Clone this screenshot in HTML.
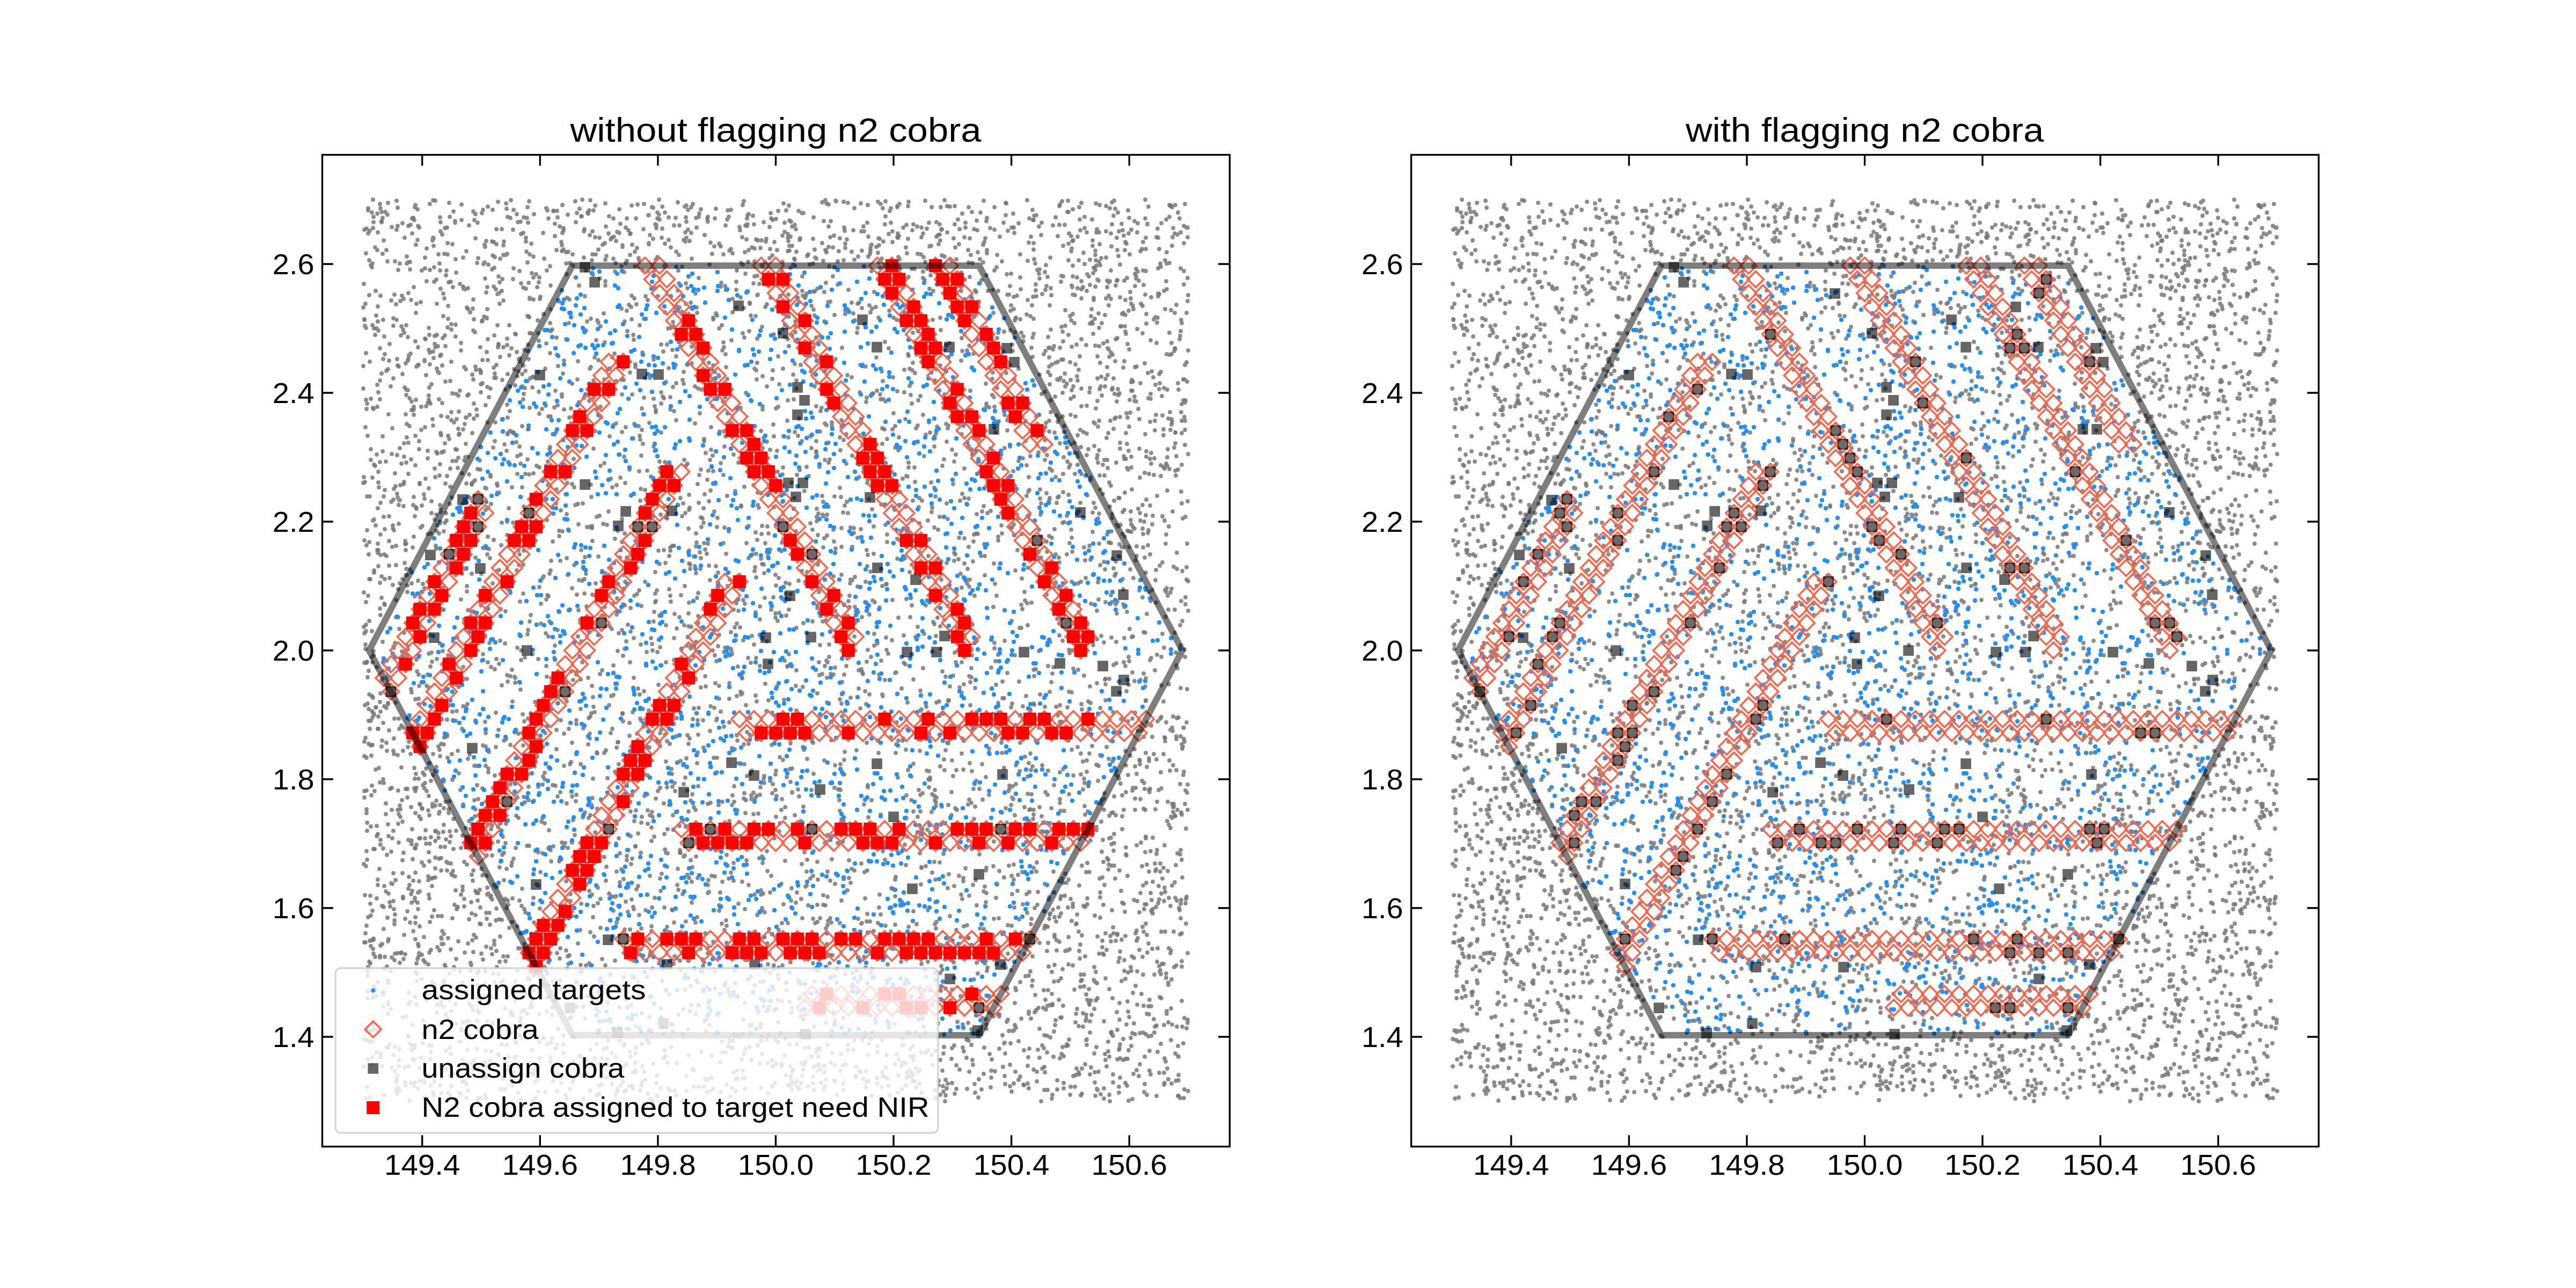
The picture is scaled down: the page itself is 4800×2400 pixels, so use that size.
<!DOCTYPE html><html><head><meta charset="utf-8"><style>html,body{margin:0;padding:0;background:#fff;width:4800px;height:2400px;overflow:hidden}svg{display:block}text{font-family:"Liberation Sans",sans-serif}</style></head><body><svg width="4800" height="2400" viewBox="0 0 4800 2400"><rect width="4800" height="2400" fill="#fff"/><defs><g id="tg" stroke="#777" stroke-opacity="0.85" stroke-width="7.8" stroke-linecap="round" fill="none"><path d="M1317 2035h0M1547 1780h0M1527 1456h0M1451 1803h0M1199 427h0M2015 757h0M1565 815h0M1918 1662h0M963 1063h0M2188 654h0M1175 1969h0M1889 754h0M771 1000h0M987 760h0M2164 1665h0M682 2047h0M824 1203h0M1051 576h0M1722 1181h0M781 1278h0M2051 1497h0M1904 1615h0M1644 1938h0M1731 1377h0M1084 2003h0M2112 2001h0M1214 538h0M1882 1984h0M1329 2029h0M1168 1983h0M1229 409h0M1522 948h0M1494 1064h0M1695 594h0M1400 1975h0M764 1867h0M1152 1688h0M1018 800h0M2200 500h0M922 822h0M1857 1110h0M1023 1430h0M2007 517h0M1243 1381h0M1144 1101h0M1554 983h0M713 473h0M720 1384h0M1897 1630h0M1884 1500h0M1000 1391h0M1923 1093h0M2170 873h0M1803 658h0M819 1397h0M1831 1791h0M1272 1528h0M1600 1283h0M1252 893h0M1371 2033h0M1458 1226h0M827 1740h0M1877 1842h0M1580 956h0M1161 2016h0M830 901h0M1089 619h0M1896 1660h0M1258 1078h0M1433 1876h0M1222 484h0M786 1779h0M715 1806h0M1599 478h0M1293 1712h0M1911 1742h0M2145 844h0M1478 698h0M1913 924h0M1082 1424h0M1620 1294h0M1215 1200h0M1898 687h0M1949 1881h0M1951 1550h0M1654 2010h0M1267 1790h0M1482 619h0M2114 1396h0M1942 1434h0M1296 1509h0M715 1848h0M697 1063h0M1304 1742h0M695 760h0M1473 1322h0M2123 1100h0M1312 1133h0M1429 823h0M1881 1470h0M1741 1483h0M1802 1087h0M1168 677h0M1726 1317h0M897 1069h0M2204 966h0M1927 718h0M1573 1663h0M1765 433h0M1621 1511h0M1182 1322h0M1270 1335h0M848 415h0M1455 1100h0M1923 569h0M1239 861h0M2208 829h0M1473 1107h0M1176 655h0M887 1346h0M2067 1265h0M1228 1674h0M2190 826h0M1313 438h0M1100 2032h0M1999 1690h0M883 1742h0M1891 1910h0M1549 1345h0M2055 1777h0M1990 824h0M1696 647h0M1181 1287h0M1088 480h0M695 1859h0M1111 1880h0M783 1499h0M2005 1722h0M2083 725h0M2015 378h0M2004 1905h0M1270 1209h0M757 1894h0M680 898h0M791 2017h0M1400 674h0M1359 1530h0M1791 508h0M1985 1628h0M1750 728h0M1889 2019h0M1586 1768h0M1059 1070h0M1229 860h0M1422 1783h0M1134 1544h0M2115 1927h0M2012 409h0M1597 1509h0M880 1536h0M1950 919h0M761 883h0M1349 1354h0M1157 1339h0M1615 1138h0M781 424h0M2084 1792h0M2173 1814h0M1780 718h0M1116 1105h0M1463 1120h0M2191 2014h0M1066 1613h0M942 1980h0M1355 924h0M1587 1024h0M1417 1914h0M1688 1612h0M733 593h0M2139 695h0M764 1061h0M1637 489h0M2013 1558h0M2004 679h0M905 1391h0M1209 453h0M927 606h0M1538 1357h0M1995 2025h0M1101 684h0M1611 818h0M2099 454h0M2159 1651h0M1247 1066h0M907 1712h0M2102 1344h0M1941 415h0M1860 1310h0M1168 1603h0M838 1493h0M743 1975h0M831 513h0M1067 474h0M807 1444h0M891 2051h0M1376 1138h0M1243 642h0M1006 1972h0M1129 848h0M1447 1483h0M1732 1122h0M1486 555h0M1538 729h0M1758 1591h0M786 1607h0M2106 769h0M1398 1911h0M1356 1492h0M2000 1246h0M792 1459h0M1808 912h0M1120 1283h0M1472 1987h0M849 1659h0M855 767h0M1928 1337h0M1560 1713h0M797 840h0M744 932h0M733 931h0M1163 1180h0M773 1142h0M711 1074h0M1393 680h0M1880 1921h0M1309 1495h0M1974 1093h0M1206 1667h0M1514 1589h0M1887 1178h0M2133 1039h0M1363 634h0M1729 1567h0M1042 1140h0M747 625h0M1686 1525h0M1289 677h0M1329 595h0M1070 1020h0M867 1575h0M2029 1026h0M1574 942h0M1732 1535h0M1977 1823h0M691 1763h0M1084 831h0M1291 1340h0M1889 424h0M1026 776h0M1975 1496h0M1955 784h0M2184 1524h0M1918 913h0M837 1314h0M1854 766h0M1103 485h0M1294 572h0M1975 961h0M1184 1995h0M704 571h0M1351 740h0M1475 899h0M1799 1080h0M1370 1832h0M1068 495h0M1349 804h0M1955 804h0M1760 478h0M1491 826h0M859 639h0M1722 850h0M813 1022h0M1689 1826h0M859 1580h0M1871 1635h0M1659 1759h0M2075 1739h0M2068 1011h0M1438 1291h0M1779 418h0M1943 836h0M1556 1647h0M1105 1985h0M1267 1262h0M1336 982h0M1004 1849h0M1463 1524h0M1442 623h0M1860 1343h0M704 1013h0M1435 669h0M1359 1543h0M1251 1951h0M750 416h0M980 538h0M1496 1360h0M827 1287h0M2008 1392h0M1617 1965h0M1426 572h0M1787 1002h0M1551 1962h0M1044 1185h0M1610 873h0M933 1148h0M1687 569h0M1285 1298h0M1211 1519h0M1339 1493h0M1650 786h0M2048 839h0M1112 1402h0M684 1533h0M1773 1789h0M1186 567h0M2145 1930h0M1402 596h0M1021 1148h0M685 1847h0M1843 1887h0M1217 1982h0M2046 1455h0M770 764h0M1842 593h0M882 1140h0M1459 1416h0M1693 871h0M1704 637h0M805 1708h0M2096 918h0M1328 960h0M2060 1739h0M1283 985h0M2065 1959h0M1962 1562h0M1710 949h0M2211 675h0M1007 1826h0M2038 555h0M1301 1105h0M954 1317h0M1183 496h0M2101 1632h0M2048 611h0M1762 1398h0M1069 855h0M1956 873h0M2058 1478h0M744 2032h0M1641 687h0M1683 569h0M781 1521h0M1166 1408h0M2053 1491h0M1760 1272h0M1302 937h0M1412 1948h0M759 1470h0M2160 1676h0M2161 1858h0M1030 1829h0M1082 643h0M1865 847h0M1857 1796h0M1670 987h0M678 1610h0M1550 1459h0M2211 1057h0M1738 496h0M2207 707h0M1408 1750h0M886 1705h0M1536 692h0M1446 1436h0M845 1526h0M1418 1458h0M1451 1733h0M2069 784h0M1981 1586h0M1748 1408h0M1536 1417h0M1947 730h0M1471 1812h0M1674 2004h0M805 1651h0M693 1752h0M1400 1489h0M791 1057h0M2085 1956h0M2182 1522h0M1732 1606h0M2107 953h0M1499 1365h0M1588 1019h0M1157 1668h0M1684 1756h0M697 866h0M1532 1630h0M1465 1270h0M1903 1127h0M1485 885h0M1997 1002h0M1988 834h0M1946 1730h0M1725 632h0M2120 1748h0M1452 1928h0M1396 617h0M1753 615h0M1853 797h0M1165 1768h0M1889 977h0M1242 1459h0M2072 1696h0M760 727h0M2132 1694h0M737 906h0M1394 488h0M1505 661h0M1587 1838h0M1643 1036h0M936 1092h0M1007 1678h0M2193 1678h0M1168 1917h0M1979 1475h0M1746 1541h0M1534 935h0M782 900h0M1817 2036h0M1829 2030h0M1611 1625h0M1401 1436h0M756 2023h0M1108 1327h0M2105 474h0M715 1690h0M1885 1581h0M2196 2042h0M2057 1197h0M830 645h0M2093 1020h0M1206 569h0M679 595h0M1572 793h0M1575 1926h0M1476 625h0M843 998h0M1114 1654h0M758 1360h0M2106 544h0M935 542h0M979 1737h0M1914 745h0M1419 1097h0M1553 1074h0M1100 1737h0M1096 1542h0M2096 608h0M1259 828h0M985 1491h0M1237 1497h0M1970 707h0M2053 737h0M2072 418h0M2059 1266h0M1595 2005h0M2101 1267h0M995 1387h0M1178 1891h0M1895 1540h0M910 1439h0M2059 1061h0M1668 834h0M1836 444h0M736 1704h0M1233 1800h0M1516 1124h0M1362 1209h0M1355 1762h0M2087 777h0M1352 1060h0M893 1581h0M777 1251h0M1672 1041h0M1031 393h0M930 1237h0M1502 586h0M927 1527h0M1345 606h0M1100 1519h0M1073 1652h0M1632 1905h0M1931 1882h0M1706 1100h0M1205 1306h0M1686 1040h0M1212 2048h0M917 1538h0M1463 1366h0M836 1508h0M1567 1964h0M1375 1602h0M694 606h0M993 702h0M1162 1821h0M1985 1772h0M709 1292h0M1005 1094h0M1536 1986h0M1017 886h0M741 1407h0M1002 597h0M1661 1326h0M1733 841h0M1332 1810h0M2005 1889h0M2200 1584h0M1143 482h0M1546 856h0M1083 1025h0M1392 1446h0M2174 539h0M1181 920h0M1862 1059h0M1021 883h0M934 1016h0M770 406h0M1225 396h0M956 520h0M1332 1633h0M1663 451h0M1523 592h0M1228 1795h0M862 2015h0M1426 1274h0M1291 1674h0M1981 1874h0M725 1361h0M1262 651h0M1588 849h0M1304 758h0M1364 1394h0M994 1535h0M1237 1654h0M1012 434h0M1713 1028h0M2124 1424h0M1631 1898h0M1311 2025h0M1056 958h0M1557 827h0M2079 1519h0M835 1059h0M1206 1480h0M1733 1453h0M1431 1929h0M1812 1578h0M1248 1493h0M908 1398h0M900 1389h0M2143 1115h0M1187 462h0M1573 1127h0M867 1001h0M1256 1719h0M1239 796h0M1477 672h0M1150 1115h0M1151 2033h0M752 557h0M1728 646h0M1655 1218h0M1061 778h0M2093 583h0M1795 1915h0M1406 515h0M1153 847h0M1584 1087h0M1658 588h0M1723 522h0M2202 1791h0M2036 991h0M899 597h0M1808 1314h0M1870 873h0M1347 1134h0M1341 804h0M1330 1412h0M1164 1209h0M1774 1417h0M1180 1402h0M1006 1751h0M1279 1237h0M1827 396h0M1433 1251h0M1300 658h0M1355 706h0M1616 1832h0M1601 1996h0M1914 1585h0M779 1694h0M1664 1700h0M2026 1164h0M781 1337h0M1492 1530h0M934 1555h0M1720 1245h0M1735 899h0M786 1824h0M1733 1552h0M2175 868h0M1214 2050h0M1580 577h0M1552 741h0M1066 1096h0M1030 1463h0M1396 1738h0M1818 1267h0M1498 1397h0M897 1619h0M1481 678h0M1994 675h0M2074 1930h0M2019 965h0M1062 2029h0M2136 1645h0M1495 542h0M2114 1269h0M1728 501h0M1683 1755h0M780 1763h0M1515 1632h0M1019 969h0M1114 644h0M1710 1998h0M2115 1328h0M1349 1215h0M1397 1951h0M1718 1545h0M1500 555h0M755 2017h0M896 2046h0M1820 958h0M977 652h0M1271 1726h0M827 1387h0M1826 1030h0M1496 607h0M1124 643h0M1427 517h0M1281 1473h0M1287 564h0M1481 419h0M1426 1012h0M813 959h0M2074 1514h0M1604 986h0M1371 1930h0M1489 780h0M1401 1909h0M1005 871h0M1831 1490h0M1514 778h0M962 824h0M1679 1043h0M870 1559h0M1867 1377h0M1415 1409h0M2119 1679h0M1025 1754h0M2121 948h0M1923 1492h0M1361 891h0M741 681h0M1718 933h0M1024 1789h0M1743 1639h0M717 660h0M948 1340h0M1092 1069h0M1827 1901h0M1256 1306h0M765 659h0M1026 576h0M1924 1428h0M1278 586h0M1386 375h0M1079 750h0M1569 1271h0M1513 1690h0M740 2004h0M1286 1060h0M1846 860h0M903 1416h0M1333 901h0M946 697h0M968 1033h0M848 412h0M702 1558h0M816 1707h0M1797 1050h0M1072 941h0M1819 840h0M1761 2052h0M1612 1288h0M875 1929h0M1781 757h0M700 1318h0M1135 1665h0M2054 1765h0M818 1323h0M1834 1218h0M702 1674h0M1253 1696h0M1653 1828h0M1636 520h0M1712 945h0M841 1963h0M1330 1175h0M2131 1373h0M1672 1004h0M1821 1704h0M913 1723h0M1149 1485h0M777 1815h0M773 1947h0M1514 638h0M926 1652h0M738 2016h0M1425 1114h0M1254 1519h0M823 1707h0M915 1767h0M1205 1215h0M966 692h0M1502 780h0M1765 994h0M1618 441h0M1461 1304h0M1469 815h0M1221 537h0M2115 533h0M1891 597h0M1467 784h0M702 847h0M1959 1506h0M1614 1123h0M2048 433h0M1003 1744h0M1014 1333h0M991 509h0M1713 975h0M1828 1036h0M1518 588h0M1609 2010h0M971 1934h0M2010 485h0M911 740h0M1418 1667h0M1149 983h0M1035 728h0M2021 1502h0M1975 1439h0M1340 1356h0M951 1435h0M679 1474h0M1264 1891h0M2121 1211h0M1302 1556h0M723 1310h0M1192 993h0M1557 669h0M1044 705h0M2045 1860h0M1678 1779h0M1350 832h0M1374 1995h0M1532 1891h0M1579 699h0M1282 391h0M1410 1378h0M1350 1626h0M1129 599h0M826 1095h0M1666 899h0M1994 2040h0M1842 1347h0M1628 1704h0M1742 709h0M793 892h0M985 793h0M971 1212h0M1642 1060h0M1232 731h0M2181 384h0M1883 887h0M1973 1863h0M1806 764h0M1926 1236h0M1234 1828h0M1675 440h0M1904 1078h0M755 1014h0M1578 1622h0M1058 1746h0M1029 614h0M1101 903h0M1556 1244h0M1729 1571h0M899 1153h0M1821 429h0M983 1779h0M684 1602h0M1338 1067h0M1076 802h0M801 1572h0M1311 1844h0M1958 746h0M1310 830h0M1088 1430h0M736 1225h0M1019 504h0M1331 953h0M1015 1452h0M1866 979h0M1200 1997h0M763 794h0M987 474h0M1481 1782h0M737 1309h0M1003 2034h0M1115 773h0M1799 1618h0M839 873h0M1628 1592h0M2171 1662h0M840 1769h0M694 1337h0M682 1614h0M1343 534h0M2173 1346h0M1715 738h0M1710 793h0M1539 601h0M1729 1792h0M1730 1571h0M1985 825h0M1082 1509h0M1250 611h0M2206 421h0M1382 1093h0M1457 972h0M1639 1265h0M697 1332h0M2129 1113h0M985 799h0M2192 568h0M1216 1233h0M1474 1238h0M2101 778h0M1082 586h0M1165 1084h0M811 1436h0M754 1989h0M1950 1584h0M1741 780h0M1058 833h0M1542 570h0M1473 1457h0M1518 1458h0M1528 1955h0M967 2016h0M860 1000h0M1628 1253h0M1536 599h0M1517 1913h0M1056 1040h0M785 1971h0M1901 517h0M1189 1283h0M1913 1525h0M1495 1533h0M1011 896h0M1611 1342h0M895 647h0M1066 1566h0M1885 1632h0M1509 493h0M1197 1987h0M1501 1978h0M1766 2019h0M1220 503h0M1117 443h0M1170 1877h0M1571 1897h0M1642 1318h0M2070 557h0M1499 508h0M798 1640h0M1087 1059h0M2067 1969h0M2045 747h0M994 925h0M902 590h0M1950 1009h0M964 1486h0M2037 1071h0M2022 1690h0M2063 684h0M1085 1082h0M1299 1709h0M1015 1802h0M2129 621h0M1523 1802h0M1539 1866h0M2047 1117h0M2041 644h0M1592 484h0M721 1801h0M976 1485h0M1452 1142h0M830 1494h0M1695 687h0M1650 978h0M1385 1118h0M1433 1029h0M775 1442h0M712 1987h0M872 1982h0M987 1810h0M1416 1981h0M1293 2025h0M1421 1608h0M730 1509h0M2085 1412h0M2027 1512h0M1034 1229h0M1908 2022h0M2030 1321h0M946 809h0M1648 800h0M2082 466h0M1456 923h0M714 669h0M1684 1947h0M959 1971h0M1744 1730h0M1326 2008h0M1502 1553h0M1650 526h0M2120 1362h0M1540 1633h0M1340 1278h0M2135 464h0M2003 844h0M797 1257h0M1825 911h0M730 846h0M1689 1511h0M1779 384h0M767 1066h0M1702 1512h0M1560 1806h0M803 1960h0M1982 2018h0M1964 1038h0M1807 444h0M1598 864h0M1108 1972h0M1696 1108h0M1840 1741h0M1729 1696h0M1184 1912h0M788 1944h0M1129 787h0M991 2000h0M982 1576h0M1706 1990h0M716 1316h0M1548 621h0M1776 1446h0M1366 1245h0M1715 1481h0M911 1518h0M1003 1025h0M884 1427h0M2007 957h0M1192 1382h0M1317 1899h0M745 491h0M970 926h0M778 390h0M945 969h0M789 1902h0M1710 823h0M2111 711h0M1352 813h0M2125 714h0M819 1771h0M1300 1350h0M868 827h0M1881 1464h0M1977 1670h0M1374 1380h0M2183 1097h0M721 1231h0M828 1833h0M2104 795h0M1285 946h0M2090 1751h0M2015 524h0M1007 1371h0M1143 1916h0M1462 432h0M1346 1643h0M2072 1928h0M1807 516h0M1111 717h0M685 1262h0M1250 552h0M1515 1287h0M2060 1351h0M2186 1513h0M1915 1058h0M1725 1310h0M771 1273h0M992 835h0M873 926h0M1655 2023h0M2049 382h0M882 1774h0M1303 1019h0M811 1635h0M1756 1251h0M1090 1038h0M1056 2046h0M1937 1917h0M1486 906h0M1313 921h0M1869 668h0M1907 627h0M1850 540h0M971 2050h0M1149 921h0M748 1430h0M2206 530h0M831 1891h0M800 1605h0M983 489h0M1882 680h0M1451 1315h0M995 1492h0M1302 1319h0M1029 1878h0M1617 1179h0M2034 1039h0M761 1871h0M1613 1061h0M693 1224h0M1166 796h0M1403 1024h0M1908 1544h0M2040 1998h0M1731 1005h0M1816 1198h0M1804 763h0M2121 1218h0M2206 1377h0M2071 1573h0M1332 407h0M1886 1486h0M1359 467h0M1441 1113h0M2010 1998h0M1500 1834h0M709 1034h0M1247 1853h0M2169 2021h0M2041 503h0M903 489h0M935 427h0M841 614h0M1649 1602h0M705 1920h0M1650 1782h0M691 837h0M1055 470h0M1099 687h0M714 1854h0M760 628h0M1222 839h0M682 1176h0M1989 1771h0M1691 767h0M900 1219h0M1902 539h0M961 1969h0M877 1545h0M868 1543h0M1392 1789h0M1752 681h0M2056 1030h0M1014 1935h0M1159 1989h0M1475 1778h0M2198 1696h0M2154 1620h0M1289 1562h0M705 1025h0M1726 547h0M1199 772h0M763 1340h0M960 1865h0M876 582h0M758 478h0M1409 1076h0M2048 1777h0M1222 1488h0M1629 1181h0M1668 794h0M1335 1550h0M1778 947h0M2082 630h0M757 726h0M2193 1060h0M1165 838h0M1715 1287h0M2158 500h0M1643 692h0M1773 1476h0M971 436h0M1991 454h0M1035 1953h0M2111 1850h0M829 1367h0M976 944h0M1901 1333h0M1212 1774h0M1694 1893h0M2109 1187h0M863 1502h0M1245 612h0M704 1639h0M1274 447h0M936 782h0M1853 1816h0M1992 1211h0M826 1136h0M772 410h0M2011 1772h0M1802 653h0M1748 1041h0M1150 1139h0M1457 1865h0M1563 757h0M1481 495h0M758 1071h0M921 1830h0M1870 655h0M1975 1314h0M838 939h0M1879 1474h0M740 669h0M1501 842h0M1395 980h0M850 508h0M1860 1315h0M1925 410h0M1015 752h0M876 1367h0M1261 1785h0M913 1040h0M1133 1256h0M1014 1165h0M1929 1466h0M1507 887h0M1141 1358h0M1718 1335h0M1874 1506h0M2057 1047h0M1456 1027h0M2026 1608h0M1990 1948h0M1777 444h0M1692 1598h0M2133 1470h0M1109 879h0M1490 1287h0M1384 1253h0M1173 871h0M1725 1614h0M1189 1553h0M1854 1088h0M1551 799h0M1230 872h0M2060 1975h0M1568 984h0M809 1003h0M1652 1966h0M1634 1168h0M936 1593h0M2211 1671h0M1825 1470h0M2023 1361h0M1937 698h0M1658 1065h0M949 864h0M1124 1341h0M2039 1880h0M1515 1244h0M1707 798h0M932 1194h0M1935 891h0M2209 1683h0M1553 1051h0M801 1106h0M1736 954h0M2195 1949h0M2081 748h0M954 908h0M774 636h0M1246 930h0M1948 1476h0M1148 1283h0M1525 957h0M779 1663h0M1705 695h0M1671 1443h0M2139 1016h0M1736 1966h0M1403 1746h0M2140 1758h0M679 1756h0M1660 1691h0M1200 772h0M1130 1284h0M1822 1097h0M1996 440h0M1420 1051h0M1882 1575h0M987 555h0M1515 1712h0M1386 574h0M1681 1980h0M1752 592h0M1390 1491h0M2098 1579h0M1185 1952h0M1476 422h0M2182 1879h0M1363 1747h0M1771 1523h0M1141 908h0M1716 1565h0M1342 1852h0M1597 620h0M1149 1535h0M937 781h0M1967 676h0M708 1134h0M752 1589h0M945 1451h0M862 1264h0M1448 1744h0M1140 640h0M1712 1899h0M2214 1138h0M1618 1523h0M1628 981h0M894 1150h0M1616 900h0M1466 913h0M1673 1449h0M2049 886h0M2102 392h0M1468 443h0M1004 730h0M1123 1105h0M1925 1526h0M2136 851h0M875 1157h0M1616 1703h0M1470 645h0M1514 1374h0M984 1823h0M1164 994h0M2182 1210h0M1409 1917h0M1538 1777h0M2162 1339h0M1446 1982h0M1572 1530h0M1159 1010h0M1093 1130h0M846 787h0M1964 1663h0M1126 863h0M1368 1465h0M2036 1186h0M792 1562h0M1745 414h0M1915 962h0M771 763h0M891 920h0M1470 1672h0M1104 431h0M716 2040h0M1324 1883h0M1018 388h0M970 413h0M1616 1132h0M908 721h0M1200 380h0M807 655h0M1419 1932h0M855 1995h0M1775 894h0M1045 2008h0M1368 1808h0M1634 1605h0M1296 1266h0M1122 904h0M1025 1432h0M1763 1882h0M1554 439h0M868 1483h0M1018 1241h0M704 1358h0M1782 817h0M1573 424h0M1368 1704h0M1847 1553h0M2095 1050h0M1549 1379h0M2133 677h0M939 450h0M822 1873h0M1573 1443h0M1825 1847h0M1731 1569h0M2090 417h0M1874 1347h0M1018 868h0M1162 1739h0M1758 2034h0M1149 1145h0M1780 1506h0M1830 965h0M807 373h0M1070 908h0M1874 401h0M1225 1215h0M1006 1693h0M2073 1419h0M1953 1074h0M863 938h0M1622 463h0M1241 712h0M2067 1562h0M2201 596h0M1251 1908h0M1906 1685h0M2199 2046h0M2195 396h0M694 1388h0M1669 1403h0M1719 1478h0M1239 582h0M1223 419h0M1494 799h0M2046 795h0M1751 1333h0M779 2029h0M695 1768h0M1973 708h0M850 1548h0M2073 1381h0M1208 1609h0M867 539h0M1795 1434h0M1250 757h0M2117 501h0M1948 654h0M786 1506h0M1641 1450h0M1716 1648h0M1151 1383h0M1108 666h0M1714 1994h0M1215 1513h0M1437 1136h0M1358 1849h0M1302 1873h0M1445 1472h0M1020 1814h0M1033 1226h0M695 1300h0M778 447h0M769 1106h0M1276 1568h0M1824 562h0M1783 1098h0M1772 934h0M909 1489h0M1455 1096h0M818 744h0M882 1552h0M1341 1230h0M951 1461h0M1847 2008h0M1364 1219h0M1631 863h0M1103 984h0M2164 416h0M922 1247h0M1779 1216h0M2099 1909h0M1617 1034h0M2075 1239h0M1027 1943h0M1322 1865h0M1320 1328h0M1739 542h0M959 867h0M1865 1244h0M1622 1065h0M2036 458h0M681 1201h0M1871 1540h0M1819 994h0M1270 1524h0M1364 2027h0M1656 436h0M1723 1845h0M1285 1231h0M1812 1400h0M1108 1571h0M1521 629h0M1856 1318h0M2085 1037h0M1633 609h0M2097 1973h0M1490 876h0M1211 1632h0M1547 1822h0M2073 661h0M715 963h0M1976 1328h0M1287 1208h0M1542 1624h0M835 570h0M1840 1803h0M1184 1963h0M2183 2019h0M1936 773h0M829 974h0M1840 1882h0M1375 969h0M1569 648h0M781 1174h0M715 1731h0M687 1847h0M1439 1055h0M1020 392h0M2060 706h0M1277 1815h0M750 1531h0M749 1214h0M855 2036h0M1111 890h0M2025 808h0M1362 836h0M1445 1151h0M1371 1193h0M2042 379h0M1539 1156h0M2031 484h0M824 751h0M1348 885h0M2024 1625h0M767 1957h0M1454 1230h0M1805 386h0M1017 1808h0M2090 1019h0M1110 474h0M1625 734h0M1766 967h0M1583 1535h0M1954 1676h0M1051 558h0M1400 747h0M1175 435h0M2062 1770h0M2055 1565h0M1759 1928h0M2152 1913h0M1720 773h0M950 866h0M1080 1223h0M805 1830h0M1218 1783h0M1154 1690h0M997 1765h0M1506 474h0M1923 1206h0M1860 1357h0M1728 1546h0M1983 973h0M1972 1828h0M1635 901h0M1726 1820h0M1646 1343h0M891 1858h0M1978 670h0M1058 1580h0M2164 1277h0M2160 697h0M844 1195h0M1214 1542h0M1465 392h0M1250 1121h0M1394 1327h0M1857 498h0M1310 670h0M940 1336h0M1167 1195h0M1521 482h0M1220 1701h0M1185 1998h0M1184 1577h0M2024 1891h0M862 1557h0M1291 1496h0M2084 928h0M1268 1589h0M1982 1590h0M1132 1868h0M921 704h0M1410 1307h0M1579 1801h0M735 549h0M678 1936h0M1720 1124h0M762 1634h0M722 1266h0M1960 1852h0M922 696h0M1725 1879h0M1623 737h0M1737 1626h0M1657 694h0M722 1246h0M2009 1248h0M1363 1213h0M2193 1030h0M799 1218h0M1496 551h0M1298 1329h0M1412 1661h0M2083 396h0M1441 791h0M1381 944h0M2206 453h0M821 1578h0M1408 1296h0M822 1992h0M1537 1571h0M1187 991h0M1716 1049h0M1050 429h0M1665 1702h0M2068 524h0M1377 654h0M770 941h0M2177 1136h0M1340 808h0M1186 715h0M1693 663h0M2116 1044h0M1467 1441h0M1593 597h0M994 1673h0M1997 1290h0M2028 1332h0M795 524h0M1793 920h0M2145 1226h0M1982 1398h0M1082 1811h0M1652 1088h0M690 1669h0M769 1974h0M1930 530h0M1174 694h0M1243 1736h0M2190 1673h0M965 414h0M1174 1234h0M908 1554h0M1766 1129h0M702 1539h0M1589 1361h0M1693 516h0M1177 595h0M1719 1553h0M800 749h0M983 856h0M1001 535h0M804 934h0M778 1682h0M2143 855h0M1285 601h0M2190 650h0M1952 1874h0M2169 542h0M852 947h0M1147 1530h0M1806 1490h0M2007 701h0M1704 1567h0M1150 1274h0M1792 1291h0M964 850h0M2173 1103h0M846 1802h0M1450 1942h0M1788 1281h0M792 480h0M2141 1413h0M2097 559h0M1965 986h0M1599 1784h0M1151 1467h0M1391 1603h0M1057 900h0M1532 453h0M1714 1590h0M1765 384h0M1410 1877h0M1850 694h0M864 538h0M1627 681h0M2162 1624h0M2164 1469h0M1776 1259h0M1868 1301h0M888 947h0M945 1920h0M708 861h0M2097 1824h0M1376 1422h0M1232 1188h0M800 1422h0M1956 1873h0M722 1710h0M1022 1111h0M1200 1288h0M1765 1384h0M1190 794h0M1978 1964h0M1289 482h0M1668 1670h0M1367 847h0M1916 1320h0M1230 1162h0M1092 1799h0M1192 1856h0M2190 1963h0M1216 2052h0M768 435h0M970 1285h0M1575 585h0M2166 774h0M861 1358h0M1155 1644h0M1013 585h0M1014 482h0M915 1243h0M1754 1080h0M1575 462h0M1506 1687h0M1816 1459h0M1276 1092h0M1975 381h0M1911 785h0M1025 602h0M1930 541h0M1893 1461h0M1541 1263h0M1166 2032h0M822 1599h0M906 935h0M1710 1065h0M1293 1752h0M1717 2036h0M2093 685h0M1955 999h0M1478 493h0M1613 546h0M1196 1522h0M1529 667h0M922 1445h0M1646 450h0M1948 1443h0M1527 967h0M862 1905h0M695 1910h0M1716 1859h0M1806 644h0M2147 977h0M1375 1722h0M1488 393h0M1162 1457h0M1607 680h0M2039 1802h0M1246 686h0M709 937h0M1142 639h0M1231 1879h0M1353 540h0M1942 1426h0M824 437h0M1732 459h0M1076 755h0M2010 1127h0M1105 500h0M1234 385h0M1995 1675h0M915 1192h0M1601 564h0M1269 1109h0M1878 1230h0M776 1795h0M2091 1682h0M2053 1288h0M1868 1740h0M2014 1828h0M2092 954h0M1354 1214h0M1437 652h0M2160 1999h0M979 1852h0M1241 1589h0M726 641h0M1645 710h0M1885 1220h0M1088 431h0M1178 1819h0M1620 1145h0M1387 1242h0M1824 2011h0M1142 1125h0M1279 413h0M1458 1116h0M1040 1296h0M822 811h0M2111 982h0M1408 1234h0M2073 1860h0M1154 569h0M742 1098h0M1020 1859h0M1257 2032h0M991 1769h0M896 695h0M1436 1423h0M2179 661h0M1066 1384h0M1418 873h0M1072 375h0M1638 1159h0M1652 1832h0M1399 1235h0M1929 491h0M795 1278h0M1076 1129h0M1512 1623h0M1230 1366h0M926 1494h0M2029 515h0M977 1344h0M689 674h0M1391 1012h0M833 1341h0M813 842h0M2022 1782h0M1758 742h0M1353 1032h0M1590 429h0M1664 703h0M1999 585h0M2192 1799h0M1515 1795h0M864 1338h0M1064 1794h0M903 1833h0M1460 1685h0M869 2020h0M827 1456h0M1207 559h0M1836 1017h0M1978 1282h0M2144 734h0M824 1735h0M1047 468h0M1596 892h0M1264 504h0M1597 929h0M761 1931h0M775 456h0M1806 1093h0M1374 2010h0M745 1794h0M1512 1482h0M952 1925h0M1251 1433h0M849 627h0M977 1406h0M953 1890h0M1927 1002h0M1039 1288h0M812 1548h0M1893 1426h0M1213 1595h0M947 1858h0M1047 735h0M2018 1419h0M910 1397h0M950 1928h0M1649 1490h0M1980 1194h0M789 2013h0M2181 1104h0M1654 1562h0M1544 422h0M1287 1603h0M1635 1220h0M1717 1796h0M1046 1721h0M1774 1844h0M1017 1423h0M856 1259h0M1630 892h0M1824 859h0M1233 1143h0M1049 820h0M1279 443h0M1214 1567h0M939 1380h0M1649 1267h0M1939 1577h0M1500 766h0M1415 1599h0M1613 683h0M1665 770h0M745 932h0M799 1667h0M2009 1087h0M1284 1050h0M2041 467h0M1412 1883h0M1751 1762h0M1178 1600h0M1610 1783h0M1811 1221h0M1394 1188h0M679 1382h0M1869 1446h0M774 867h0M1209 1302h0M919 1814h0M1801 901h0M1401 461h0M994 478h0M1439 577h0M2077 780h0M931 1585h0M1309 966h0M1254 721h0M840 1063h0M840 1964h0M1208 1090h0M1945 660h0M2064 872h0M1706 1740h0M1920 850h0M987 557h0M1529 766h0M1951 1028h0M2141 1472h0M1034 417h0M1516 1586h0M1240 1049h0M1536 1003h0M1727 1436h0M984 1825h0M2047 1997h0M792 500h0M708 649h0M1298 1011h0M1873 1963h0M688 1079h0M1622 1536h0M1038 747h0M772 1431h0M869 1321h0M714 1876h0M1727 426h0M767 1290h0M688 1792h0M1590 584h0M2098 1476h0M886 1343h0M1418 1041h0M1350 1733h0M1948 796h0M871 1956h0M1215 1708h0M839 2006h0M2022 1518h0M1720 1357h0M1684 1235h0M2123 1416h0M2067 1304h0M1160 1330h0M2021 492h0M1061 583h0M1085 1779h0M1102 1799h0M1466 589h0M827 1537h0M1554 2013h0M1426 489h0M1615 2016h0M777 1376h0M2070 1109h0M2052 1185h0M2007 1880h0M687 1033h0M782 1661h0M735 1789h0M1768 1166h0M870 1092h0M1966 1910h0M1355 1673h0M827 1876h0M2163 887h0M1954 648h0M1389 1515h0M1321 676h0M807 2035h0M2191 1216h0M1576 709h0M1156 890h0M1015 1308h0M1147 2039h0M1024 1069h0M734 1405h0M1642 527h0M1590 1848h0M1411 1705h0M1512 570h0M1908 1452h0M849 837h0M2113 1677h0M2075 705h0M1485 1663h0M2079 1046h0M1533 1868h0M1156 1704h0M696 404h0M775 583h0M1617 894h0M1035 649h0M1804 1747h0M1793 398h0M1636 1380h0M2132 1459h0M2190 806h0M1700 1398h0M1947 857h0M1262 1512h0M2212 711h0M1589 1834h0M1797 928h0M726 1946h0M1271 1045h0M1284 1618h0M1954 1569h0M1926 465h0M1164 1128h0M2074 2002h0M1836 1020h0M1011 1331h0M1763 1020h0M1062 1136h0M1993 1769h0M1723 907h0M905 1958h0M2008 851h0M1446 1489h0M1963 1969h0M1946 2031h0M1021 1455h0M835 594h0M2209 963h0M1635 548h0M2011 1650h0M1080 389h0M1583 1919h0M1257 1782h0M1617 1467h0M941 1879h0M1323 977h0M1369 1396h0M1403 651h0M1270 1636h0M843 733h0M920 1006h0M678 1104h0M1380 1289h0M1687 1832h0M1106 709h0M1253 1466h0M1406 794h0M1607 1350h0M2201 916h0M2110 1339h0M857 529h0M879 903h0M1393 418h0M1439 706h0M809 1696h0M1352 1610h0M1605 1721h0M2122 2005h0M1507 1931h0M773 1388h0M695 1940h0M723 1952h0M1952 516h0M1667 554h0M1442 945h0M1672 619h0M1899 1713h0M1926 1248h0M1183 469h0M1673 1389h0M1388 681h0M1380 1558h0M964 701h0M1222 764h0M1207 1535h0M1055 632h0M2200 1282h0M2068 944h0M957 391h0M1437 1632h0M1440 1987h0M1391 1111h0M1157 667h0M1421 757h0M2147 1373h0M1432 1040h0M1452 1650h0M1109 383h0M1446 1091h0M679 1235h0M976 405h0M1992 1289h0M1398 1556h0M1732 1538h0M1277 450h0M875 1406h0M1337 542h0M2177 1905h0M2066 526h0M2016 1322h0M1196 1888h0M1279 2033h0M2136 603h0M735 1722h0M889 1008h0M820 405h0M1847 1192h0M1143 1240h0M1195 1533h0M1100 373h0M1272 1666h0M1512 717h0M2184 458h0M1003 1466h0M1532 377h0M2171 1375h0M1674 839h0M1741 1163h0M1882 1161h0M1611 604h0M1232 752h0M1446 526h0M1193 2032h0M1318 1893h0M1221 1122h0M1994 973h0M1369 1169h0M1462 1231h0M1502 566h0M1091 1020h0M837 1863h0M1229 1147h0M1870 1738h0M2203 1157h0M757 606h0M1869 1988h0M1371 1184h0M696 1749h0M1998 449h0M828 1037h0M1196 761h0M1081 1967h0M2136 841h0M2046 1085h0M807 793h0M1635 1199h0M853 1690h0M1717 1616h0M1503 870h0M1611 1932h0M1812 1925h0M1965 1746h0M1427 450h0M813 989h0M1375 1117h0M2058 1649h0M792 796h0M899 671h0M1158 575h0M2033 1370h0M1539 466h0M945 972h0M2097 1399h0M714 1452h0M1232 1360h0M1679 1339h0M828 556h0M1871 618h0M709 551h0M2135 1067h0M1943 799h0M2196 1337h0M820 663h0M1092 1975h0M1284 1123h0M849 1007h0M916 924h0M2184 786h0M1834 1014h0M845 1582h0M1299 1753h0M1644 1092h0M1843 1474h0M1607 1009h0M1209 455h0M1028 1269h0M2008 441h0M1927 402h0M1554 1009h0M1610 431h0M2157 1767h0M1892 594h0M1886 1666h0M743 941h0M1235 739h0M693 498h0M1174 1400h0M1317 1839h0M1910 1410h0M1806 1669h0M1190 481h0M1826 1730h0M2026 511h0M1550 1332h0M1386 1387h0M982 1486h0M1915 1447h0M1950 1726h0M1751 931h0M1332 693h0M1929 1854h0M1711 746h0M1195 1730h0M1187 1367h0M937 1559h0M1677 917h0M1409 1675h0M2039 499h0M1419 494h0M1140 443h0M1912 1434h0M1274 1461h0M1494 1778h0M2174 660h0M2050 1319h0M1881 1398h0M1704 501h0M1392 421h0M727 1171h0M1343 1598h0M1694 1925h0M1361 2043h0M1215 525h0M1761 1095h0M2174 470h0M2155 442h0M1729 612h0M2128 464h0M1502 1356h0M1528 1711h0M1108 649h0M1025 833h0M1649 941h0M1175 1119h0M931 526h0M1618 2014h0M1353 1372h0M1772 1864h0M1523 1133h0M1751 1607h0M1433 1731h0M733 1548h0M2104 990h0M2057 2028h0M878 1681h0M1043 1786h0M1820 1327h0M2133 1685h0M850 734h0M1191 485h0M1413 1887h0M1372 540h0M1193 727h0M1974 895h0M2095 523h0M2015 883h0M2008 866h0M2065 1620h0M2158 552h0M976 1026h0M684 1548h0M1833 1771h0M897 984h0M1440 690h0M1767 1042h0M1680 1283h0M1176 1873h0M1625 575h0M1756 1807h0M2142 1863h0M960 718h0M1431 1881h0M943 1460h0M831 1240h0M1199 1430h0M1920 589h0M890 1920h0M1623 1224h0M1784 1904h0M1066 902h0M2070 1012h0M1924 391h0M906 449h0M1165 1615h0M932 665h0M1420 866h0M1007 1625h0M1760 1435h0M938 457h0M854 737h0M2181 1776h0M904 2041h0M1704 2015h0M1996 1462h0M1176 572h0M1843 1395h0M2032 1310h0M1852 1294h0M2192 850h0M714 1234h0M1819 1892h0M1442 1799h0M1835 1072h0M1356 1207h0M853 872h0M686 392h0M1005 771h0M1350 1125h0M2206 1356h0M2139 993h0M1852 1712h0M1294 1671h0M1901 595h0M723 688h0M1793 1675h0M1557 1022h0M1870 415h0M1473 1238h0M694 890h0M1788 1993h0M1992 871h0M1353 684h0M1320 1640h0M1686 1524h0M1260 2041h0M1895 959h0M1760 373h0M1680 1587h0M1395 466h0M760 1231h0M1488 1827h0M2070 1754h0M1011 1590h0M1499 694h0M1386 1612h0M1679 1687h0M2055 866h0M888 1664h0M1318 408h0M1469 1303h0M2030 1404h0M814 687h0M1528 1797h0M1256 1230h0M1106 1688h0M1522 1985h0M1914 726h0M954 1645h0M1947 1647h0M2085 1270h0M1117 506h0M1602 1051h0M713 1196h0M1339 1888h0M738 1053h0M983 710h0M1365 1575h0M1014 1735h0M1530 627h0M1566 1424h0M834 453h0M1735 458h0M1026 1063h0M2091 1521h0M2072 958h0M1550 1920h0M1794 1506h0M1239 1583h0M1754 428h0M1156 2023h0M1058 1782h0M1475 1241h0M1868 1270h0M1040 1310h0M2181 1543h0M999 1783h0M2163 1439h0M2070 1561h0M1104 1412h0M1177 1676h0M2205 1944h0M2095 855h0M1129 1902h0M824 1251h0M1011 1337h0M1448 1279h0M1138 1366h0M1871 1944h0M863 480h0M1632 1543h0M1971 674h0M1319 1649h0M1678 1686h0M1169 1088h0M820 1409h0M1620 519h0M1859 787h0M1920 1312h0M1815 1825h0M1137 1524h0M1471 411h0M899 892h0M1560 1356h0M1022 407h0M1380 1423h0M1985 1429h0M2079 532h0M917 1778h0M1035 1077h0M2196 726h0M1644 827h0M1693 705h0M1931 552h0M771 535h0M1528 1202h0M1978 1153h0M1485 1946h0M1989 395h0M803 1770h0M2177 2011h0M1519 480h0M1484 1170h0M1055 1771h0M1446 1309h0M1335 1232h0M1638 1135h0M843 1453h0M1957 1702h0M964 883h0M1194 999h0M937 1230h0M2142 1995h0M869 1059h0M2166 1637h0M1999 495h0M826 1550h0M874 1713h0M1296 1569h0M1404 935h0M1863 898h0M2186 1426h0M1473 499h0M1170 1555h0M2129 1317h0M1858 630h0M1624 618h0M817 1215h0M1940 1583h0M1811 1437h0M2067 665h0M1598 1849h0M734 1966h0M2066 1611h0M1396 819h0M2042 485h0M1086 1444h0M1538 466h0M1184 679h0M1955 933h0M2140 1875h0M1390 732h0M714 1264h0M766 1666h0M1371 2011h0M1595 1139h0M1445 1071h0M2003 2025h0M2156 924h0M1365 1854h0M2159 1472h0M1651 1119h0M960 1829h0M1436 1124h0M1449 879h0M681 1209h0M938 1782h0M1926 1311h0M1177 2023h0M908 535h0M2165 1796h0M1275 1064h0M1172 1706h0M2201 1514h0M1016 1741h0M1820 1794h0M2147 1099h0M1308 646h0M1938 1294h0M1605 1247h0M1142 1745h0M1058 1071h0M1060 602h0M1760 1584h0M1687 781h0M2021 425h0M1003 1588h0M1884 1808h0M1180 1282h0M860 1920h0M1358 1220h0M1435 1813h0M1282 1918h0M1168 486h0M781 822h0M997 1994h0M912 1198h0M1325 838h0M1122 1066h0M1525 1800h0M1002 693h0M1382 1974h0M948 1988h0M1534 732h0M1984 1669h0M1821 632h0M1475 1284h0M778 1106h0M1324 1429h0M1599 1829h0M1273 1881h0M1572 1499h0M1140 1962h0M991 1441h0M2116 1739h0M1951 1930h0M1621 473h0M1813 1984h0M1793 1315h0M1526 1045h0M1603 680h0M896 1722h0M776 1343h0M1821 980h0M1796 1380h0M2011 1153h0M1196 1945h0M1167 1654h0M1359 1302h0M1810 837h0M929 641h0M1376 1783h0M740 2038h0M2050 1672h0M684 2025h0M1585 1645h0M1403 1754h0M2078 389h0M738 1150h0M2125 1489h0M1761 689h0M1387 907h0M1682 1686h0M2044 1273h0M1960 894h0M1314 1260h0M1342 876h0M2172 1978h0M697 1838h0M2146 692h0M1056 1307h0M2168 800h0M1515 445h0M723 378h0M1313 689h0M1201 1811h0M1951 1772h0M1194 1769h0M1459 934h0M1180 1454h0M1949 788h0M945 754h0M1166 424h0M1315 1921h0M1776 703h0M2170 970h0M1998 945h0M947 1686h0M1553 1098h0M2171 485h0M924 539h0M1840 1876h0M1898 2012h0M1089 1352h0M1783 1240h0M2119 433h0M946 1678h0M1830 1348h0M1030 809h0M1340 612h0M1872 1943h0M1519 1320h0M2124 890h0M1348 474h0M1633 1746h0M1525 1483h0M1872 773h0M1264 1743h0M1509 1295h0M1564 1491h0M881 1641h0M932 482h0M934 1604h0M1795 1636h0M1605 1249h0M1083 1684h0M1021 860h0M1520 698h0M1216 1212h0M761 421h0M1307 1960h0M1691 1559h0M905 1359h0M1231 1240h0M2052 702h0M804 1637h0M2076 933h0M1877 1254h0M1931 401h0M1475 1878h0M1329 878h0M1218 832h0M681 1920h0M769 1601h0M970 1185h0M855 810h0M1275 1661h0M1529 1272h0M1688 461h0M2100 2023h0M835 812h0M1394 1226h0M2016 1613h0M1707 2026h0M763 1333h0M1211 438h0M831 1564h0M1674 1537h0M1047 575h0M1809 1826h0M1538 373h0M2187 1736h0M1375 1930h0M1839 1254h0M1243 1615h0M2123 1770h0M1956 569h0M1262 1421h0M832 1606h0M753 851h0M2037 622h0M747 1776h0M1693 633h0M2032 1359h0M1867 1403h0M2154 1690h0M2124 1983h0M920 1469h0M1883 579h0M841 783h0M1374 1857h0M1765 1805h0M1920 1508h0M1659 1473h0M1879 923h0M1221 418h0M925 1772h0M1038 393h0M687 1250h0M1458 439h0M762 662h0M2145 1697h0M2068 1125h0M792 2046h0M2028 1366h0M1680 1986h0M932 1745h0M889 1902h0M1362 1178h0M1441 1843h0M1079 1081h0M1397 566h0M804 1216h0M867 1060h0M1763 1748h0M1555 587h0M1016 1366h0M2120 1152h0M1220 827h0M1594 1542h0M1620 1097h0M1301 1451h0M985 1466h0M2212 1013h0M1903 1413h0M2187 1056h0M904 1810h0M964 1506h0M2100 1140h0M1465 1831h0M916 1162h0M886 444h0M726 1681h0M2037 1013h0M2140 1931h0M1674 500h0M2213 1462h0M2135 960h0M1682 1584h0M813 1923h0M1999 1019h0M2008 1549h0M2062 1104h0M2209 1126h0M1816 895h0M1249 868h0M1607 852h0M1904 1738h0M1712 1011h0M1328 757h0M2144 634h0M804 1948h0M2107 1934h0M1763 1113h0M1453 1534h0M2006 642h0M1633 903h0M2205 1356h0M1046 888h0M1336 1439h0M772 1469h0M2202 753h0M1271 962h0M2201 1120h0M1053 2040h0M1630 961h0M1233 1805h0M2062 1987h0M945 631h0M1411 514h0M751 1671h0M1790 1569h0M1196 586h0M1605 781h0M1471 1397h0M1247 1358h0M1540 379h0M1688 1098h0M1974 1162h0M1368 1328h0M1148 449h0M1297 617h0M774 1581h0M961 623h0M1176 923h0M1606 1150h0M1122 1850h0M1423 847h0M1639 1667h0M1241 1165h0M1926 594h0M1908 1957h0M2099 770h0M1749 799h0M725 672h0M1547 980h0M1888 1489h0M1302 2025h0M979 1536h0M1981 1645h0M1809 552h0M1195 1035h0M1146 1004h0M1219 1140h0M1916 916h0M1318 894h0M1706 1068h0M1378 1257h0M1924 665h0M1812 1843h0M2213 934h0M2179 620h0M1123 456h0M1332 1221h0M2112 576h0M1048 1580h0M1351 592h0M907 1021h0M1920 1810h0M1868 1800h0M1215 730h0M753 620h0M1336 588h0M1228 400h0M1559 2040h0M1503 547h0M864 1987h0M2209 746h0M1791 617h0M1470 1219h0M1683 1376h0M909 671h0M1073 517h0M1476 1432h0M1381 490h0M1860 1007h0M2078 673h0M1604 735h0M1540 764h0M760 1204h0M764 1945h0M1830 1772h0M1981 883h0M857 728h0M1606 467h0M2070 504h0M1066 1707h0M1731 1437h0M835 1608h0M1098 715h0M2081 978h0M2143 1033h0M825 1202h0M1758 760h0M1429 720h0M1941 1549h0M2104 406h0M1189 1018h0M1980 618h0M1705 898h0M2119 1872h0M1106 1869h0M1781 883h0M1253 1017h0M1658 2041h0M856 954h0M1016 687h0M2101 1866h0M1081 774h0M971 1160h0M1282 428h0M1895 1185h0M918 1906h0M1312 1227h0M2026 1674h0M1495 515h0M807 1405h0M915 1669h0M2050 1663h0M1409 1226h0M1305 1768h0M741 927h0M1429 516h0M1208 1363h0M1962 651h0M1561 1740h0M1681 1062h0M1027 1045h0M1222 795h0M2126 1570h0M865 1675h0M1609 960h0M2143 1230h0M1002 2010h0M1226 1474h0M1742 2031h0M687 1321h0M1281 537h0M829 1798h0M1536 944h0M2060 1275h0M2187 1498h0M1277 729h0M1408 1145h0M1408 1141h0M1613 1084h0M730 1468h0M1839 1133h0M1997 1716h0M1165 900h0M1960 1811h0M1900 1437h0M1338 533h0M967 1053h0M1510 1666h0M1612 1490h0M925 1228h0M1745 654h0M2019 805h0M1541 1739h0M1760 1690h0M2134 1588h0M963 656h0M1457 505h0M1182 790h0M1047 739h0M1796 1076h0M2123 1270h0M1924 629h0M1069 1523h0M850 1907h0M780 1224h0M2060 1305h0M1319 1013h0M840 1609h0M1838 1390h0M685 1818h0M1399 1925h0M1323 1188h0M1854 1996h0M800 1157h0M841 1884h0M2035 600h0M2148 1643h0M834 1899h0M1346 1961h0M1817 1356h0M2200 1372h0M1907 636h0M1539 901h0M774 1750h0M752 1356h0M1207 1445h0M1542 1556h0M960 1490h0M845 1232h0M1744 1495h0M1118 1297h0M947 861h0M1064 1420h0M2211 583h0M853 1399h0M2097 1208h0M1995 828h0M1129 1641h0M1926 1518h0M1542 1421h0M1022 1581h0M1753 1209h0M2069 1744h0M1259 680h0M872 2032h0M1297 1018h0M1417 1698h0M880 698h0M1544 460h0M1092 504h0M1890 1792h0M736 487h0M2211 1080h0M753 1179h0M991 1865h0M764 502h0M2031 1924h0M2135 443h0M1681 1948h0M1271 581h0M1430 1758h0M2035 409h0M1132 789h0M1013 720h0M1114 1924h0M1805 929h0M860 410h0M799 1281h0M1244 1590h0M2186 1504h0M1876 1233h0M1571 955h0M1730 1057h0M1027 1161h0M881 934h0M1193 1321h0M1855 1232h0M1392 1364h0M1083 403h0M1388 470h0M1440 891h0M1473 1793h0M1470 383h0M1212 1857h0M1835 1795h0M1331 1319h0M866 1982h0M1287 1206h0M1756 1555h0M2086 733h0M1752 1428h0M2125 1081h0M1424 1068h0M1473 1457h0M1562 1471h0M1073 1659h0M1978 1896h0M2213 442h0M954 805h0M1423 1451h0M1636 1720h0M1651 1576h0M1718 611h0M799 1483h0M678 1987h0M1843 984h0M2018 1471h0M999 511h0M1103 1278h0M1151 770h0M901 492h0M1632 688h0M2193 1060h0M1605 431h0M886 1003h0M1403 878h0M2155 639h0M1020 1353h0M1974 1184h0M1834 1711h0M1148 710h0M711 414h0M1955 1192h0M1583 1131h0M1862 1623h0M1606 1720h0M1294 1805h0M822 1866h0M1800 1083h0M1358 990h0M826 1453h0M1417 616h0M1288 386h0M1539 1906h0M1273 1426h0M1974 1124h0M1271 2052h0M1745 1537h0M2088 1460h0M2161 1054h0M1891 619h0M1740 817h0M1792 809h0M753 898h0M693 1983h0M1420 1596h0M791 1096h0M1788 585h0M689 1941h0M1695 719h0M1164 599h0M740 920h0M1246 447h0M2113 1907h0M995 1719h0M1089 574h0M1817 1282h0M1457 906h0M713 841h0M846 1807h0M2105 745h0M789 1261h0M1458 488h0M1779 1803h0M847 1169h0M2087 1946h0M2096 466h0M917 450h0M1119 1675h0M1345 1439h0M1261 1338h0"/><path d="M1945 1550h0M868 1325h0M2150 1899h0M1782 1733h0M2181 801h0M952 1885h0M1034 1172h0M2019 1688h0M1473 441h0M908 1667h0M1771 1920h0M1242 912h0M1178 1027h0M1751 1117h0M928 1568h0M1439 1741h0M1301 724h0M719 1497h0M1060 1358h0M977 1008h0M1126 1148h0M1333 1441h0M1247 862h0M1367 1608h0M1207 505h0M1603 1736h0M1792 630h0M968 1914h0M852 1188h0M830 1802h0M1114 613h0M1307 1172h0M1878 1777h0M1220 681h0M1158 707h0M2141 1890h0M825 1213h0M926 1064h0M2060 1122h0M1982 2028h0M865 1606h0M1736 938h0M844 2001h0M1730 1344h0M940 828h0M1904 995h0M2058 886h0M1008 1109h0M1537 2024h0M874 1028h0M1726 1377h0M2199 1209h0M2086 1785h0M1086 1523h0M1664 810h0M699 1783h0M1641 1521h0M1210 1393h0M1550 540h0M1838 1664h0M1949 1052h0M748 864h0M775 945h0M1623 457h0M863 1316h0M1710 1211h0M2101 1973h0M2163 693h0M715 448h0M1826 806h0M1203 1696h0M1403 1124h0M2060 1823h0M1070 872h0M832 504h0M1695 1066h0M1367 1849h0M1818 982h0M1697 1114h0M1153 1562h0M1423 1875h0M2213 518h0M1914 1701h0M699 461h0M1970 2030h0M1672 1884h0M1181 1263h0M1308 1810h0M698 1474h0M1612 1924h0M1534 962h0M1263 541h0M1324 1496h0M1772 484h0M1386 1136h0M879 1982h0M719 1517h0M1083 1509h0M1556 1902h0M2161 714h0M834 610h0M1333 899h0M2137 1889h0M1845 425h0M1642 1724h0M985 590h0M2108 566h0M1985 815h0M1394 1824h0M828 1827h0M2176 1494h0M1360 1856h0M2194 1590h0M1852 789h0M2008 709h0M1050 1946h0M1367 1998h0M819 1513h0M1581 1120h0M2040 594h0M930 546h0M2098 855h0M1937 502h0M1510 975h0M1158 1620h0M1753 386h0M1150 510h0M1228 372h0M1715 609h0M764 1719h0M1683 1042h0M1993 845h0M1149 1719h0M687 1343h0M786 1103h0M1253 1320h0M1744 2046h0M1497 1899h0M2051 2039h0M1780 1033h0M1044 1598h0M1835 641h0M854 799h0M1057 968h0M1265 528h0M995 1845h0M1053 604h0M1319 404h0M1102 1595h0M1664 1613h0M1497 1512h0M921 625h0M2110 728h0M1473 2006h0M1143 1729h0M871 1312h0M2100 518h0M1815 1188h0M803 2023h0M1387 629h0M1516 543h0M1633 460h0M743 683h0M1965 1709h0M1703 1892h0M1985 720h0M1820 411h0M1536 544h0M2124 956h0M1785 409h0M1833 1731h0M1509 1759h0M1151 1213h0M2084 736h0M1494 822h0M1578 1308h0M1592 1733h0M868 936h0M1835 764h0M1839 472h0M1439 2024h0M1839 1740h0M2170 1972h0M1464 1106h0M889 987h0M2134 407h0M1216 1805h0M889 1427h0M843 1326h0M1988 961h0M1808 1106h0M1143 1697h0M1367 1136h0M2180 768h0M1033 759h0M1041 561h0M1132 1450h0M1152 1440h0M1091 735h0M1953 628h0M1917 1422h0M1338 1204h0M2007 845h0M2031 723h0M2137 1742h0M961 1580h0M1015 1325h0M1185 407h0M905 1021h0M693 1297h0M1278 868h0M1086 1293h0M2017 1359h0M1358 1637h0M811 1549h0M1079 532h0M1099 438h0M1029 1636h0M2015 539h0M873 989h0M1977 525h0M1515 1384h0M905 755h0M2028 1307h0M861 882h0M773 1673h0M1411 676h0M705 616h0M2210 1544h0M1093 851h0M1046 1840h0M722 1178h0M1771 1749h0M968 1271h0M1098 747h0M973 1498h0M1718 1120h0M1163 507h0M1238 1554h0M1423 816h0M1967 1033h0M1073 414h0M826 1830h0M1353 1766h0M1848 1974h0M1752 1975h0M1815 1526h0M907 656h0M1114 1234h0M1924 709h0M2154 1062h0M2202 1801h0M1542 1947h0M1249 1499h0M1550 1458h0M1774 2018h0M723 1871h0M2043 1547h0M2075 1059h0M1144 1104h0M1485 568h0M882 616h0M1373 1162h0M1144 441h0M799 910h0M776 1229h0M789 1271h0M1218 1158h0M829 625h0M781 1642h0M2088 1082h0M1978 1253h0M2199 1165h0M2156 1220h0M1926 1993h0M1127 1561h0M2152 784h0M1554 846h0M1475 1655h0M1239 454h0M733 1205h0M1239 396h0M908 1903h0M1696 1955h0M1825 1777h0M1392 1628h0M1285 738h0M2099 1288h0M2141 883h0M1451 1273h0M1641 880h0M1533 959h0M1323 1081h0M987 1158h0M1468 1669h0M2011 1477h0M909 879h0M1450 393h0M1543 563h0M2130 1650h0M2038 1070h0M1412 941h0M1750 565h0M2061 556h0M1100 1956h0M781 837h0M1572 1638h0M1733 1294h0M1397 1369h0M1898 1536h0M774 1811h0M1570 1568h0M1833 2001h0M806 1636h0M1236 1793h0M1098 392h0M1733 806h0M1362 464h0M1310 1169h0M1354 1757h0M870 1560h0M1901 2006h0M1808 1271h0M1644 725h0M783 1361h0M1512 1297h0M927 548h0M1154 1262h0M1689 1116h0M1751 1369h0M2118 1018h0M870 1265h0M2043 1951h0M1395 965h0M1487 1471h0M1460 813h0M1592 1939h0M900 1288h0M1044 1625h0M1746 530h0M1789 533h0M743 1339h0M1667 613h0M1592 1823h0M2108 991h0M1292 1120h0M1443 1882h0M969 1902h0M2016 1157h0M773 1129h0M2061 384h0M1087 1047h0M2202 866h0M743 1517h0M1542 1777h0M1876 1533h0M1446 761h0M773 386h0M1878 891h0M1239 1369h0M1365 557h0M1593 1075h0M850 859h0M1918 1954h0M942 1139h0M1217 961h0M800 1329h0M1603 1094h0M1455 1925h0M1504 1602h0M1297 1596h0M1038 1946h0M924 1392h0M1910 1764h0M1424 1746h0M1267 822h0M1995 708h0M1668 1658h0M1911 1694h0M2136 1685h0M2066 651h0M1097 1524h0M1048 990h0M2095 1189h0M714 596h0M1119 1822h0M1483 1215h0M1510 1637h0M975 744h0M1283 515h0M1584 1365h0M1106 741h0M1419 448h0M1784 1073h0M1336 1339h0M1114 1755h0M1973 780h0M1089 427h0M2037 1202h0M973 989h0M1249 1020h0M731 1019h0M1731 1367h0M1449 1157h0M972 889h0M1137 1715h0M953 1613h0M2207 1382h0M1608 1256h0M1774 1953h0M1071 818h0M1090 552h0M2080 1236h0M1672 386h0M683 1235h0M1482 1007h0M1663 800h0M1756 868h0M1804 466h0M1467 1242h0M1975 648h0M1340 454h0M909 1000h0M1103 980h0M1050 1930h0M994 517h0M1344 1587h0M2118 1036h0M2214 846h0M1755 476h0M1195 1129h0M1822 1922h0M800 624h0M682 658h0M1533 1158h0M1322 1796h0M1231 959h0M864 1362h0M1750 1638h0M1166 1680h0M1822 1814h0M2002 825h0M1286 1884h0M1893 592h0M1620 1605h0M1822 470h0M2129 941h0M1130 1319h0M1348 1012h0M911 1401h0M1751 418h0M2038 559h0M1320 1389h0M925 1693h0M1418 919h0M2166 1048h0M1748 1907h0M2012 907h0M1077 939h0M1340 1116h0M2124 1417h0M1931 1536h0M1266 1370h0M1292 1466h0M2085 1451h0M1716 1296h0M2100 872h0M1439 1368h0M1573 1416h0M1071 1440h0M1476 1784h0M964 1726h0M1799 1079h0M1823 566h0M1585 1080h0M2015 1312h0M1029 628h0M2041 534h0M943 1535h0M1991 485h0M978 1225h0M933 846h0M1463 605h0M1489 1861h0M1070 606h0M1022 735h0M1119 1729h0M1543 880h0M1392 1778h0M739 2012h0M1297 1068h0M1720 506h0M969 668h0M1681 1681h0M1668 1983h0M1482 864h0M1755 1762h0M1665 1657h0M1170 1042h0M1687 605h0M1488 532h0M760 1392h0M1159 1174h0M1886 983h0M1207 697h0M1957 1534h0M2013 1760h0M2214 550h0M1284 1773h0M1306 875h0M1140 1751h0M891 481h0M1722 527h0M1526 1983h0M1620 971h0M1746 795h0M828 473h0M1746 1680h0M1335 1607h0M2016 1743h0M786 504h0M1592 1622h0M1669 1634h0M1701 1949h0M1762 995h0M1924 1827h0M1857 1647h0M1069 658h0M1526 1234h0M681 1739h0M1283 1966h0M1920 1445h0M760 489h0M2114 739h0M1500 1953h0M1520 1248h0M2171 1736h0M1875 695h0M1412 858h0M1813 1649h0M1261 1282h0M1628 1735h0M1933 503h0M691 743h0M1383 1643h0M1701 1716h0M1942 1187h0M1971 927h0M1960 877h0M885 619h0M708 1784h0M1730 1957h0M1237 742h0M1395 1040h0M1143 1254h0M2043 976h0M744 1172h0M1328 707h0M841 1006h0M1991 624h0M1465 1115h0M1036 805h0M1163 1097h0M2133 2020h0M685 1810h0M1773 976h0M1167 1208h0M1295 789h0M1822 1210h0M1520 852h0M987 1777h0M743 1987h0M1261 1981h0M1753 1761h0M1525 1796h0M1850 1742h0M1774 590h0M1103 1865h0M1568 1915h0M1199 1354h0M1528 1331h0M1285 1376h0M1446 978h0M1362 1626h0M1890 434h0M724 1867h0M979 883h0M1489 871h0M1958 614h0M1492 680h0M1985 578h0M1113 1507h0M774 1398h0M1911 714h0M2189 1179h0M713 1849h0M1999 1684h0M894 858h0M1151 1712h0M1990 1691h0M800 1519h0M1799 424h0M1782 1103h0M1835 639h0M2134 1179h0M1383 1085h0M1470 1136h0M1476 1476h0M678 1168h0M1755 1503h0M1347 1345h0M1321 1662h0M1564 1080h0M1524 1995h0M1425 1254h0M1193 1319h0M1601 889h0M1389 510h0M1218 1530h0M1749 2014h0M1630 1441h0M685 1921h0M1909 1778h0M1932 2015h0M1752 1167h0M2046 966h0M1592 1710h0M2170 2018h0M1045 951h0M1379 429h0M1056 921h0M759 1338h0M1273 552h0M1196 801h0M1335 1342h0M811 647h0M2028 1465h0M1168 1595h0M2087 1972h0M2014 1084h0M896 716h0M1798 1183h0M1059 987h0M1734 923h0M2092 429h0M1824 1565h0M1162 1071h0M861 1069h0M1232 1147h0M1183 1521h0M1317 1032h0M1125 584h0M904 909h0M1293 539h0M1021 1470h0M735 1339h0M907 593h0M684 752h0M1990 956h0M1249 740h0M2047 1078h0M1100 1639h0M1775 1145h0M709 1762h0M2192 1435h0M1960 1002h0M2086 1014h0M1558 1628h0M1693 1727h0M1555 1819h0M2048 974h0M1139 1694h0M2097 1129h0M2088 608h0M753 1742h0M1624 456h0M1304 770h0M1182 1294h0M1328 1550h0M1063 583h0M981 1735h0M1143 1483h0M1863 1217h0M1056 1541h0M1522 923h0M1898 416h0M1457 1720h0M1490 447h0M1670 1253h0M1635 2019h0M1727 717h0M1048 565h0M1253 1922h0M947 1925h0M2006 1721h0M1055 491h0M1950 533h0M1589 1813h0M1741 814h0M1523 1292h0M1555 1984h0M1418 1035h0M870 1611h0M2075 799h0M1283 1143h0M2130 1924h0M1955 1712h0M2134 1269h0M882 1505h0M1704 1494h0M943 379h0M2096 1699h0M1244 1980h0M1796 1726h0M1918 407h0M1545 1201h0M1134 435h0M1452 1024h0M736 1777h0M1924 1036h0M744 1358h0M1538 837h0M857 1810h0M2198 632h0M1070 1197h0M904 1184h0M1566 1433h0M1691 985h0M1435 512h0M1812 490h0M1626 1119h0M2053 602h0M705 899h0M1538 1362h0M708 709h0M1066 1570h0M817 1552h0M734 988h0M2126 566h0M1480 482h0M2118 1575h0M1523 1718h0M1638 1569h0M1020 847h0M956 428h0M1964 1829h0M2117 748h0M2014 833h0M2182 1189h0M966 1767h0M933 1605h0M700 1434h0M1460 1094h0M1607 1938h0M2086 928h0M830 1119h0M2063 996h0M2085 2036h0M942 1571h0M1917 1818h0M702 1856h0M1558 375h0M1568 1019h0M1211 1449h0M1516 405h0M1217 387h0M890 1678h0M2202 1518h0M1636 1873h0M966 2036h0M1787 1359h0M1310 1800h0M1844 1405h0M849 483h0M950 720h0M1720 1886h0M2079 1443h0M695 970h0M1416 1241h0M1449 1049h0M814 1437h0M1026 1978h0M1829 1722h0M1527 673h0M1454 1339h0M1372 1451h0M2024 1853h0M1075 1876h0M2125 1267h0M1993 1012h0M949 662h0M1872 835h0M801 1183h0M909 1134h0M2011 2002h0M1504 1643h0M740 1149h0M1717 1617h0M1306 1550h0M677 900h0M1312 1452h0M709 1565h0M1145 1671h0M2082 1742h0M1136 1899h0M962 1943h0M1021 904h0M1526 1774h0M950 1433h0M2000 448h0M1851 583h0M868 688h0M1949 1065h0M2180 1436h0M2067 2040h0M1147 1727h0M1991 1380h0M2134 1096h0M997 2016h0M1147 1969h0M1260 1513h0M1463 1504h0M1583 1224h0M1953 693h0M1827 1861h0M1370 1509h0M1037 466h0M688 1157h0M1991 922h0M992 1927h0M1756 1995h0M1831 1788h0M1062 1424h0M1154 1915h0M1000 1164h0M1290 1616h0M1226 552h0M1540 1782h0M1544 381h0M874 1903h0M1594 1112h0M1770 385h0M1702 1968h0M1526 1103h0M1418 1861h0M859 653h0M774 1474h0M739 374h0M1091 648h0M910 1665h0M1930 1247h0M1340 1785h0M1260 664h0M1558 1149h0M707 1619h0M1617 1211h0M2084 1449h0M1561 487h0M1053 1571h0M691 1540h0M2043 969h0M1878 1068h0M693 396h0M1668 1254h0M1171 743h0M1189 1651h0M2150 1405h0M2025 848h0M984 1339h0M1454 552h0M1763 643h0M1936 1254h0M2023 1189h0M774 812h0M1946 1988h0M699 624h0M1627 915h0M2113 1785h0M920 451h0M1292 542h0M1436 901h0M1210 788h0M1564 1746h0M1623 1575h0M884 1491h0M1301 1148h0M2050 494h0M1825 1323h0M2063 535h0M1834 910h0M1126 707h0M1880 1613h0M2044 1832h0M1723 1807h0M1429 1884h0M1149 904h0M914 724h0M985 669h0M2010 1141h0M1471 1866h0M1038 2033h0M869 778h0M1139 1059h0M2097 618h0M2114 747h0M1171 1653h0M1990 1370h0M1947 1317h0M1721 630h0M1587 564h0M1051 1177h0M1936 1041h0M899 1469h0M1242 1635h0M1600 1249h0M1497 1023h0M834 777h0M1692 1683h0M1979 1345h0M1949 882h0M755 1712h0M1037 1360h0M1381 1256h0M1559 1831h0M1723 1689h0M997 1308h0M1074 1708h0M2048 645h0M980 450h0M2035 1549h0M1052 1858h0M1392 983h0M1762 710h0M1647 568h0M1524 1639h0M1129 1398h0M1446 1283h0M1288 1766h0M768 1660h0M2213 561h0M1532 1321h0M798 1352h0M2005 2003h0M1618 1770h0M1903 620h0M1468 1720h0M2082 1121h0M1364 1635h0M1191 1705h0M2137 1611h0M743 1243h0M781 1776h0M1941 734h0M1106 1317h0M1961 1871h0M1110 1087h0M1919 1614h0M1462 415h0M2118 1442h0M767 748h0M1201 1483h0M1922 1625h0M768 1949h0M1191 1722h0M2076 1554h0M2130 1816h0M1592 388h0M1522 963h0M908 787h0M904 1980h0M1812 1164h0M780 1782h0M989 1329h0M679 1180h0M1872 1137h0M2098 807h0M1985 1466h0M1988 1033h0M891 1489h0M686 388h0M872 1137h0M841 674h0M1495 1881h0M1710 1551h0M737 2032h0M1650 863h0M1520 1805h0M844 1314h0M1051 1577h0M1267 1589h0M2068 1425h0M1307 1717h0M766 1284h0M1370 920h0M1249 1026h0M1687 822h0M806 448h0M2103 1276h0M1756 1864h0M1675 1974h0M1439 1478h0M1417 1799h0M1047 457h0M1129 2008h0M1237 1025h0M2194 437h0M1845 589h0M1337 1891h0M1403 402h0M1345 1941h0M1145 659h0M1230 1788h0M995 1922h0M1598 1156h0M1610 881h0M1701 620h0M2048 1013h0M1054 942h0M2044 1138h0M2183 791h0M2107 556h0M840 525h0M1660 869h0M1337 1776h0M1461 813h0M1872 1477h0M1816 1110h0M1010 762h0M1007 990h0M2095 950h0M1710 1207h0M2067 1520h0M2108 1949h0M1187 1107h0M936 865h0M804 956h0M877 1204h0M1389 1955h0M1265 1021h0M1266 1539h0M1059 1796h0M1273 1927h0M1221 1106h0M1828 1775h0M1484 1324h0M1278 1738h0M1545 496h0M1263 578h0M1364 614h0M923 854h0M1823 1930h0M717 1127h0M1802 824h0M1790 1069h0M1543 629h0M1435 1663h0M1015 615h0M1711 1843h0M921 499h0M1193 1597h0M783 1113h0M1985 607h0M2079 1136h0M1736 386h0M802 1974h0M1626 1822h0M1329 901h0M811 889h0M1300 1636h0M810 1834h0M829 1578h0M914 888h0M2164 1336h0M982 406h0M1766 798h0M1133 1430h0M890 415h0M1458 1370h0M2182 1771h0M756 1025h0M1403 1566h0M1548 1245h0M980 1777h0M944 1692h0M1362 391h0M1161 1344h0M1930 1413h0M1100 1021h0M2023 1077h0M1914 1684h0M1137 1816h0M1130 1885h0M1326 1632h0M944 1947h0M1811 1345h0M1579 1659h0M1159 805h0M2173 1822h0M885 895h0M2202 784h0M1186 1791h0M1656 745h0M1229 1051h0M959 1001h0M1203 594h0M1389 420h0M979 1700h0M1454 1180h0M942 1451h0M717 986h0M1115 465h0M1495 1437h0M1124 1831h0M820 504h0M1949 1342h0M1757 1319h0M1471 1058h0M1963 1176h0M948 1970h0M1756 1898h0M1614 1773h0M685 812h0M1036 938h0M1011 1077h0M1978 609h0M904 1345h0M893 1887h0M1423 1178h0M2193 1913h0M1315 1648h0M1619 1128h0M1248 1386h0M739 596h0M950 1916h0M1333 1273h0M1352 1223h0M1413 1516h0M2213 1900h0M1392 407h0M1042 989h0M1605 1001h0M1963 1127h0M1649 2006h0M1700 540h0M1068 1979h0M1301 540h0M895 1167h0M729 935h0M1460 379h0M1236 655h0M1318 1891h0M1195 1923h0M1241 1419h0M1629 1203h0M1642 1231h0M1101 594h0M1051 763h0M874 884h0M1112 2041h0M2107 1802h0M1561 1571h0M1623 1002h0M818 695h0M1055 847h0M2102 1885h0M1066 1484h0M1432 1305h0M1889 1196h0M1951 1961h0M2003 883h0M1435 464h0M2050 1407h0M740 848h0M705 1335h0M1914 373h0M2064 699h0M1920 1404h0M2061 480h0M1229 1382h0M2130 995h0M910 1336h0M983 386h0M1556 1030h0M945 897h0M2057 1082h0M1791 542h0M1446 851h0M1436 397h0M1692 660h0M903 1186h0M1319 1005h0M2087 493h0M807 443h0M1843 1403h0M1085 1809h0M1674 479h0M1290 1480h0M862 1267h0M1697 1968h0M1959 1271h0M1154 390h0M813 1429h0M2189 435h0M889 1813h0M1764 1314h0M2137 1429h0M1284 1636h0M1547 1565h0M942 726h0M2013 801h0M2148 961h0M1380 554h0M963 1412h0M951 1260h0M2039 831h0M1927 1313h0M883 752h0M1450 758h0M709 1970h0M786 1375h0M977 1694h0M1725 1961h0M756 772h0M1175 1558h0M1877 549h0M1737 1657h0M1958 537h0M1351 533h0M2162 491h0M733 705h0M1815 427h0M1314 1739h0M1258 1474h0M1372 525h0M1339 699h0M756 1470h0M889 1567h0M906 1701h0M879 1069h0M855 1280h0M794 1432h0M2087 836h0M751 1399h0M1416 1130h0M969 1767h0M1553 1257h0M1259 1693h0M1839 1809h0M1282 1822h0M704 947h0M889 490h0M2125 970h0M2033 589h0M1081 1968h0M822 1747h0M1612 1122h0M1298 1407h0M1265 637h0M985 527h0M1309 1638h0M1326 869h0M868 1846h0M1542 1671h0M1699 1128h0M696 762h0M1507 1952h0M700 542h0M2078 1118h0M938 647h0M1017 1180h0M1885 1157h0M1173 1771h0M1917 1885h0M1532 629h0M1386 805h0M1823 855h0M1283 1029h0M1219 1870h0M903 456h0M1092 1579h0M1329 1755h0M2063 1599h0M1763 547h0M1659 555h0M1209 1920h0M1321 1054h0M2028 837h0M1514 987h0M1178 1169h0M1522 713h0M1882 1689h0M1253 1910h0M1367 1559h0M1737 1775h0M720 1319h0M1090 1898h0M1499 1588h0M1153 1261h0M1909 1103h0M2208 750h0M1172 673h0M1926 622h0M829 1373h0M1442 1657h0M751 1674h0M1700 429h0M1071 1556h0M1981 1562h0M1970 1609h0M1119 758h0M1987 1645h0M1439 476h0M1805 1748h0M1142 1859h0M1867 487h0M1814 659h0M1285 449h0M1368 1194h0M2013 1839h0M866 790h0M1034 440h0M1485 1460h0M820 865h0M1671 1346h0M2025 433h0M1779 2038h0M1931 776h0M1860 620h0M1035 1464h0M933 1518h0M1742 1813h0M1639 445h0M1179 1327h0M798 1797h0M801 380h0M1429 1029h0M2094 1509h0M736 1951h0M2210 1675h0M1414 655h0M1548 1262h0M990 1740h0M1710 473h0M2178 1767h0M1572 376h0M995 752h0M1303 1631h0M2071 990h0M1397 564h0M1449 1817h0M1278 1717h0M1033 1864h0M2153 1081h0M1794 522h0M975 1738h0M2131 531h0M1412 918h0M1635 1441h0M1587 1619h0M1031 2014h0M821 431h0M974 1331h0M1849 706h0M1089 1106h0M1103 1504h0M758 491h0M1197 657h0M907 1632h0M822 661h0M1465 1341h0M739 428h0M1853 1198h0M1062 490h0M926 921h0M847 1046h0M969 1121h0M880 1854h0M2124 1925h0M1676 785h0M2036 603h0M1898 828h0M1185 1891h0M1565 1511h0M1937 519h0M810 641h0M770 1641h0M1811 556h0M868 778h0M1913 1666h0M1120 1870h0M1051 1296h0M1802 940h0M2098 1426h0M1774 486h0M1091 1591h0M1303 1215h0M1319 1664h0M725 962h0M1601 866h0M973 1656h0M694 491h0M932 1534h0M1510 653h0M1304 1029h0M1901 474h0M1872 2005h0M2038 937h0M1587 995h0M1136 1508h0M1117 961h0M742 1535h0M1371 1044h0M763 742h0M1418 803h0M1019 1261h0M1640 597h0M1964 1922h0M1383 1264h0M847 2048h0M1654 1608h0M1974 1048h0M1000 1648h0M2094 439h0M1719 1152h0M1510 561h0M1286 1052h0M1022 776h0M817 1391h0M1153 1180h0M1045 1289h0M1576 1983h0M1916 1638h0M1893 1845h0M1324 1316h0M1408 589h0M1790 1746h0M1764 1049h0M1689 1301h0M1496 1280h0M766 2018h0M1797 623h0M1128 532h0M1778 860h0M1853 428h0M703 466h0M1089 1301h0M1676 1758h0M1291 380h0M1146 506h0M1051 1427h0M1696 2006h0M1154 1688h0M1742 1110h0M1351 1207h0M1290 575h0M1239 943h0M1022 1835h0M2066 1011h0M1572 820h0M1440 410h0M1119 1828h0M1499 915h0M2031 531h0M810 626h0M791 2046h0M1615 863h0M1155 1590h0M734 1694h0M1151 572h0M1709 422h0M757 736h0M1434 1778h0M1572 1523h0M951 1105h0M1259 406h0M2154 1123h0M1999 549h0M1598 1002h0M1474 967h0M1300 1831h0M2073 723h0M1699 752h0M1671 1965h0M1807 741h0M1070 1692h0M1975 826h0M1616 1622h0M935 1946h0M1642 1255h0M2105 1172h0M2066 569h0M733 1627h0M1742 634h0M771 926h0M1040 663h0M1716 665h0M2127 1361h0M2178 1537h0M1323 1362h0M711 395h0M782 902h0M1522 850h0M683 1473h0M2070 435h0M808 444h0M1298 1827h0M1556 2015h0M1696 1428h0M1952 1534h0M1462 628h0M890 874h0M1787 788h0M1075 397h0M1993 1217h0M2184 1909h0M2124 1095h0M1185 1510h0M788 1440h0M786 1271h0M1733 1381h0M1289 1682h0M1384 382h0M1096 398h0M1161 1624h0M1650 375h0M1016 2035h0M860 381h0M1251 1456h0M1757 2024h0M1451 1825h0M1268 928h0M2166 962h0M2031 1540h0M1905 1708h0M829 826h0M1460 1463h0M823 843h0M2048 488h0M890 1570h0M1522 1955h0M1149 1595h0M1566 760h0M714 1581h0M1674 1380h0M677 573h0M1290 1203h0M1744 1502h0M1527 865h0M1490 597h0M1220 840h0M915 1959h0M1399 1440h0M1625 1923h0M1782 1435h0M1812 847h0M1406 487h0M1826 483h0M1323 2033h0M2020 1451h0M1687 1238h0M1084 403h0M1219 1559h0M767 1573h0M1125 1955h0M1284 1034h0M1215 796h0M2071 1188h0M1231 1660h0M1011 1524h0M1663 1838h0M1680 1026h0M880 1752h0M1795 1642h0M1238 571h0M1742 1472h0M2094 1234h0M1331 459h0M954 1718h0M746 1508h0M1989 1444h0M1368 1494h0M1243 966h0M1643 1486h0M833 1368h0M1059 1531h0M924 1328h0M1099 1670h0M2021 1459h0M1334 1074h0M1637 1403h0M1186 1657h0M823 1340h0M1638 1882h0M1386 1964h0M1275 1822h0M2109 708h0M2131 1736h0M895 1691h0M1358 1676h0M1709 1327h0M719 1661h0M893 1427h0M748 1775h0M1774 838h0M1277 433h0M1309 1788h0M1921 1722h0M869 468h0M1615 1717h0M971 1230h0M2026 1558h0M1810 1262h0M746 904h0M1605 557h0M1860 542h0M1168 1039h0M1937 1504h0M1131 1952h0M900 1788h0M969 1184h0M1050 465h0M1982 710h0M1334 584h0M1421 835h0M1277 956h0M824 681h0M1947 507h0M1283 1512h0M1656 649h0M1532 924h0M1928 1692h0M1354 2021h0M2103 2051h0M2205 746h0M1340 1697h0M1458 935h0M1540 940h0M905 950h0M2071 1923h0M1841 1856h0M2022 1044h0M1755 427h0M703 758h0M696 1221h0M2106 1061h0M1815 996h0M908 1033h0M1672 832h0M1958 1076h0M2071 459h0M1745 688h0M2097 1241h0M1907 2021h0M1737 945h0M678 889h0M1173 875h0M1343 2035h0M1052 967h0M1439 1838h0M811 1598h0M980 443h0M733 1679h0M2051 720h0M1249 1333h0M1851 1350h0M1765 1758h0M2096 1000h0M1518 1829h0M1672 1293h0M831 1958h0M2066 551h0M854 853h0M1131 978h0M2143 942h0M2004 776h0M765 1405h0M1844 1748h0M1999 1799h0M1049 1176h0M769 1910h0M2135 1305h0M1285 821h0M1329 592h0M1296 1890h0M1268 532h0M1367 1618h0M960 1940h0M1467 610h0M1823 1571h0M1609 808h0M987 621h0M1880 549h0M890 1836h0M1486 2025h0M1663 431h0M704 1830h0M2160 1800h0M1975 1972h0M1568 1517h0M1388 1187h0M1215 386h0M1914 1124h0M2144 1664h0M1414 946h0M1769 639h0M1020 1946h0M1699 1219h0M2104 651h0M1350 1554h0M1464 2004h0M2208 784h0M686 435h0M1230 1468h0M1133 1530h0M754 443h0M1430 1623h0M1653 1902h0M1111 1892h0M1865 840h0M2003 550h0M1898 1443h0M1240 964h0M1690 1999h0M2086 1291h0M1702 418h0M2032 892h0M1989 860h0M1406 687h0M1930 1236h0M1241 878h0M741 421h0M906 2047h0M1556 1426h0M1339 1500h0M896 692h0M1885 1746h0M1225 803h0M1203 1306h0M1629 1820h0M1189 1830h0M1094 783h0M2199 1741h0M1366 1939h0M713 813h0M794 757h0M1182 556h0M1737 946h0M996 1348h0M983 979h0M798 1633h0M988 1020h0M1967 1901h0M1160 1329h0M984 800h0M1035 1733h0M2193 1338h0M1787 1697h0M1268 1764h0M1514 927h0M1017 1630h0M683 1508h0M1867 955h0M1016 1664h0M1231 2028h0M1782 483h0M1787 1632h0M1841 542h0M1819 815h0M857 945h0M792 631h0M1159 967h0M1894 911h0M701 1318h0M841 2024h0M1216 1522h0M930 1062h0M1406 1494h0M1257 582h0M1133 1939h0M1468 468h0M1160 460h0M720 1036h0M2054 1753h0M1238 714h0M990 454h0M1766 1655h0M1799 662h0M1691 1923h0M1436 1865h0M1102 926h0M849 1071h0M1429 1586h0M988 1408h0M776 1574h0M1872 1194h0M977 868h0M1236 1972h0M1365 1482h0M2156 1792h0M2170 1654h0M2168 870h0M987 1711h0M1650 1725h0M2125 1664h0M1393 543h0M1819 769h0M1312 822h0M1155 1139h0M1563 468h0M1198 504h0M843 1631h0M2175 1991h0M1172 568h0M827 1506h0M2171 576h0M970 864h0M920 534h0M1162 1948h0M680 607h0M2086 1900h0M1967 889h0M1674 1590h0M1575 1324h0M1044 1724h0M885 1521h0M2108 712h0M1154 1877h0M1628 1075h0M835 1221h0M1499 1394h0M845 1190h0M1891 1869h0M1179 1998h0M1655 974h0M1461 920h0M1418 1940h0M2012 1786h0M970 847h0M788 1463h0M2082 522h0M1549 1931h0M1504 1414h0M1404 1760h0M1001 1109h0M1710 597h0M1888 398h0M2202 1865h0M989 1343h0M1656 1914h0M1351 1146h0M1187 1011h0M913 1209h0M863 534h0M1278 528h0M809 2015h0M746 1522h0M801 503h0M1521 843h0M1239 1613h0M717 1079h0M1182 975h0M820 972h0M746 561h0M1690 852h0M1995 773h0M1134 894h0M1469 549h0M2155 1415h0M1177 1899h0M1227 1276h0M1547 442h0M969 674h0M1949 1295h0M750 697h0M1835 1784h0M1680 1224h0M1616 1889h0M2156 1584h0M1719 1898h0M783 1562h0M1752 2040h0M706 1431h0M1008 1125h0M909 1506h0M2144 1586h0M1471 1173h0M700 979h0M1469 449h0M928 1541h0M1213 1346h0M1925 553h0M1839 406h0M1782 1985h0M930 1967h0M1065 1895h0M1251 1360h0M874 1869h0M1180 817h0M1155 1651h0M1890 707h0M959 1475h0M1308 634h0M1430 531h0M1591 984h0M1820 1687h0M1018 1228h0M1838 1617h0M939 1640h0M1127 1131h0M799 611h0M1973 1220h0M1266 420h0M936 520h0M1789 603h0M1993 1172h0M1136 687h0M2203 1395h0M1249 1737h0M924 1653h0M1384 493h0M2130 1020h0M2097 2018h0M1967 405h0M804 716h0M941 1199h0M2191 886h0M2088 978h0M1064 761h0M1776 902h0M1758 1963h0M1046 2018h0M1838 513h0M2030 1872h0M954 1248h0M1384 1099h0M1699 501h0M1952 1074h0M1905 1135h0M1917 1889h0M1906 1378h0M1540 968h0M898 599h0M1547 562h0M832 1992h0M1805 660h0M1935 1028h0M806 1503h0M1159 735h0M1472 511h0M937 2010h0M998 1811h0M2208 380h0M1940 2052h0M1411 631h0M1516 647h0M2115 510h0M893 1860h0M759 1698h0M2200 617h0M1155 762h0M1781 847h0M1410 1354h0M1470 803h0M1000 868h0M1870 910h0M1115 1037h0M2211 1346h0M1024 1158h0M2130 1282h0M1843 759h0M1598 1093h0M1833 1661h0M2195 714h0M1007 553h0M797 2003h0M851 1694h0M741 387h0M720 1952h0M1644 1998h0M1407 1488h0M689 1753h0M689 2045h0M1890 997h0M1265 475h0M1160 457h0M2007 1221h0M690 1795h0M1919 1321h0M1689 419h0M1900 1491h0M1713 2019h0M848 1256h0M1232 1240h0M1372 1801h0M1070 1053h0M1306 390h0M1915 486h0M1913 586h0M1892 1841h0M2134 1509h0M1812 1975h0M1529 1148h0M1409 690h0M1512 1472h0M975 1052h0M717 1783h0M1143 1295h0M761 1987h0M682 1122h0M2206 2046h0M751 614h0M1023 717h0M1184 1577h0M1473 2022h0M1075 1108h0M1873 907h0M2157 1193h0M681 1375h0M817 1561h0M1858 1648h0M1700 969h0M1128 1106h0M1334 841h0M1178 2025h0M1011 1747h0M2179 404h0M1275 1165h0M1694 1832h0M1917 1261h0M1119 608h0M1077 1758h0M1997 646h0M1500 1881h0M2169 1999h0M1593 1131h0M1696 1445h0M1854 1462h0M1115 2040h0M1645 1789h0M815 1872h0M1896 967h0M2040 1127h0M955 2016h0M1453 1411h0M1362 391h0M2177 1835h0M779 1082h0M1653 1098h0M1660 1374h0M1074 1405h0M1066 715h0M1796 1117h0M1858 1403h0M1534 1686h0M2057 1779h0M1752 448h0M1192 1916h0M1340 1302h0M1786 1759h0M910 946h0M1572 1343h0M1112 1158h0M1849 573h0M2147 1768h0M1850 1509h0M1112 963h0M1787 455h0M1404 1517h0M2098 622h0M1044 1827h0M1921 441h0M1701 2004h0M1419 1188h0M1209 1699h0M1074 1257h0M900 1021h0M1767 1306h0M2103 579h0M1151 1088h0M991 982h0M1056 1272h0M1374 1510h0M1323 857h0M2176 1110h0M1352 1562h0M1336 743h0M1040 682h0M821 414h0M1271 1749h0M1550 809h0M1833 374h0M1097 1338h0M1999 390h0M1223 583h0M1074 1349h0M685 1923h0M1365 472h0M1679 1763h0M2057 1003h0M1661 1655h0M968 1182h0M1753 1536h0M1441 1805h0M831 956h0M912 1701h0M1198 661h0M1320 1877h0M1449 1863h0M2175 914h0M773 1451h0M905 1427h0M1794 1952h0M1614 1996h0M1025 658h0M1259 1671h0M1486 1101h0M682 611h0M2169 1679h0M1049 865h0M1318 1125h0M964 1633h0M1587 469h0M847 1027h0M1198 951h0M744 1955h0M904 460h0M1713 845h0M1903 1412h0M1810 1918h0M1277 1449h0M1732 1676h0M1475 1691h0M1596 1398h0M1979 1367h0M1844 1964h0M1540 826h0M695 372h0M1688 1397h0M1503 890h0M1796 1301h0M1264 1658h0M2115 1428h0M1956 928h0M722 487h0M1535 2030h0M1788 427h0M1023 1547h0M755 1008h0M1620 569h0M1734 548h0M1087 613h0M886 1445h0M1456 1148h0M1523 804h0M1643 2026h0M1792 1404h0M2177 1831h0M1300 902h0M1484 724h0M1412 448h0M1005 1478h0M927 905h0M1520 1009h0M1352 1961h0M927 1371h0M2038 499h0M820 941h0M1317 731h0M1947 820h0M956 974h0M2144 743h0M797 1051h0M1703 826h0M1588 1081h0M1638 1257h0M1549 1820h0M1708 1722h0M2135 1562h0M1011 1462h0M1817 541h0M1998 1028h0M1349 852h0M1862 1894h0M1693 2006h0M1497 711h0M1373 504h0M733 607h0M867 852h0M1099 1643h0M962 1520h0M1707 1635h0M865 1154h0M1047 541h0M1568 783h0M1926 1509h0M1320 1330h0M1004 635h0M784 1526h0M1325 1429h0M683 1586h0M696 414h0M2199 626h0M691 494h0M906 910h0M2190 877h0M1004 526h0M1143 792h0M1037 912h0M2010 689h0M1139 1297h0M1192 606h0M1307 982h0M1065 1568h0M1805 1019h0M1917 1530h0M2155 1911h0M1064 789h0M1601 811h0M2123 1700h0M1503 816h0M1991 1376h0M1182 1110h0M1555 498h0M779 421h0M1503 1650h0M1825 528h0M876 1034h0M1151 823h0M1452 716h0M2205 707h0M1991 975h0M865 965h0M1270 1339h0M811 1567h0M1569 1335h0M1773 1519h0M1699 1856h0M1616 1486h0M1232 1602h0M1111 659h0M1437 625h0M2014 1404h0M1505 1198h0M1477 1693h0M1309 1556h0M955 1674h0M834 1284h0M984 1478h0M693 1176h0M1534 1668h0M1895 551h0M679 428h0M1262 1845h0M1745 1309h0M1202 1752h0M1356 1092h0M1149 1624h0M1767 793h0M1370 915h0M1493 2018h0M2040 2017h0M702 612h0M2068 388h0M800 722h0M890 855h0M1443 1562h0M729 1587h0M1357 1950h0M795 1864h0M882 898h0M1743 1958h0M1005 645h0M1541 1309h0M1814 778h0M1352 1831h0M2212 1284h0M1621 1865h0M1976 1675h0M1195 1343h0M929 643h0M2129 1783h0M2120 506h0M1279 1413h0M925 427h0M1073 1493h0M2000 720h0M909 844h0M1853 504h0M1048 434h0M1913 757h0M1737 1480h0M683 1725h0M918 1087h0M1805 1939h0M2077 1073h0M1255 1546h0M1097 1488h0M1530 1855h0M697 1067h0M1672 442h0M1325 796h0M901 1321h0M1394 736h0M1086 611h0M698 1918h0M799 1588h0M2207 1210h0M1303 398h0M1702 1698h0M942 1502h0M1141 1683h0M2054 1635h0M1578 1861h0M1117 1903h0M2081 443h0M1116 1885h0M1572 1726h0M880 1304h0M862 1974h0M1013 1074h0M921 1753h0M1835 1036h0M1792 1234h0M2052 1531h0M1144 828h0M1752 1813h0M1761 1534h0M2129 985h0M1356 770h0M2182 383h0M1659 1166h0M2074 2017h0M1693 1361h0M2158 1683h0M2020 1020h0M2211 424h0M2152 1609h0M1511 769h0M1778 1045h0M1190 1497h0M865 684h0M1433 919h0M1418 1908h0M1262 978h0M1308 1245h0M1171 429h0M1456 1986h0M1328 1212h0M2170 1575h0M918 476h0M1287 1837h0M978 723h0M1132 1542h0M1800 1523h0M1722 661h0M2080 1196h0M1219 895h0M1103 509h0M2015 724h0M1454 563h0M1359 1273h0M1084 1349h0M682 745h0M2119 1810h0M903 1857h0M1655 914h0M1173 1918h0M1465 1214h0M1518 465h0M1168 407h0M1742 1197h0M1700 2014h0M1224 1100h0M723 1754h0M1474 1678h0M1810 1209h0M1202 1084h0M1187 1310h0M783 1166h0M1426 1807h0M1871 593h0M2213 1776h0M1893 1710h0M711 412h0M1622 1813h0M1797 1825h0M956 1892h0M1595 1156h0M1659 1752h0M930 1713h0M1395 1649h0M1111 1872h0M2133 1969h0M774 382h0M929 515h0M1475 1887h0M886 1660h0M2110 1925h0M1605 1483h0M1543 944h0M1769 1090h0M2095 673h0M1204 1198h0M1407 1736h0M809 525h0M869 2046h0M2102 1812h0M1529 535h0M996 1428h0M1154 434h0M1112 1377h0M1864 1050h0M1295 1037h0M1277 1495h0M766 1504h0M1548 1980h0M913 1582h0M1296 1060h0M1905 753h0M1298 573h0M2008 811h0M1676 483h0M1957 1196h0M1028 1321h0M854 1849h0M881 1995h0M2079 1753h0M1478 1993h0M2047 1427h0M849 1871h0M1339 932h0M2094 1306h0M1721 720h0M2022 1031h0M1777 1129h0M994 2002h0M1083 1195h0M1868 1584h0M2046 862h0M1807 1080h0M1104 1487h0M1019 1885h0M1745 1698h0M1003 1462h0M1735 694h0M1937 1757h0M1354 1725h0M872 851h0M2213 424h0M943 1377h0M1169 617h0M1969 774h0M775 1178h0M1884 1318h0M1806 1997h0M1417 462h0M2187 1503h0M1748 438h0M1049 696h0M1363 1953h0M773 1678h0M1634 1194h0M2041 475h0M1883 615h0M1104 643h0M1430 1025h0M1388 1694h0M1582 1603h0M799 652h0M772 2024h0M2033 1864h0M870 573h0M1683 1037h0M1645 552h0M1244 1545h0M1382 1597h0M857 1033h0M2174 1889h0M1175 1133h0M2102 875h0M1557 374h0M1580 1947h0M767 1087h0M1783 1509h0M1996 597h0M897 1777h0M1938 929h0M1116 1920h0M1862 1232h0M2075 1365h0M1408 1148h0M1833 943h0M1911 822h0M2173 524h0M1462 1024h0M844 959h0M1650 403h0M1151 989h0M1332 1842h0M1976 704h0M2006 1991h0M1517 2031h0M882 394h0M925 680h0M1804 1566h0M1630 1122h0M1039 1484h0M862 1659h0M1996 987h0M1197 1047h0M1481 805h0M1604 1998h0M2064 649h0M1372 1124h0M1866 1384h0M1621 1717h0M988 1778h0M786 942h0M1245 1431h0M1670 1387h0M1661 657h0M1113 1404h0M1424 1459h0M1122 1249h0M871 989h0M1026 1970h0M1882 832h0M915 939h0M1494 1610h0M1002 1727h0M1002 845h0M2128 1455h0M1431 1037h0M1226 667h0M834 1412h0M1812 1100h0M2076 1484h0M823 1749h0M1032 393h0M761 1656h0M922 1117h0M1981 917h0M1137 621h0M2007 1043h0M821 1986h0M1632 572h0M1917 2028h0M1388 2029h0M1128 379h0M1321 1890h0M1918 1509h0M2000 1445h0M1884 510h0M1485 2015h0M863 1499h0M1810 1496h0M1615 1384h0M1548 1027h0M1886 1311h0M1603 1764h0M1965 1742h0M1384 1927h0M2016 2038h0M2176 837h0M1115 1848h0M1424 822h0M1148 1670h0M2152 802h0M1878 430h0M1860 1891h0M2181 1688h0M1801 1659h0M1202 913h0M1634 2009h0M997 1415h0M858 952h0M849 1343h0M2098 1592h0M872 537h0M1861 1249h0M1635 1949h0M945 997h0M1909 1504h0M696 1582h0M1136 1674h0M803 1560h0M1140 1172h0M1754 1800h0M1044 1045h0M738 567h0M883 1411h0M1323 1187h0M1312 1793h0M2069 1320h0M719 860h0M2036 955h0M802 1838h0M2008 537h0M1467 1269h0M1877 783h0M1304 1581h0M702 1961h0M1716 474h0M1297 994h0M1119 868h0M1107 1745h0M1741 909h0M709 388h0M714 1347h0M2169 723h0M681 1756h0M1568 1311h0M870 936h0M2002 602h0M1425 488h0M1307 726h0M1695 1995h0M1318 744h0M773 1111h0M843 455h0M1127 638h0M1521 757h0M679 1007h0M1633 1338h0M1657 579h0M1471 1117h0M779 1759h0M776 1872h0M1247 1036h0M1468 746h0M1074 1342h0M1415 529h0M2115 1509h0M1804 1149h0M1388 1125h0M971 722h0M1731 1075h0M1653 1010h0M1903 1898h0M993 1684h0M1646 1749h0M757 1013h0M994 1818h0M1004 1481h0M818 1516h0M1237 1927h0M2134 372h0M1224 1380h0M1664 1835h0M800 1137h0M1773 587h0M2174 1884h0M1213 1189h0M2185 953h0M1970 1153h0M1824 818h0M1875 379h0M1273 1307h0M850 1252h0M1027 1683h0M1993 1307h0M909 1234h0M1403 1849h0M808 2041h0M879 1630h0M1340 701h0M1406 1667h0M809 1843h0M1940 1000h0M1604 379h0M797 854h0M1078 1137h0M1676 941h0M1696 1761h0M1767 587h0M838 1549h0M709 1574h0M2135 1264h0M1915 1479h0M1732 1764h0M1336 1412h0M898 1498h0M1117 806h0M1055 1642h0M1223 425h0M1892 1997h0M867 1317h0M821 954h0M989 1146h0M1103 1667h0M1826 1576h0M995 1368h0M1009 1531h0M1459 584h0M803 994h0M1505 1156h0M1188 1455h0M1820 775h0M2045 705h0M683 1515h0M1985 1372h0M2134 549h0M692 1921h0M730 1989h0M1953 1564h0M1461 1311h0M1005 1378h0M1476 1477h0M1848 627h0M2148 1561h0M2110 1253h0M995 399h0M820 2022h0M975 434h0M784 563h0M1289 1643h0M774 1720h0M817 1114h0M821 949h0M1069 1932h0M1096 1856h0M1032 1494h0M792 1793h0M1169 626h0M1552 515h0M961 1943h0M1800 1577h0M1012 1934h0M972 1846h0M1290 1992h0M1641 744h0M2182 578h0M2175 726h0M768 407h0M1043 1602h0M1038 1776h0M1482 599h0M1232 642h0M754 1217h0M973 697h0M866 1775h0M1040 2002h0M1975 1489h0M929 1815h0M1763 790h0M992 722h0M955 1307h0M693 1325h0M1403 942h0M886 1508h0M1686 1574h0M1729 1958h0M1574 618h0M1736 622h0M1998 1193h0M829 425h0M1026 617h0M1056 1633h0M1867 994h0M1445 1143h0M881 1594h0M1677 1677h0M1278 405h0M1995 743h0M1684 985h0M2136 931h0M921 1649h0M1953 1757h0M1459 871h0M743 1570h0M1491 1833h0M1694 992h0M1529 1096h0M704 1649h0M797 751h0M2140 742h0M1384 1765h0M1706 1537h0M1200 1348h0M2200 1711h0M1215 1173h0M1780 537h0M1026 1584h0M973 794h0M2015 556h0M1044 1259h0M1262 1649h0M1283 1167h0M1234 1159h0M1654 1675h0M985 1703h0M1483 1278h0M1111 1650h0M1793 654h0M2026 1685h0M2183 1825h0M1214 1857h0M1012 1836h0M1853 386h0M2140 385h0M688 550h0M1120 1164h0M2192 1377h0M1104 474h0M2027 1086h0M1753 1862h0M709 1326h0M1334 1055h0M1861 1328h0M1547 1711h0M1428 1937h0M1717 442h0M1994 866h0M1911 1819h0M734 1207h0M1217 445h0M1195 945h0M1105 512h0M2015 632h0M1704 1893h0M1208 1619h0M1582 581h0M1051 1367h0M1112 1945h0M1115 671h0M1806 1260h0M1832 489h0M2210 1721h0M1501 552h0M1616 1055h0M773 1857h0M1714 1552h0M1867 1514h0M819 491h0M2189 1519h0M1791 1667h0M832 970h0M1712 1503h0M1057 633h0M1299 1422h0M1983 1511h0M1410 707h0M1118 519h0M1801 939h0M1768 1629h0M1457 1011h0M1982 852h0M1247 1441h0M1254 600h0M722 400h0M1878 1724h0M1585 983h0M916 1858h0M1846 2026h0M1046 1687h0M1135 1314h0M1238 496h0M970 2005h0M1565 1459h0M889 774h0M1040 559h0M2041 946h0M914 1672h0M2189 1136h0M1177 383h0M1707 1561h0M1762 1842h0M1893 913h0M1057 1805h0M683 1412h0M1944 1878h0M2135 1099h0M1893 1915h0M683 1016h0M1782 2029h0M1988 715h0M1716 1961h0M1030 1187h0M1698 1491h0M1488 794h0M2042 1811h0M1952 1481h0M1747 1151h0M1915 1165h0M686 1974h0M818 994h0M843 859h0M1322 1844h0M1764 595h0M780 680h0M1313 1903h0M822 1622h0M882 1622h0M1730 662h0M1732 1691h0M1463 976h0M1082 1321h0M1610 1499h0M933 1135h0M1223 2018h0M1834 451h0M2067 899h0M1343 863h0M1882 1509h0M687 1386h0M1464 1086h0M2154 773h0M1912 1297h0M1573 676h0M2172 1013h0M1637 444h0M1541 1835h0M816 693h0M1653 818h0M1444 998h0M1614 1312h0M1804 1499h0M1207 1510h0M1385 1093h0M975 1106h0M1519 1720h0M1938 1311h0M1844 1785h0M761 668h0M1150 432h0M1094 599h0M907 592h0M1285 1538h0M878 1875h0M1778 1948h0M1783 1715h0M1135 712h0M1956 1289h0M1136 813h0M1289 646h0M1837 1681h0M1205 1938h0M879 1702h0M1155 1039h0M708 1308h0M1767 1305h0M1390 1314h0M1668 1723h0M1794 1909h0M1618 478h0M1952 1202h0M1742 816h0M1962 1695h0M1805 831h0M730 423h0M1502 1268h0M2115 684h0M2186 425h0M1380 760h0M1293 1205h0M984 654h0M1376 1082h0M1177 1645h0M873 735h0M1536 1998h0M1946 1929h0M1197 1182h0M1757 1633h0M1349 647h0M1027 1410h0M1293 1037h0M1324 1582h0M1974 1642h0M1661 1593h0M846 1247h0M2049 1637h0M1762 2012h0M1196 2017h0M738 1118h0M1350 983h0M1699 1052h0M1501 1652h0M1853 783h0M1702 1423h0M1171 1584h0M712 1688h0M1486 1102h0M1321 1480h0M1898 859h0M931 1616h0M2160 548h0M1887 1647h0M1306 1573h0M838 1952h0M1203 1479h0M2144 2002h0M811 374h0M1789 933h0M1395 1677h0M1708 661h0M2111 570h0M1871 931h0M932 1519h0M1855 1370h0M1448 466h0M2025 1417h0M1974 384h0M1539 1336h0M1797 873h0M1232 806h0M1992 1104h0M1120 778h0M1232 1896h0M950 803h0M1220 1673h0M964 1207h0M1241 1069h0M1228 1192h0M1125 730h0M1707 913h0M946 807h0M1665 592h0M2170 1374h0M1361 788h0M977 1365h0M1061 558h0M708 1086h0M1328 1787h0M1343 1675h0M1191 1100h0M1724 374h0M2200 433h0M2035 1390h0M821 538h0M901 1095h0M705 1055h0M1637 843h0M1174 436h0M957 807h0M799 1948h0M697 968h0M688 485h0M2093 1975h0M1641 1518h0M1480 928h0M899 1631h0M936 1346h0M1715 1882h0M1416 1183h0M1075 556h0M686 1709h0M1807 1422h0M909 1537h0M808 458h0M1536 1133h0M942 1373h0M1786 790h0M1926 1617h0M1838 752h0M1472 717h0M1094 1686h0M1817 1190h0M2202 1602h0M2078 1637h0M1048 1727h0M1096 1372h0M1851 1894h0M1296 1240h0M1260 469h0M1378 1581h0M1745 877h0M1838 412h0"/><path d="M1243 1727h0M1541 1759h0M2181 1360h0M1202 2012h0M682 472h0M1314 564h0M1767 666h0M1910 1119h0M741 1776h0M1506 1788h0M2206 505h0M1847 1244h0M1324 452h0M800 1775h0M1503 1179h0M1611 711h0M2145 1352h0M1284 1753h0M1740 1506h0M987 1825h0M1743 925h0M1471 1088h0M731 798h0M1810 1245h0M1716 1001h0M1287 1747h0M793 1547h0M1934 1662h0M1893 1479h0M994 1095h0M818 1166h0M1872 1797h0M1314 2011h0M1688 2023h0M870 1102h0M945 473h0M767 1682h0M1048 382h0M2108 977h0M976 734h0M1039 405h0M1541 959h0M2081 523h0M848 1633h0M2168 1405h0M1471 842h0M987 1001h0M1062 1897h0M1543 726h0M1148 1572h0M1671 829h0M1503 946h0M1326 870h0M1311 1393h0M1030 1009h0M1720 518h0M737 1640h0M888 763h0M1901 1830h0M2178 1673h0M2031 1515h0M1731 784h0M679 1486h0M2175 1530h0M1663 1656h0M894 1721h0M2117 519h0M891 1992h0M1711 1184h0M711 696h0M978 1495h0M1534 1830h0M1728 1119h0M1472 1433h0M1661 1767h0M1902 1359h0M1074 1830h0M1333 1584h0M1892 1063h0M2058 857h0M1406 1064h0M795 463h0M880 974h0M2076 1613h0M1612 1674h0M1359 1934h0M1690 988h0M1730 1452h0M2152 1249h0M988 1877h0M1046 1601h0M966 1367h0M1276 1594h0M2071 1436h0M1685 689h0M931 1792h0M1310 650h0M799 737h0M1090 1514h0M1739 1159h0M1383 442h0M1049 1459h0M715 1459h0M1701 933h0M717 913h0M1165 1479h0M680 1668h0M1839 466h0M1471 458h0M865 858h0M1681 1466h0M1663 1118h0M1200 741h0M1085 1234h0M1689 2008h0M1590 761h0M1722 553h0M1587 703h0M986 884h0M2129 1727h0M2138 417h0M2100 827h0M1337 507h0M692 1482h0M844 1623h0M691 857h0M2024 1898h0M2029 1868h0M1534 486h0M1458 884h0M1682 1380h0M1715 1930h0M1253 652h0M1786 784h0M822 1386h0M1566 1472h0M1479 2019h0M1518 720h0M1916 1970h0M1804 1906h0M1734 1391h0M1976 1576h0M806 781h0M1846 952h0M1391 1611h0M2089 1340h0M1910 1625h0M816 645h0M887 689h0M811 1618h0M1120 1490h0M1837 1448h0M1358 986h0M1713 588h0M1968 816h0M2177 780h0M1923 1837h0M1204 576h0M1756 1555h0M1406 1836h0M1300 1402h0M689 1358h0M743 976h0M1463 1604h0M1649 940h0M1886 1212h0M773 962h0M1082 1699h0M760 672h0M1524 1809h0M1525 1969h0M1099 1376h0M2147 1701h0M1954 1801h0M975 536h0M696 1777h0M1729 1372h0M1946 1698h0M1892 1351h0M2073 1103h0M1160 674h0M1773 1973h0M1818 1882h0M1015 1440h0M1435 1455h0M1234 1914h0M2146 1677h0M1889 1140h0M1664 1361h0M880 807h0M1268 645h0M973 908h0M1317 1130h0M2157 1344h0M1020 1109h0M2182 1938h0M972 1688h0M2072 377h0M2074 1728h0M2137 1346h0M939 1579h0M984 1174h0M1544 825h0M1162 1406h0M1908 1752h0M891 2046h0M1282 1187h0M1569 1293h0M1445 1937h0M990 1872h0M2025 1438h0M1424 1446h0M1112 762h0M1482 1702h0M1182 1530h0M1418 2027h0M1494 397h0M1863 1059h0M791 929h0M868 1904h0M1773 660h0M1387 1243h0M2007 1704h0M2182 1218h0M2208 801h0M1997 727h0M844 535h0M1161 1126h0M1965 1798h0M777 1828h0M849 1436h0M1164 1986h0M1555 1909h0M2065 1602h0M2011 1563h0M1967 1087h0M1003 1228h0M2157 426h0M2156 601h0M2045 848h0M1522 672h0M1802 1724h0M1343 459h0M1746 1541h0M1372 1516h0M2072 965h0M815 979h0M1974 1708h0M1496 1392h0M833 887h0M1397 1378h0M1177 551h0M908 1987h0M1748 1929h0M794 1572h0M1961 1873h0M1817 896h0M1687 944h0M1878 1580h0M1617 1269h0M1293 1398h0M1736 1513h0M2137 1144h0M1349 1380h0M2112 1077h0M981 1120h0M1120 1869h0M1365 1951h0M1878 1554h0M1981 1087h0M2093 1936h0M1644 1567h0M973 720h0M935 1714h0M1754 1500h0M2108 728h0M1823 1563h0M946 1270h0M2192 1240h0M724 772h0M1452 1549h0M1037 1396h0M1980 732h0M770 1735h0M1652 919h0M1174 1494h0M799 745h0M1874 378h0M1452 1387h0M1457 1983h0M1920 1324h0M1542 1724h0M1220 928h0M1010 1681h0M1554 872h0M1540 1231h0M1721 479h0M934 1548h0M1005 1942h0M1454 1333h0M1404 528h0M1038 800h0M2075 402h0M689 925h0M1580 889h0M690 1079h0M1837 1622h0M1169 1896h0M1126 1630h0M1591 993h0M1889 1611h0M741 2027h0M1457 1489h0M2013 937h0M1301 1161h0M1242 964h0M782 2014h0M1139 1670h0M851 781h0M1818 586h0M1738 1985h0M1098 982h0M1818 1640h0M773 1580h0M2207 1897h0M1727 1572h0M823 1759h0M768 1545h0M1387 2009h0M2018 1888h0M1198 1781h0M1235 677h0M1722 832h0M1579 1311h0M1798 562h0M1141 666h0M1671 596h0M1780 461h0M1673 1363h0M2000 2005h0M992 1219h0M945 1995h0M1110 1588h0M1843 1856h0M1861 1711h0M1502 638h0M1649 418h0M1464 1713h0M1366 932h0M1538 1687h0M1767 1500h0M1787 1579h0M1488 1082h0M691 1343h0M993 1494h0M1964 1463h0M1889 1682h0M2202 938h0M1971 440h0M1625 1535h0M1851 1614h0M926 901h0M1060 1711h0M1452 967h0M2035 1557h0M1319 1776h0M1202 704h0M1630 1083h0M1851 1131h0M1322 493h0M1861 854h0M939 1083h0M1936 987h0M724 1246h0M1548 1256h0M2173 409h0M2153 1623h0M2095 1809h0M2183 639h0M1003 1650h0M1202 1622h0M1759 1951h0M1082 549h0M1266 1738h0M2056 640h0M1119 1532h0M893 1080h0M1778 1651h0M1001 1583h0M2011 386h0M2162 1609h0M1742 713h0M2071 1515h0M1274 1596h0M914 885h0M1926 453h0M1677 501h0M776 566h0M2060 1265h0M2176 1623h0M1860 1220h0M731 1647h0M1922 1123h0M686 1802h0M1357 1781h0M1719 1205h0M835 1050h0M882 707h0M1342 1979h0M1404 1477h0M1746 1933h0M745 1087h0M2082 1974h0M1444 631h0M1677 834h0M1290 510h0M1752 1230h0M1935 1878h0M1285 782h0M2094 1684h0M1225 1380h0M1492 1894h0M1527 870h0M1811 893h0M2164 1860h0M1797 442h0M1333 705h0M862 1831h0M678 529h0M1098 1088h0M2093 1126h0M2002 1253h0M1936 1356h0M1846 1747h0M1649 637h0M1574 1401h0M908 1654h0M1373 1370h0M1501 662h0M2012 878h0M960 1272h0M2161 1810h0M2067 1843h0M1174 1732h0M1815 817h0M1875 1402h0M1934 1956h0M1958 862h0M1365 1398h0M1287 1572h0M1737 1214h0M1421 1696h0M1017 756h0M1100 1335h0M738 1017h0M1415 1700h0M1159 505h0M1651 1989h0M1172 2024h0M1162 708h0M1365 582h0M682 1164h0M1821 883h0M1261 1171h0M1539 1730h0M889 1463h0M2125 468h0M1322 1910h0M1595 1146h0M1951 848h0M1814 1009h0M1556 1139h0M1039 1311h0M1963 1624h0M1957 699h0M1360 1221h0M729 560h0M1267 749h0M2178 981h0M2196 1969h0M1147 490h0M1435 1234h0M1581 540h0M1575 578h0M933 2030h0M1460 584h0M1858 475h0M1955 666h0M791 671h0M1338 1092h0M708 1781h0M1230 1390h0M1634 728h0M1498 1984h0M1516 1442h0M1436 555h0M898 1231h0M1182 652h0M1777 1793h0M1987 1169h0M1106 731h0M1920 1352h0M698 1582h0M1031 1752h0M1515 491h0M1852 740h0M2150 595h0M1660 415h0M949 606h0M1757 1380h0M1578 446h0M2179 1417h0M1577 864h0M1192 812h0M2047 523h0M1099 1367h0M694 1697h0M873 1208h0M1932 1607h0M1692 384h0M1693 862h0M1837 1100h0M1214 929h0M1029 1891h0M1194 1201h0M1109 803h0M2081 1886h0M1192 1779h0M1541 1868h0M2103 1224h0M2143 1470h0M1192 1294h0M1596 1809h0M1204 1237h0M937 1828h0M1531 1777h0M1495 1711h0M1682 1935h0M2151 854h0M741 1509h0M1006 557h0M781 1562h0M1848 1188h0M1619 1604h0M1992 1937h0M1582 1636h0M702 1243h0M1826 812h0M1839 1014h0M1953 1241h0M1912 1569h0M1287 1671h0M1408 992h0M1332 743h0M1983 805h0M1470 590h0M1975 1345h0M1345 1721h0M1499 1852h0M803 1455h0M2002 1088h0M2104 1019h0M766 1174h0M1195 2023h0M1632 1237h0M1864 1549h0M1949 494h0M2052 481h0M1968 1317h0M1256 420h0M1999 515h0M1046 451h0M1882 829h0M1205 1391h0M2010 1912h0M779 680h0M1211 704h0M1658 512h0M1627 733h0M1602 1752h0M1876 1904h0M2095 1789h0M1567 926h0M923 787h0M2172 1149h0M1638 457h0M1659 1824h0M1450 664h0M1672 384h0M1227 1344h0M1671 515h0M1405 661h0M1738 596h0M1676 380h0M2171 1099h0M2039 1963h0M1191 628h0M1428 445h0M1646 1787h0M917 502h0M968 1929h0M1082 1655h0M938 1339h0M1936 1213h0M1980 1806h0M2115 1488h0M2068 2052h0M839 907h0M1531 760h0M1764 938h0M1387 1478h0M1548 1459h0M2123 781h0M1439 1300h0M2211 1916h0M2059 587h0M1605 1609h0M1092 616h0M1739 1102h0M1424 1865h0M1942 1991h0M1412 549h0M1039 755h0M1640 735h0M2008 897h0M2034 1891h0M815 845h0M1732 538h0M925 455h0M851 838h0M1647 1580h0M1222 768h0M1840 1151h0M1692 445h0M2128 1614h0M1153 1424h0M1981 458h0M1855 806h0M2148 1694h0M1850 1330h0M1509 663h0M895 875h0M2199 1461h0M1329 681h0M1493 1675h0M2022 1983h0M2202 602h0M972 1910h0M1941 1521h0M1336 1923h0M1523 1128h0M726 1077h0M722 1277h0M1523 1686h0M1825 1089h0M1650 748h0M1297 1196h0M756 1072h0M1373 1857h0M1296 1719h0M986 375h0M733 1399h0M2148 1702h0M906 1764h0M2135 1721h0M1181 1189h0M1044 1767h0M1320 877h0M2057 1448h0M1474 413h0M1174 475h0M1007 1082h0M1411 1006h0M728 720h0M1239 1734h0M775 1135h0M1798 1171h0M2038 787h0M1475 2030h0M805 1233h0M1272 606h0M1067 1464h0M696 1329h0M969 750h0M1281 864h0M1489 2029h0M1672 729h0M1691 1359h0M1927 483h0M1420 609h0M1954 937h0M1579 1623h0M1466 1409h0M2183 660h0M1862 1890h0M1312 1012h0M1546 650h0M1512 835h0M1573 1257h0M1044 1476h0M995 1620h0M1670 508h0M766 559h0M2149 703h0M1861 939h0M879 1526h0M774 1303h0M1553 987h0M1585 1204h0M758 815h0M1565 1272h0M1115 1183h0M1433 1846h0M1400 1745h0M1939 883h0M1239 1140h0M1624 505h0M723 1889h0M834 474h0M1176 1610h0M1748 896h0M1750 1307h0M869 901h0M1450 1905h0M2029 1843h0M1914 1590h0M1142 795h0M1434 423h0M1344 527h0M1449 1337h0M1590 1956h0M1686 1094h0M1281 1370h0M2144 1120h0M681 796h0M870 1371h0M787 980h0M884 410h0M1952 2031h0M904 1519h0M1217 891h0M1208 401h0M1454 886h0M1617 382h0M1751 963h0M883 595h0M921 1760h0M1156 1025h0M1373 947h0M1509 1362h0M1886 1536h0M946 404h0M1607 828h0M1775 1350h0M1636 376h0M1071 1440h0M2065 991h0M847 1686h0M1399 1669h0M1598 611h0M1343 1014h0M1432 1063h0M1074 830h0M1101 1983h0M1566 1995h0M1997 1397h0M1982 1475h0M1851 915h0M1322 1555h0M1684 1556h0M2168 1796h0M1889 1920h0M1505 1562h0M1891 1519h0M1837 715h0M1843 1481h0M1167 1863h0M1901 1384h0M2044 1191h0M1355 539h0M1984 419h0M716 1033h0M785 801h0M946 1452h0M2118 1734h0M957 806h0M2103 435h0M939 1589h0M1067 2016h0M1515 2019h0M1663 917h0M1472 2050h0M1276 385h0M1224 2004h0M975 681h0M1438 1976h0M806 1498h0M2151 1924h0M683 426h0M1691 1736h0M2089 608h0M684 925h0M1835 1652h0M856 808h0M2079 778h0M1042 1605h0M1250 461h0M2013 429h0M2205 1444h0M1978 514h0M1323 1422h0M1897 873h0M2019 471h0M711 1391h0M1132 689h0M1807 601h0M1289 573h0M1061 1136h0M1960 2047h0M1549 1719h0M1061 1324h0M962 811h0M763 2051h0M1130 477h0M960 622h0M2132 972h0M1658 1692h0M1301 1465h0M2101 641h0M680 1314h0M1727 1404h0M1769 538h0M1720 1765h0M1852 852h0M1993 934h0M819 886h0M1655 1339h0M1685 731h0M1060 989h0M2043 433h0M1585 931h0M2061 431h0M1376 1684h0M1565 528h0M2111 1468h0M827 841h0M837 378h0M1600 1917h0M1889 1639h0M1018 930h0M1405 1201h0M2059 720h0M993 2051h0M1516 1988h0M1473 1385h0M1882 983h0M1624 1491h0M2080 1436h0M841 768h0M2153 591h0M2162 1808h0M983 589h0M718 395h0M2118 683h0M1168 1464h0M691 1706h0M773 2017h0M1456 1509h0M2131 1178h0M1675 815h0M1314 1024h0M1673 443h0M801 1718h0M941 2030h0M1250 637h0M1679 514h0M1633 1853h0M966 1524h0M1420 1964h0M724 1558h0M1385 1900h0M1063 1666h0M1801 1937h0M909 632h0M1624 1806h0M1310 1847h0M2091 585h0M1748 987h0M1783 1170h0M750 1627h0M2204 1391h0M1214 1726h0M2056 1686h0M1597 1434h0M814 624h0M1312 1230h0M701 588h0M1340 1687h0M1521 822h0M1115 1530h0M1991 395h0M1408 861h0M1550 1601h0M1792 1095h0M1073 569h0M1855 666h0M900 957h0M1420 980h0M1619 1945h0M2050 1053h0M1434 481h0M1598 1299h0M1063 1679h0M1181 633h0M928 376h0M1279 2005h0M1525 641h0M837 818h0M1574 569h0M1955 683h0M2118 1753h0M821 807h0M1298 424h0M1732 1642h0M2121 762h0M1771 1261h0M776 683h0M1438 1388h0M1778 1822h0M1913 867h0M1191 878h0M1539 1802h0M1482 607h0M1162 1638h0M1830 953h0M2163 1815h0M830 711h0M2045 664h0M945 1258h0M795 1474h0M1161 1222h0M1763 692h0M1091 1062h0M1847 1995h0M2087 1365h0M1646 1610h0M1260 957h0M723 1827h0M820 1199h0M1915 2019h0M1421 701h0M1565 1186h0M1089 1079h0M1041 783h0M1969 1752h0M2140 988h0M1376 862h0M1185 1063h0M2194 1245h0M1077 673h0M1706 1187h0M1122 1064h0M1227 1458h0M1032 1215h0M1170 1647h0M712 1380h0M1367 806h0M1977 1702h0M1327 473h0M802 1316h0M1568 1071h0M2043 1541h0M1561 503h0M820 1500h0M1311 974h0M1628 1032h0M959 1017h0M1935 843h0M1568 1678h0M762 1850h0M1656 1906h0M1357 1843h0M1741 983h0M1997 463h0M695 425h0M1175 1512h0M1641 1704h0M1921 1898h0M1220 757h0M917 1676h0M761 1565h0M2010 952h0M2032 1043h0M1422 1600h0M928 647h0M1917 889h0M1139 1077h0M1973 1039h0M1684 1184h0M944 389h0M906 545h0M887 1747h0M1077 1186h0M900 1321h0M1042 999h0M1188 1127h0M1445 1443h0M2020 1838h0M915 1545h0M1768 1305h0M939 856h0M1887 1921h0M2025 1937h0M1712 1378h0M1168 579h0M1808 728h0M1803 1852h0M1754 1838h0M1551 1780h0M958 688h0M1873 2020h0M1947 1725h0M1439 1328h0M858 1472h0M790 921h0M974 758h0M1959 1606h0M1274 693h0M1565 1720h0M2087 825h0M1649 1740h0M1275 1635h0M1969 937h0M1124 976h0M2070 657h0M1174 1960h0M1409 446h0M774 1626h0M862 1652h0M2043 1495h0M983 1182h0M857 1941h0M1484 796h0M1886 642h0M851 1325h0M742 1150h0M1702 1975h0M1064 1251h0M684 988h0M1790 1856h0M1047 1570h0M2185 1362h0M679 1409h0M1922 1712h0M1312 818h0M2108 871h0M1785 1914h0M1164 1732h0M2116 1837h0M1930 1380h0M1195 849h0M1948 540h0M765 419h0M1537 1241h0M780 1302h0M2079 632h0M1987 1949h0M677 724h0M754 722h0M1946 1300h0M1493 1448h0M1096 1263h0M1677 573h0M1149 1393h0M1563 1553h0M1283 1386h0M761 825h0M1296 547h0M1883 1944h0M1947 1050h0M1080 1307h0M1724 488h0M1497 1993h0M1195 674h0M1696 1150h0M807 1185h0M1797 558h0M1968 1717h0M2207 777h0M1385 1193h0M1079 1859h0M896 833h0M810 968h0M959 1261h0M2168 1617h0M1085 372h0M1602 1791h0M1651 1349h0M778 1787h0M2119 613h0M1878 1900h0M1949 941h0M1641 1384h0M2138 1775h0M1634 1160h0M1537 857h0M1903 1605h0M981 469h0M2063 523h0M1610 818h0M1184 793h0M1944 1533h0M1411 1537h0M2175 852h0M2020 1259h0M685 1311h0M1757 1829h0M1714 1840h0M1193 819h0M1938 912h0M1558 1375h0M693 1464h0M1328 849h0M1484 469h0M752 943h0M1210 1895h0M745 1501h0M1302 518h0M1822 995h0M1593 1413h0M791 1312h0M1593 879h0M1836 1689h0M779 647h0M1129 919h0M1497 1161h0M1435 838h0M1416 1481h0M1971 1333h0M883 780h0M1513 1227h0M972 1885h0M1209 1159h0M929 1360h0M2153 1508h0M960 1460h0M1411 550h0M1111 634h0M1997 532h0M930 918h0M1887 1563h0M2085 431h0M872 576h0M1906 854h0M1745 1486h0M767 1566h0M1484 709h0M1148 789h0M900 1230h0M782 1990h0M1302 404h0M1278 566h0M1963 1057h0M1577 1148h0M1243 1467h0M1575 735h0M1443 1696h0M1260 1372h0M1056 1497h0M1950 1108h0M1254 1374h0M1853 758h0M1619 776h0M1359 1346h0M1118 1365h0M1656 1759h0M1671 1584h0M1762 1261h0M980 710h0M901 1122h0M1759 1646h0M2048 784h0M2127 1852h0M1117 2038h0M1346 653h0M1643 482h0M924 1715h0M1614 749h0M999 1605h0M2086 1953h0M705 1358h0M2057 1509h0M1491 1858h0M1791 1770h0M1484 1249h0M685 1860h0M2050 676h0M1820 1194h0M754 1049h0M1495 691h0M1927 1260h0M1863 441h0M1696 1764h0M2014 1443h0M1114 1683h0M1319 649h0M1610 496h0M1813 1046h0M1798 521h0M1975 1350h0M1359 1941h0M1759 1879h0M1218 670h0M1050 1962h0M1337 965h0M1646 744h0M1000 1256h0M1684 1685h0M894 1331h0M1493 1981h0M1399 746h0M1915 1986h0M1616 415h0M2160 1160h0M769 1020h0M2063 636h0M1061 1780h0M841 604h0M1838 757h0M1398 1442h0M2024 1938h0M1471 1946h0M1926 410h0M1571 2019h0M1764 823h0M720 691h0M2123 836h0M1833 763h0M1645 2006h0M1991 1639h0M950 746h0M929 1645h0M2025 756h0M1684 1663h0M2150 885h0M732 984h0M1693 907h0M899 2008h0M1227 1026h0M704 433h0M924 1502h0M1717 1322h0M1407 1057h0M938 475h0M1700 690h0M1598 566h0M1917 452h0M1175 1177h0M2014 2041h0M1298 1566h0M1667 884h0M724 1750h0M692 1408h0M705 731h0M1138 446h0M1985 1104h0M1209 1324h0M838 1569h0M1563 1483h0M2137 2040h0M1833 1291h0M734 911h0M2037 509h0M1131 1985h0M1992 1480h0M1257 1276h0M2057 1488h0M1449 973h0M2208 1498h0M788 1088h0M1699 540h0M2032 1566h0M887 1173h0M2077 1431h0M1568 1527h0M1181 1694h0M1679 1609h0M1905 1625h0M1333 714h0M1734 513h0M1292 1222h0M2033 1125h0M1868 1929h0M1287 1568h0M1524 997h0M1273 938h0M1698 713h0M1940 954h0M1108 1172h0M1130 1615h0M926 1802h0M1645 388h0M1253 1277h0M1343 1376h0M1324 914h0M1422 1665h0M1823 2045h0M1691 1309h0M1610 814h0M694 1970h0M2103 840h0M818 1600h0M1481 1519h0M1527 1258h0M1619 961h0M1018 1117h0M2048 957h0M1881 958h0M840 1558h0M1568 795h0M2155 2042h0M1255 1796h0M1274 715h0M782 1498h0M2135 1927h0M897 1251h0M715 1227h0M1651 1188h0M720 466h0M1087 1876h0M2108 851h0M1900 1170h0M896 1128h0M956 1998h0M1540 792h0M936 708h0M1063 1347h0M1523 1606h0M2135 1403h0M1991 1746h0M1268 1328h0M1194 1668h0M2063 857h0M2032 890h0M1820 1228h0M836 526h0M950 766h0M1602 731h0M708 1458h0M1083 798h0M764 488h0M1908 1052h0M1845 1550h0M1230 1637h0M2045 521h0M1001 1410h0M1658 393h0M1695 1241h0M1129 422h0M839 710h0M2040 1217h0M837 1814h0M1691 1697h0M1571 1443h0M1577 809h0M1957 1933h0M1885 1725h0M1778 1022h0M2169 1207h0M1555 1468h0M1400 843h0M1089 1836h0M1613 610h0M1624 2042h0M1693 376h0M1583 990h0M898 397h0M1528 804h0M878 1139h0M1222 1120h0M729 1646h0M2140 988h0M1395 399h0M736 882h0M905 2008h0M1306 1281h0M1623 1605h0M1595 1988h0M1096 1387h0M888 1142h0M1826 1352h0M1173 1347h0M1840 956h0M859 2038h0M1303 885h0M2045 2031h0M1610 816h0M841 1628h0M770 1359h0M2068 1082h0M788 1927h0M837 1419h0M1880 1355h0M1745 802h0M1355 1613h0M959 1364h0M1378 423h0M684 1938h0M860 1917h0M2070 1924h0M2132 2035h0M951 1388h0M1988 1946h0M838 404h0M1979 1221h0M1278 1540h0M1995 1550h0M2080 862h0M2091 1545h0M1960 1375h0M1760 1155h0M1936 422h0M1683 424h0M1732 1188h0M1209 680h0M994 882h0M1940 1039h0M1909 1526h0M1460 1004h0M993 1211h0M1532 1182h0M1290 1352h0M1228 1519h0M1074 1253h0M1530 2017h0M2104 1232h0M703 1025h0M1849 736h0M1210 1750h0M1764 2028h0M1577 1241h0M1005 517h0M2203 1913h0M865 1689h0M1837 849h0M918 391h0M725 1008h0M2165 738h0M1852 1568h0M1277 1844h0M857 1025h0M1225 407h0M2203 1064h0M2028 1463h0M843 1289h0M1297 406h0M945 643h0M896 731h0M800 1674h0M1221 1066h0M1743 913h0M1225 850h0M1928 970h0M1561 530h0M721 1399h0M2031 603h0M1241 1845h0M1527 1142h0M1576 575h0M1163 2034h0M2130 504h0M878 1187h0M2189 583h0M1136 877h0M2085 2025h0M829 1473h0M785 758h0M1214 700h0M1847 1524h0M1075 1402h0M1027 1605h0M833 1372h0M1640 499h0M1964 645h0M708 380h0M1335 1300h0M1704 871h0M1180 624h0M1678 989h0M780 1257h0M1182 1822h0M1888 878h0M1207 2038h0M1544 1311h0M1098 1178h0M2174 491h0M1506 2024h0M1204 1240h0M1742 1722h0M1811 1582h0M1012 1447h0M1068 1267h0M2111 1186h0M1024 837h0M2174 1096h0M918 1191h0M859 1117h0M1428 1325h0M1005 1890h0M1459 687h0M1482 635h0M833 424h0M1015 1534h0M745 835h0M1511 1044h0M825 1993h0M1745 1548h0M1861 614h0M774 1515h0M1711 617h0M1554 1886h0M882 558h0M914 806h0M2141 1624h0M1638 1691h0M1558 1860h0M2169 1910h0M1406 463h0M2049 725h0M2079 1069h0M1565 1749h0M775 745h0M2057 1903h0M1022 1186h0M1360 1080h0M927 1988h0M1426 812h0M1664 725h0M2046 1330h0M1000 937h0M1280 1527h0M1597 525h0M813 521h0M843 1711h0M1860 1253h0M1105 1299h0M1962 420h0M797 995h0M1280 1429h0M2075 1585h0M1847 1366h0M2203 1635h0M1899 1270h0M2104 1895h0M712 1759h0M1024 1579h0M2020 1816h0M1681 2030h0M952 1453h0M759 1103h0M1031 1577h0M1281 679h0M1435 1450h0M1502 1471h0M1751 437h0M1469 997h0M1165 722h0M1782 1098h0M1059 469h0M2075 1414h0M1622 468h0M699 1844h0M2040 1829h0M1065 1475h0M2148 1194h0M1953 1436h0M750 1896h0M1025 844h0M875 773h0M1837 1899h0M1463 656h0M1742 1491h0M1889 553h0M1338 1086h0M953 649h0M1470 979h0M1738 1873h0M1670 1491h0M780 1312h0M1126 1597h0M1547 1069h0M1320 1868h0M946 778h0M2143 786h0M1118 1256h0M1960 679h0M1468 436h0M1606 574h0M1430 1981h0M1224 2042h0M1441 1054h0M1337 1926h0M749 1491h0M1970 2013h0M1504 1066h0M1592 1186h0M971 528h0M961 1413h0M2164 1224h0M1051 672h0M1990 374h0M1311 947h0M801 1258h0M857 1417h0M1066 1929h0M732 1218h0M1837 1790h0M1788 1288h0M969 1272h0M750 1079h0M1816 1461h0M1542 1234h0M1961 1255h0M1831 1564h0M1385 2009h0M1605 857h0M1401 1185h0M1539 527h0M1654 1051h0M2043 495h0M2190 382h0M826 589h0M1617 1463h0M705 879h0M1398 1338h0M1663 1760h0M1378 1775h0M1135 403h0M2087 554h0M1288 1168h0M1668 1687h0M732 979h0M2116 1468h0M1574 430h0M1456 1113h0M1445 1334h0M1924 1782h0M1561 1631h0M1255 678h0M1397 1763h0M1719 1176h0M999 1529h0M820 975h0M960 1263h0M1745 441h0M822 2037h0M2031 2002h0M1031 957h0M1615 1025h0M735 1715h0M2050 1710h0M1495 1751h0M2118 1994h0M1122 1787h0M2033 1368h0M2129 570h0M1377 652h0M1319 413h0M842 1405h0M1990 1582h0M1423 414h0M1520 663h0M1862 1954h0M2194 1509h0M1306 1054h0M1343 1326h0M1793 1376h0M908 576h0M1421 763h0M2026 1863h0M1689 1199h0M2059 1027h0M1416 1250h0M873 1032h0M1306 964h0M1829 522h0M2109 912h0M1435 1024h0M1922 1480h0M1980 776h0M753 826h0M2208 680h0M924 704h0M1289 1627h0M1684 615h0M1945 1953h0M1156 417h0M2072 1122h0M1782 1540h0M1609 422h0M1491 1757h0M1372 573h0M2158 547h0M1372 761h0M1462 1967h0M1600 1235h0M1256 685h0M977 1759h0M1487 1650h0M1513 810h0M1811 395h0M1057 1846h0M1874 1803h0M2010 1736h0M760 1221h0M1078 977h0M1082 1266h0M1206 1820h0M1149 1261h0M2190 806h0M1234 426h0M734 1376h0M1306 1809h0M1969 1771h0M1497 397h0M1871 1301h0M835 2037h0M1399 1820h0M791 1469h0M1344 1689h0M1050 425h0M742 503h0M968 832h0M1656 1354h0M759 1091h0M1204 1790h0M690 1684h0M1098 1660h0M1370 698h0M2108 428h0M755 1778h0M1682 535h0M1252 1695h0M1813 847h0M2049 455h0M2065 1941h0M1683 1487h0M1064 591h0M1639 1132h0M2155 1591h0M988 705h0M704 1554h0M2160 725h0M2092 995h0M2184 1498h0M1890 1691h0M1152 1444h0M2091 1482h0M1443 1385h0M1155 1939h0M2090 1828h0M728 1880h0M1109 442h0M1410 1483h0M1268 1418h0M750 1603h0M1097 1224h0M1731 787h0M2064 1362h0M1819 544h0M1933 1384h0M1819 1455h0M2138 418h0M942 1675h0M1865 1513h0M2173 996h0M1267 1584h0M1246 405h0M967 670h0M771 773h0M986 591h0M1981 670h0M1957 480h0M2199 1592h0M2106 1408h0M2192 1372h0M899 1578h0M2103 1957h0M1702 1266h0M1287 1441h0M697 612h0M1942 810h0M1101 1799h0M855 1441h0M1963 1243h0M1724 1925h0M938 560h0M1334 389h0M1421 1190h0M1966 739h0M1956 716h0M1431 922h0M1657 702h0M2010 1171h0M1647 1474h0M1979 1637h0M1456 1647h0M2070 905h0M1948 836h0M1138 892h0M1126 1017h0M1854 1375h0M1775 1753h0M1256 1017h0M1058 400h0M2044 854h0M1255 608h0M2157 1960h0M1040 1034h0M1523 538h0M1198 827h0M1024 1857h0M862 1467h0M1730 1036h0M1696 1227h0M731 1562h0M1958 768h0M2163 1945h0M1770 1279h0M1194 1589h0M2163 497h0M1603 1320h0M1981 636h0M1662 1193h0M1622 582h0M1069 2010h0M1511 692h0M780 1451h0M1489 1484h0M1633 666h0M1685 1835h0M1887 654h0M1838 1909h0M1248 2032h0M872 1758h0M763 1361h0M1016 1592h0M942 1791h0M1375 1242h0M2202 807h0M1377 1532h0M1483 1682h0M1745 1718h0M1464 1435h0M1106 836h0M1178 456h0M1668 1639h0M1366 1750h0M790 1746h0M1453 620h0M728 1809h0M905 1366h0M1125 1535h0M1491 444h0M1928 1886h0M1249 1110h0M1388 1788h0M826 1759h0M1759 856h0M1569 1227h0M1791 672h0M1571 1291h0M1665 1012h0M1238 1957h0M1271 1248h0M1368 1691h0M1088 741h0M816 1305h0M683 762h0M1352 660h0M1815 690h0M1007 1787h0M1188 381h0M1305 1060h0M2197 1692h0M1603 1818h0M1114 921h0M1629 544h0M760 1210h0M801 679h0M900 391h0M1691 888h0M2082 1740h0M1486 637h0M1483 427h0M1036 947h0M1829 1764h0M1991 1797h0M1387 1424h0M1384 621h0M905 1018h0M1248 1791h0M1019 1386h0M951 406h0M1721 1913h0M2145 1875h0M999 758h0M1391 446h0M928 1965h0M736 1996h0M721 1593h0M856 1347h0M2073 1041h0M2031 1279h0M1418 1213h0M2212 1477h0M1317 1124h0M1346 1494h0M1580 378h0M1887 1575h0M1161 604h0M991 1956h0M1293 1320h0M1996 468h0M1933 919h0M1158 496h0M713 406h0M1885 2034h0M1770 1707h0M1898 1940h0M1831 1897h0M1099 801h0M1156 1844h0M984 642h0M1660 1736h0M1876 511h0M1504 477h0M1047 1845h0M1599 1712h0M1148 1575h0M1884 779h0M1082 1798h0M782 1726h0M1315 844h0M1518 543h0M1725 810h0M1927 1745h0M1468 2022h0M1840 1579h0M1593 1609h0M902 1472h0M1310 1342h0M1454 1741h0M1563 1178h0M1765 1769h0M1180 1690h0M2184 1356h0M1725 1332h0M1547 1641h0M1087 1519h0M1514 1158h0M2110 1473h0M933 1831h0M1598 1693h0M2185 442h0M2160 464h0M1039 1174h0M1972 1516h0M1074 1481h0M971 1896h0M1710 1168h0M918 1111h0M2086 1869h0M1376 1046h0M1070 1546h0M1483 990h0M2084 981h0M1651 1089h0M1122 1147h0M2047 584h0M1856 1673h0M1146 1790h0M859 1667h0M2168 811h0M2002 1844h0M2031 1903h0M812 1017h0M766 856h0M1846 836h0M2153 717h0M1795 793h0M2029 1458h0M2201 1677h0M1425 1700h0M1443 451h0M877 1809h0M1932 1997h0M1164 1946h0M1376 1073h0M1416 753h0M1832 456h0M1540 470h0M716 1125h0M1224 1047h0M1810 1761h0M1741 832h0M1347 748h0M1522 1848h0M838 1932h0M1284 817h0M1034 1203h0M1029 1935h0M1545 1224h0M894 689h0M2202 1739h0M1903 867h0M1169 1584h0M1744 1826h0M1306 1040h0M2136 585h0M2079 1126h0M2184 1650h0M1252 1442h0M1044 1197h0M1555 1442h0M1570 1985h0M696 1213h0M1465 1845h0M1318 1767h0M1921 1435h0M1468 632h0M1980 974h0M1383 825h0M1230 1206h0M2071 1613h0M1802 1035h0M1635 1960h0M2117 515h0M1442 813h0M763 1157h0M1214 1735h0M1358 559h0M1715 1324h0M1321 934h0M2089 1660h0M1288 1873h0M1431 1797h0M1942 1948h0M845 394h0M1810 1947h0M1698 1447h0M886 977h0M791 673h0M1263 941h0M802 1242h0M1637 592h0M708 744h0M1198 1321h0M1813 1359h0M1962 1095h0M2030 1625h0M1438 1129h0M1590 599h0M1790 993h0M2134 809h0M894 1658h0M794 699h0M1118 1604h0M1413 1377h0M1743 1681h0M898 1119h0M814 566h0M849 605h0M2173 864h0M1729 970h0M1368 1928h0M732 1090h0M761 1931h0M1152 537h0M801 657h0M1976 1896h0M872 1414h0M1701 676h0M1434 909h0M1276 618h0M889 1955h0M2034 1542h0M749 551h0M1515 2006h0M1173 1371h0M1660 388h0M1288 533h0M1994 1178h0M886 1039h0M1604 787h0M1731 1467h0M882 1471h0M1375 760h0M1022 1793h0M1072 1842h0M1127 453h0M886 399h0M2045 1745h0M1094 982h0M1673 2036h0M1115 601h0M1136 2006h0M1193 933h0M1884 569h0M961 1360h0M1476 1997h0M1421 496h0M1488 1927h0M1849 647h0M1146 532h0M1793 965h0M2213 1509h0M2206 1438h0M1026 532h0M1295 1055h0M1150 2029h0M1607 682h0M1658 1267h0M875 1218h0M1245 2028h0M2030 1017h0M882 1978h0M811 1140h0M1848 634h0M951 1003h0M1359 717h0M1284 922h0M815 1765h0M964 1808h0M818 1048h0M2151 1816h0M2209 1113h0M1146 616h0M1641 380h0M1521 1027h0M1959 1013h0M787 1507h0M1891 1221h0M1944 799h0M2135 1306h0M2134 1279h0M2043 1425h0M989 1837h0M2018 535h0M1364 1500h0M1645 1586h0M711 1268h0M845 1343h0M791 1444h0M1479 744h0M1008 1162h0M757 862h0M1826 1458h0M1384 1995h0M1787 1353h0M1166 859h0M1634 1786h0M1621 1086h0M2214 2033h0M1551 1558h0M1666 946h0M1509 544h0M1339 1514h0M993 703h0M1147 1274h0M1363 942h0M1417 1829h0M1972 1691h0M1124 1902h0M1209 401h0M1048 1721h0M725 1054h0M1922 648h0M2024 643h0M1095 396h0M876 1177h0M1465 1147h0M1951 1649h0M767 764h0M1994 589h0M1003 621h0M1762 2041h0M1105 1709h0M1915 559h0M2131 1507h0M1907 1574h0M1116 2023h0M1700 2000h0M1937 1971h0M1989 1318h0M1578 935h0M2188 834h0M1599 1141h0M1179 1475h0M1853 1208h0M1956 648h0M1904 982h0M2158 443h0M699 868h0M1038 661h0M1081 1155h0M1760 735h0M1030 930h0M1315 1279h0M1083 727h0M2141 1103h0M2064 1048h0M1128 484h0M1947 1998h0M970 1433h0M1817 1503h0M892 1810h0M1475 2014h0M1966 842h0M2018 1913h0M1961 2040h0M1222 1245h0M1644 798h0M1203 552h0M2094 850h0M1617 1738h0M1984 696h0M2195 2042h0M1233 873h0M716 1651h0M2041 2042h0M1856 1276h0M1415 625h0M1469 534h0M910 493h0M998 1585h0M1776 592h0M1741 1606h0M1903 1170h0M1940 938h0M1446 1880h0M1420 1692h0M975 1389h0M880 1007h0M2053 1587h0M1136 1167h0M1805 489h0M1749 455h0M1853 1756h0M1550 793h0M2023 886h0M1402 1033h0M1504 1436h0M1690 472h0M1061 711h0M957 1600h0M781 1222h0M1436 1865h0M1544 862h0M1618 1315h0M1178 817h0M920 685h0M877 1794h0M1135 1043h0M2142 1958h0M757 1060h0M965 1571h0M752 902h0M706 908h0M1385 1757h0M1718 1854h0M1442 1215h0M1128 1068h0M1487 812h0M809 498h0M1532 1256h0M1918 959h0M1219 1174h0M1973 925h0M1134 953h0M1257 1144h0M1056 511h0M1759 963h0M1734 1845h0M1939 1211h0M1083 1016h0M1279 1644h0M2184 386h0M1417 1467h0M1052 1181h0M1547 1177h0M1357 1067h0M1479 948h0M1486 633h0M1580 1957h0M1710 1522h0M835 1748h0M1326 1182h0M696 1751h0M881 1882h0M1815 590h0M679 596h0M1030 946h0M1340 1183h0M1937 946h0M1213 1373h0M1263 1619h0M2145 554h0M1830 1820h0M1299 1114h0M1293 1504h0M1086 938h0M1180 2029h0M1012 1735h0M822 775h0M839 2041h0M1121 1972h0M1585 1300h0M1565 1303h0M1645 1297h0M937 804h0M1513 1381h0M1673 435h0M1552 461h0M1342 1690h0M1342 1800h0M989 1429h0M2114 412h0M891 1664h0M1976 1511h0M998 1420h0M1187 1768h0M1548 1561h0M1965 1452h0M686 1110h0M1087 2047h0M1805 766h0M1933 1686h0M1399 588h0M914 1976h0M2034 576h0M957 500h0M917 1594h0M1919 1043h0M2110 2048h0M2040 1706h0M948 947h0M817 474h0M1324 1525h0M1098 1036h0M814 1887h0M1838 1917h0M1629 1564h0M1624 1376h0M2198 407h0M1744 808h0M1184 1008h0M1963 1095h0M1566 839h0M710 1963h0M1615 741h0M878 1798h0M2033 1989h0M1546 1795h0M1233 443h0M1247 1098h0M2072 726h0M923 1197h0M1979 375h0M1402 1753h0M1041 1139h0M1881 1293h0M1672 567h0M1087 1057h0M1486 1644h0M1113 597h0M1543 1716h0M2036 448h0M2131 1255h0M1545 1121h0M1840 899h0M1048 1128h0M2012 664h0M813 1492h0M1694 786h0M723 1312h0M1724 815h0M762 1382h0M842 1278h0M2142 1476h0M1479 1173h0M1265 1759h0M727 1470h0M1476 458h0M1249 763h0M2001 739h0M1802 2029h0M709 1146h0M1409 1032h0M984 415h0M1444 2018h0M1644 1294h0M1255 1349h0M861 1276h0M1458 1799h0M2082 1919h0M1872 758h0M1510 813h0M955 2023h0M1076 707h0M1956 1704h0M1955 1672h0M934 2028h0M1163 851h0M1268 1808h0M1238 1691h0M1778 1030h0M1125 1629h0M1604 647h0M2196 2003h0M1682 892h0M2101 989h0M1511 1851h0M1293 1994h0M1959 550h0M949 1729h0M1997 1084h0M1075 1734h0M1220 808h0M952 373h0M994 1629h0M1246 1301h0M1707 924h0M1936 510h0M1419 995h0M1726 2047h0M1495 2004h0M1573 859h0M1614 1794h0M1525 1954h0M1319 1498h0M842 927h0M965 728h0M1731 415h0M2057 2047h0M2025 542h0M1096 1500h0M1468 1241h0M897 1557h0M1823 860h0M1295 720h0M1144 1049h0M1848 1283h0M1572 485h0M1781 1234h0M2191 1612h0M1814 1470h0M1057 555h0M1072 1014h0M798 1510h0M2166 1181h0M2065 807h0M1945 1188h0M1143 1918h0M825 630h0M1128 524h0M1539 2012h0M1379 1169h0M992 1876h0M1287 1492h0M1132 1973h0M1537 1080h0M2179 490h0M2208 1224h0M979 691h0M1712 1472h0M1328 1126h0M688 1294h0M1374 550h0M1254 1334h0M1952 1198h0M954 1607h0M946 1529h0M1739 1759h0M814 1228h0M1503 1624h0M2038 1826h0M2053 1408h0M2133 881h0M2087 2008h0M1621 1336h0M2213 1906h0M1891 629h0M1981 515h0M2114 985h0M854 1754h0M1613 1803h0M2202 1387h0M1569 1439h0M2108 1809h0M1555 925h0M1659 1565h0M1106 392h0M1359 1280h0M715 925h0M2178 1275h0M1045 1342h0M998 2045h0M1521 1961h0M1524 1052h0M901 1100h0M2029 1337h0M1885 424h0M2074 1327h0M704 1030h0M970 1739h0M1091 1619h0M892 1045h0M1152 1383h0M2092 1079h0M2021 404h0M1446 1522h0M881 575h0M1617 640h0M2102 1444h0M793 632h0M1178 1482h0M1575 454h0M1225 479h0M2056 1606h0M1971 786h0M1906 1316h0M1674 1151h0M863 800h0M2141 1418h0M826 547h0M1312 536h0M1200 594h0M736 1198h0M1356 392h0M722 1260h0M2087 1773h0M951 1643h0M1863 1210h0M1572 2031h0M2076 1571h0M1181 1790h0M779 1351h0M1271 497h0M1882 2024h0M704 599h0M2097 451h0M1615 1233h0M1086 1583h0M874 420h0M1665 1768h0M1190 1000h0M1666 1840h0M1575 1815h0M2157 592h0M1964 953h0M1233 1628h0M1871 766h0M1430 981h0M2183 781h0M2044 427h0M1627 1461h0M1354 1783h0M1713 1538h0M1796 1275h0M1622 1936h0M2040 789h0M2190 1521h0M1796 1959h0M1018 640h0M1459 613h0M2164 1736h0M2120 416h0M742 1473h0M1161 1519h0M1391 545h0M1381 1294h0M1605 932h0M936 781h0M1850 779h0M1636 471h0M2095 1131h0M1515 1651h0M1388 1869h0M1207 1424h0M1860 963h0M1191 1634h0M1667 1908h0M1693 998h0M691 1389h0M1170 1699h0M2179 382h0M1778 1357h0M1749 2022h0M727 1689h0M1381 942h0M1828 1749h0M874 1165h0M689 430h0M866 931h0M1825 1592h0M1597 1137h0M875 1176h0M1037 629h0M1348 638h0M1279 383h0M794 1371h0M1546 1120h0M836 1515h0M1565 444h0M1689 1482h0M1287 1706h0M1713 928h0M1604 1823h0M1583 1110h0M1158 1131h0M2093 1098h0M1945 1845h0M922 479h0M1934 849h0M703 717h0M827 990h0M2007 956h0M1104 1008h0M2042 761h0M1283 1790h0M927 918h0M1940 438h0M1381 1393h0M1383 1461h0M1760 652h0M1688 1981h0M1295 639h0M1900 853h0M1751 1712h0M1998 1212h0M1667 950h0M1665 1074h0M2168 1307h0M2201 768h0M2026 1536h0M1281 1630h0M1166 490h0M1537 789h0M935 1520h0M1107 1564h0M2135 505h0M874 1530h0M1266 1150h0M1260 783h0M1674 546h0M1898 1773h0M1652 1211h0M1121 2021h0M1363 805h0M1502 1088h0M1280 1203h0M1860 1000h0M1948 1863h0M1778 571h0M977 1882h0M1980 1951h0M1131 1731h0M832 1286h0M886 683h0M1861 785h0M1160 1102h0M2062 816h0M1849 1080h0M1218 514h0M2195 1968h0M1915 1533h0M1998 535h0M1170 1164h0M1087 1357h0M1081 1733h0M1132 1477h0M1074 1049h0M1889 576h0M805 1359h0M1708 1191h0M1939 959h0M2214 653h0M1875 1391h0M2109 1782h0M1749 1334h0M1981 1433h0M1386 1488h0M2084 1447h0M2014 1816h0M1550 787h0M1261 571h0M1206 877h0M1642 940h0M1013 1521h0M1541 998h0M931 566h0M1717 424h0M1642 1079h0M1767 1385h0M2200 1684h0M952 1443h0M1299 583h0M966 1025h0M2024 921h0M802 752h0M1720 435h0M1974 1755h0M1330 1696h0M910 1432h0M774 1709h0M1057 1678h0M1274 1424h0M1098 1795h0M681 566h0M1105 1451h0M2050 912h0M2171 1381h0M748 608h0M1068 1528h0M2188 1802h0M771 758h0M1535 412h0M1838 1855h0M1725 1128h0M1740 749h0M1753 1846h0M1931 1624h0M2022 1120h0M1803 1060h0M2207 2030h0M1054 921h0M1340 1777h0M1653 720h0M963 399h0M1040 1917h0M1382 1262h0M1213 888h0M1998 1492h0M1697 736h0M1400 1482h0M2097 587h0M1967 1085h0M1983 794h0M2086 1622h0M724 1665h0M1416 1154h0M1914 1629h0M790 1613h0M1083 1306h0M2016 1826h0M810 873h0M1594 2007h0M1720 596h0M911 1023h0M1336 1889h0M1451 1077h0M1288 434h0M1779 1179h0M2189 1644h0M1726 1884h0M1363 1371h0M2042 1864h0M1714 1399h0M1263 377h0M1548 412h0M1092 1315h0M756 677h0M1098 1493h0M1887 1465h0M2081 1143h0M2077 734h0M1046 1493h0M1257 1459h0M1895 1421h0M2044 2029h0M909 385h0M841 1223h0M1534 1020h0M1326 688h0M1020 615h0M844 1342h0M758 790h0M2026 923h0M1896 1025h0M1776 713h0M1440 1461h0M968 505h0M2030 731h0M677 682h0M808 667h0M935 974h0M820 1022h0M1350 1836h0M1733 1449h0M1471 1342h0M1572 1635h0M846 1447h0M919 834h0M1942 548h0M1463 1935h0M1882 533h0M2045 1496h0M1395 1386h0M1448 840h0M1048 1466h0M1050 1269h0M1128 1799h0M1686 583h0M2189 649h0M1786 1042h0M811 1501h0M1682 1884h0M955 825h0M1563 1793h0M1792 1297h0M2025 1947h0M1399 1035h0M1359 1403h0M865 2015h0M1329 1381h0M944 840h0M828 1374h0M1704 824h0M1429 1195h0M884 1976h0M1816 2020h0M774 1148h0M852 1151h0M1241 1234h0M1754 1046h0M1614 2026h0M1429 567h0M1970 846h0M2196 2013h0M2135 1559h0M1405 418h0M839 1305h0M2084 477h0M1915 1757h0M1109 1551h0M1352 420h0M2122 523h0M1209 1943h0M716 627h0M1877 802h0M789 1789h0M684 1233h0M2186 1335h0M724 1832h0M982 1889h0M1393 401h0M1104 1108h0M2214 1083h0M2145 864h0M1965 806h0M2076 374h0M1323 719h0M723 1536h0M748 1352h0M1481 484h0M1565 909h0M1622 1892h0M1154 847h0M1706 1923h0M1472 1758h0M1625 949h0M1843 685h0M730 1784h0M1284 1026h0M1692 1435h0M1679 1792h0M1497 1503h0M1214 1922h0M2059 1964h0M914 1929h0M759 1486h0M1373 1297h0M703 398h0M1953 1845h0M779 1341h0M1193 1339h0M1484 849h0M1272 708h0M1462 834h0M1418 1659h0M1090 1996h0M1522 601h0M1715 1512h0M772 1975h0M1211 1780h0M863 1243h0M1689 1524h0M935 1277h0M1848 1746h0M1146 1438h0M1466 1448h0M1423 1052h0M1689 887h0M2012 1110h0M890 1883h0M1752 1133h0M1607 1253h0M1952 1727h0M1257 835h0M2023 1902h0M1447 1727h0M1871 1431h0M765 1567h0M1240 1968h0M946 1782h0M1301 1369h0M1654 1797h0M1300 1342h0M1140 2020h0M1313 1399h0M1404 904h0M1275 857h0M1194 911h0M2062 1392h0M1730 705h0M1489 563h0M773 1953h0M1256 766h0M1886 908h0M1432 994h0M1038 1417h0M2163 867h0M1488 1348h0M1678 1823h0M1521 841h0M1913 1741h0M2200 1203h0M990 621h0M2107 969h0M1761 1788h0M761 546h0M944 1619h0M2130 451h0M1974 419h0M2209 1473h0M1992 435h0M1367 1641h0M1102 1500h0M1143 407h0M1713 1687h0M904 519h0M2156 1494h0M751 1225h0M2195 875h0M1471 467h0M1799 415h0M1358 404h0M1982 1968h0M1437 407h0M1811 685h0M1138 1904h0M1653 996h0M1759 1415h0M1012 1362h0M1921 1538h0M1558 1868h0M1758 1330h0M1043 422h0M2179 874h0M1918 1347h0M1178 735h0M2097 1744h0M2018 964h0M1102 1329h0M1218 664h0M2020 1180h0M711 1114h0M1051 679h0M950 1101h0M1184 684h0M1280 633h0M1028 783h0M1744 1185h0M688 1010h0M1830 1424h0M784 983h0M2099 1594h0M1319 2011h0M899 714h0M1576 1209h0M1218 743h0M1260 714h0M694 1234h0M1025 496h0M1619 930h0M1260 497h0M1354 1593h0M1771 1524h0M1326 1967h0M942 475h0M2131 1874h0M776 948h0M1907 1061h0M1687 1017h0M833 1622h0M879 901h0M1266 573h0M1431 2037h0M968 1678h0M1247 1500h0M2055 920h0M2066 1414h0M2031 895h0M1809 475h0M752 1787h0M1579 1227h0M1270 1158h0M1469 1000h0M763 1649h0M1843 1774h0M2016 1991h0M1516 577h0M1678 1687h0M1852 1050h0M1834 1952h0M1522 971h0M1801 1971h0M1797 1003h0M850 1787h0M1731 651h0M1033 809h0M1184 1980h0M1798 1119h0M709 996h0M1383 1292h0M1355 409h0M1342 1663h0M907 1594h0M1060 1137h0M1256 1189h0M1353 1715h0M1423 1829h0M986 1576h0M1446 408h0M871 737h0M1078 645h0M1126 1403h0M1858 723h0M1457 727h0M994 558h0M1215 1691h0M1192 974h0M1512 1969h0M1284 950h0M1834 612h0M1447 742h0M1723 1460h0M1565 1471h0M1930 1436h0M1216 987h0M1529 1992h0M776 1468h0M1075 1463h0M1997 1543h0M1571 1651h0"/></g><path id="as" d="M1520 698h0M1627 681h0M1732 1188h0M1063 1347h0M1323 1422h0M1459 934h0M1372 1451h0M814 1437h0M1047 575h0M1838 1390h0M1638 1159h0M1260 957h0M1711 617h0M1613 546h0M975 1738h0M1097 1224h0M1665 1012h0M1623 1605h0M1946 1300h0M1457 972h0M1658 512h0M1923 1093h0M1871 1540h0M2062 1104h0M1799 662h0M1074 1708h0M1991 975h0M1256 1306h0M972 889h0M1529 535h0M1176 655h0M1403 1566h0M1452 1650h0M939 856h0M1799 1080h0M1761 1534h0M1849 573h0M1801 1659h0M1935 1028h0M1364 614h0M1538 837h0M1985 815h0M1222 1245h0M1031 1752h0M1650 1782h0M1686 1094h0M969 750h0M1547 1069h0M1409 1917h0M1573 676h0M1630 1441h0M1245 1431h0M1032 1494h0M1527 967h0M1403 1024h0M1852 789h0M1642 1255h0M1197 1047h0M987 1711h0M1129 599h0M1114 613h0M1405 661h0M1940 1000h0M1048 565h0M1862 1232h0M1707 924h0M1017 1630h0M732 1218h0M866 931h0M1076 1129h0M1231 1240h0M2031 1515h0M847 1169h0M1343 1598h0M1885 1220h0M1342 1690h0M1467 1441h0M1096 1372h0M1602 1051h0M1605 781h0M2043 1495h0M1374 1857h0M1089 1352h0M1742 1110h0M1460 1463h0M1363 942h0M1270 1335h0M1158 1131h0M950 746h0M786 1271h0M1953 1564h0M1312 1452h0M1296 1240h0M1644 725h0M1070 1197h0M1728 1119h0M934 1555h0M1659 1473h0M1280 1429h0M1249 1499h0M1016 1664h0M1790 993h0M1574 569h0M1479 1173h0M856 1347h0M1485 1460h0M794 1371h0M1801 901h0M1129 919h0M759 1338h0M1470 803h0M1028 1321h0M1603 1736h0M1262 1845h0M1598 1849h0M1733 841h0M1194 1668h0M1051 1177h0M1530 1855h0M1936 773h0M890 855h0M1572 1726h0M1029 1636h0M1691 1736h0M781 1174h0M1098 1493h0M1409 1675h0M1889 1682h0M1226 667h0M1754 1500h0M1044 1197h0M1425 1254h0M1634 1786h0M1699 1219h0M1283 1029h0M1710 823h0M1873 907h0M1676 785h0M1126 1630h0M1617 1269h0M1384 1099h0M1952 1198h0M1815 590h0M1130 1885h0M1216 1233h0M1170 1647h0M1527 673h0M1654 1051h0M1500 1881h0M856 1259h0M858 952h0M1597 1509h0M1384 1253h0M1752 1230h0M1914 726h0M1045 1289h0M1990 824h0M1109 879h0M2034 1039h0M1882 1161h0M1166 1408h0M807 1185h0M1133 1430h0M1687 822h0M1716 1565h0M1846 836h0M965 728h0M1247 1441h0M1897 873h0M1132 789h0M1066 1566h0M1658 1267h0M936 1346h0M1946 1698h0M1242 1459h0M1985 825h0M1734 1845h0M1490 1287h0M1578 1308h0M1798 1119h0M1854 766h0M1061 583h0M1515 1244h0M1913 1525h0M1069 1523h0M1613 610h0M1267 1262h0M1087 1519h0M1914 1590h0M1417 1799h0M1091 735h0M1543 944h0M1939 883h0M1275 1661h0M1509 544h0M1763 1020h0M1558 1628h0M1614 1773h0M1953 1074h0M1863 1210h0M1149 1261h0M1887 1178h0M1748 1408h0M1972 1516h0M1656 745h0M1792 1297h0M1918 1347h0M1320 1389h0M1619 1604h0M1082 643h0M1916 1320h0M1122 1066h0M1575 1926h0M1834 910h0M1922 1625h0M1488 1827h0M1464 1435h0M1234 1159h0M1689 1301h0M1796 1117h0M1611 1342h0M1161 1624h0M1805 660h0M1510 561h0M1614 1794h0M1565 1186h0M1460 584h0M1352 1610h0M2101 1267h0M1206 569h0M1486 1101h0M2002 1253h0M1457 727h0M973 989h0M1835 764h0M2038 1070h0M1934 849h0M1310 1169h0M837 1314h0M1028 783h0M2135 1099h0M1628 1253h0M1641 1384h0M1958 862h0M1998 1492h0M1284 1034h0M1569 1293h0M1825 911h0M1126 1017h0M1247 862h0M1911 1694h0M945 969h0M999 1783h0M1683 1487h0M971 1160h0M1446 851h0M1215 730h0M1136 877h0M1493 1448h0M1048 1466h0M1408 1234h0M1225 850h0M1075 1402h0M1330 1696h0M2123 1270h0M1572 793h0M1472 511h0M1532 629h0M1023 717h0M1635 901h0M1208 1619h0M1653 1098h0M1617 1738h0M2030 1321h0M1590 1848h0M1635 1220h0M1117 1903h0M1779 1179h0M1882 1509h0M2011 1153h0M1155 1651h0M1320 1330h0M2057 1448h0M1082 1811h0M1267 749h0M1091 648h0M1080 1223h0M1091 1020h0M915 1192h0M1751 931h0M1354 1214h0M1815 1188h0M1282 1822h0M1539 1336h0M1255 1349h0M1465 1270h0M974 758h0M1347 1345h0M1217 891h0M1597 1434h0M1366 932h0M1893 1479h0M1456 1113h0M1334 841h0M1690 852h0M1826 1458h0M1724 815h0M778 1106h0M1819 1892h0M1435 1450h0M1214 700h0M882 1552h0M781 1337h0M1412 858h0M1954 937h0M1928 970h0M1388 1187h0M1402 1753h0M1853 1816h0M962 811h0M1338 533h0M1413 1377h0M1165 838h0M2029 1337h0M1604 735h0M1151 823h0M959 1364h0M1000 1164h0M1144 1101h0M1487 1650h0M1238 571h0M1825 528h0M1485 568h0M1215 525h0M1416 753h0M1452 967h0M1218 514h0M1523 804h0M950 1101h0M1536 944h0M1195 945h0M905 1018h0M1935 891h0M1340 808h0M1954 1676h0M1763 643h0M1198 1781h0M1060 1711h0M1130 1319h0M1811 893h0M1891 629h0M1002 845h0M1771 1523h0M1886 1212h0M2029 1458h0M943 1460h0M1143 1254h0M1939 1577h0M1471 1342h0M1223 583h0M1451 1315h0M1993 934h0M1978 1282h0M1544 1311h0M1619 961h0M1439 1838h0M1265 637h0M1481 495h0M1541 1868h0M1982 1590h0M1686 583h0M1731 1367h0M1075 556h0M887 1346h0M2047 1078h0M1374 550h0M1301 540h0M1025 844h0M1215 796h0M1079 750h0M1319 1005h0M867 1001h0M1710 949h0M1731 1005h0M1241 1069h0M1136 687h0M1089 1301h0M1845 589h0M1089 619h0M1399 746h0M1170 1555h0M1898 828h0M1375 1602h0M990 1740h0M1202 704h0M1762 995h0M1716 1296h0M1108 649h0M1916 1638h0M1222 839h0M1740 749h0M1038 747h0M1767 666h0M1073 569h0M1691 985h0M1696 1227h0M1388 681h0M1370 920h0M1861 614h0M1917 1530h0M987 1777h0M1666 899h0M1073 517h0M1987 1169h0M797 1051h0M1812 1578h0M1684 1663h0M926 921h0M940 1336h0M909 844h0M1920 1352h0M1923 1492h0M2143 1115h0M1135 1043h0M1796 1380h0M1359 1403h0M1352 1060h0M1782 1098h0M1280 1527h0M1180 1402h0M736 1225h0M1924 709h0M1142 639h0M1706 1100h0M1419 1188h0M1123 1105h0M1756 1898h0M1292 1466h0M1013 1521h0M1714 1840h0M1499 1394h0M1479 948h0M1775 894h0M1693 907h0M1333 705h0M991 1441h0M1097 1488h0M1597 1137h0M1883 887h0M1340 1356h0M1205 1391h0M1038 1417h0M1460 1094h0M1694 1925h0M1664 810h0M779 1351h0M740 1149h0M1162 1406h0M2033 1368h0M1732 1606h0M1315 1648h0M1632 688h0M1024 1789h0M791 1057h0M1284 1618h0M1293 1398h0M1818 1267h0M1942 810h0M1391 545h0M1686 1524h0M1886 908h0M1547 1177h0M1268 532h0M800 1137h0M1802 940h0M1979 1475h0M1701 1716h0M882 1505h0M856 954h0M1119 1828h0M1070 1692h0M1365 1398h0M1592 1733h0M1255 678h0M959 867h0M1745 1537h0M1694 786h0M1320 1868h0M1505 1198h0M1275 1822h0M963 1412h0M1371 1184h0M1376 1783h0M1750 1638h0M1671 1443h0M1509 1295h0M1198 661h0M1222 795h0M1776 703h0M950 720h0M2085 1270h0M1141 1683h0M1881 1398h0M1191 1634h0M1605 1483h0M1600 1235h0M1852 1294h0M1968 816h0M1959 1606h0M1771 1261h0M1993 1307h0M959 1001h0M1730 705h0M2079 1136h0M1262 978h0M984 654h0M1337 1926h0M1046 1493h0M1945 1188h0M1048 1128h0M1742 1197h0M1468 1669h0M1103 1504h0M1605 557h0M1382 1597h0M1525 1483h0M1122 1850h0M1239 1613h0M1020 615h0M1746 1541h0M1548 1459h0M977 1008h0M1664 1700h0M1050 1269h0M1736 938h0M1610 496h0M1713 1687h0M900 1321h0M1520 1009h0M1624 1376h0M1417 1698h0M826 1453h0M1005 1478h0M1875 1402h0M1186 1791h0M1125 730h0M841 1223h0M1318 744h0M1687 569h0M1841 1856h0M1819 840h0M1471 1173h0M1338 1092h0M820 972h0M1643 1486h0M1603 1094h0M1057 633h0M981 1735h0M1209 1302h0M1359 1543h0M1149 921h0M1322 1844h0M1974 895h0M994 1095h0M2008 897h0M1542 1421h0M1395 965h0M1007 1371h0M1042 1140h0M1900 853h0M1046 1721h0M1659 555h0M1213 1595h0M1548 1245h0M1265 1021h0M1944 1533h0M1456 1148h0M1415 625h0M1022 735h0M923 1197h0M829 1367h0M1778 1022h0M1288 533h0M791 1312h0M1071 818h0M1826 1352h0M1504 1643h0M1649 941h0M877 1545h0M1408 1148h0M2023 886h0M1878 1068h0M1442 1215h0M1341 1230h0M1013 720h0M1689 1199h0M1051 679h0M1281 679h0M1399 1669h0M893 1080h0M1746 530h0M994 1535h0M1651 1119h0M1312 1230h0M1248 1791h0M1436 1423h0M1677 1677h0M818 1048h0M1368 1328h0M1767 1042h0M1273 552h0M1786 1759h0M1682 1584h0M1890 1792h0M1840 1151h0M1396 1738h0M1287 1706h0M1054 942h0M1212 1857h0M1860 963h0M997 1415h0M1763 1882h0M1773 976h0M1433 1029h0M1682 1686h0M1002 693h0M1435 512h0M1122 904h0M1018 930h0M1333 1441h0M1760 1584h0M964 1506h0M1454 1180h0M1583 990h0M763 1333h0M1543 726h0M1864 1050h0M1380 1558h0M1860 1315h0M1333 901h0M837 1419h0M1322 1865h0M1602 1791h0M1732 1764h0M1339 1888h0M1605 857h0M1218 1783h0M902 1472h0M1154 569h0M1147 1727h0M1285 738h0M1395 1677h0M1853 797h0M1575 1324h0M1981 1586h0M1307 1717h0M1154 1915h0M1150 510h0M1239 796h0M1020 847h0M817 1114h0M1038 800h0M1597 525h0M1442 1657h0M1309 1638h0M1067 1464h0M1578 1861h0M2037 1071h0M1624 618h0M1000 1648h0M1616 1832h0M968 1271h0M1872 1477h0M1400 843h0M1996 1462h0M984 1478h0M1858 1403h0M1393 680h0M1219 1870h0M1286 1884h0M900 1230h0M1406 794h0M1412 1661h0M1403 942h0M993 1684h0M1952 1202h0M1306 1573h0M1842 593h0M1821 980h0M1178 1027h0M1666 1840h0M1843 984h0M1422 1783h0M1550 1332h0M1271 1726h0M1999 1019h0M1015 615h0M1547 980h0M1630 892h0M1464 1713h0M1342 1800h0M1711 1184h0M1940 954h0M1326 870h0M1000 1256h0M1579 1623h0M1772 934h0M1802 1035h0M942 1502h0M1339 932h0M1668 1687h0M1207 697h0M903 1416h0M1477 672h0M1414 655h0M1436 1124h0M2011 1477h0M1745 1698h0M1292 542h0M2121 1218h0M1495 1437h0M1636 520h0M1651 1349h0M1525 1800h0M1439 1300h0M843 1289h0M1748 896h0M1237 1654h0M1647 1474h0M1779 1803h0M1550 540h0M1749 1334h0M1655 974h0M1254 1374h0M1523 1802h0M1753 1862h0M1035 1733h0M1807 741h0M936 865h0M2007 1221h0M1312 1133h0M869 1321h0M886 1445h0M2071 1436h0M1204 1240h0M1793 965h0M1208 1609h0M2078 1118h0M1118 1297h0M1048 1580h0M1949 1295h0M951 1643h0M1809 552h0M1678 1686h0M2097 1208h0M1658 1065h0M1415 1700h0M1173 871h0M1572 1523h0M1839 1133h0M1111 1650h0M1266 1370h0M1881 1293h0M2075 1414h0M1115 773h0M2064 1362h0M1876 1233h0M849 1436h0M1057 1805h0M1262 1421h0M1579 1311h0M900 1288h0M1861 1328h0M1021 1455h0M1696 1445h0M1587 1024h0M1416 1183h0M1259 1693h0M1447 1727h0M2012 878h0M1951 1550h0M1541 1739h0M1775 1753h0M1075 1463h0M1639 1265h0M1966 842h0M1930 1236h0M845 1343h0M908 1398h0M870 1371h0M1465 1115h0M1865 1513h0M1743 913h0M1718 1545h0M1734 548h0M1532 1321h0M1193 1319h0M1326 869h0M1516 1124h0M995 1620h0M1445 1334h0M2043 969h0M1568 1517h0M1324 1582h0M1907 1574h0M1744 1826h0M846 1447h0M714 1234h0M1461 920h0M1001 1583h0M1684 615h0M775 1135h0M1663 1760h0M1898 1536h0M1672 1293h0M1204 576h0M937 804h0M1312 536h0M1500 766h0M1403 1849h0M1049 865h0M1727 717h0M1277 1495h0M1116 1920h0M1057 968h0M926 1494h0M1505 1156h0M1816 1198h0M789 1271h0M1908 1544h0M1490 597h0M1021 1148h0M1329 1381h0M1782 1540h0M1513 1227h0M1539 601h0M1620 1605h0M1590 599h0M929 1645h0M1096 1856h0M1285 782h0M2007 957h0M1850 779h0M1647 1580h0M1643 1036h0M1550 1458h0M1893 1710h0M1214 538h0M1889 1196h0M857 1417h0M991 1769h0M1408 861h0M942 1373h0M1817 1190h0M1540 1633h0M1192 1779h0M1878 1554h0M1828 1749h0M722 1260h0M1030 946h0M973 1498h0M1144 1049h0M977 868h0M1248 1493h0M1328 1787h0M1670 1491h0M1565 1272h0M863 1502h0M1830 965h0M1020 1814h0M1332 743h0M1511 1851h0M1885 1746h0M977 1406h0M1185 1063h0M1078 645h0M1100 1639h0M1904 1615h0M1336 1923h0M1689 1511h0M1439 1741h0M1456 923h0M743 1243h0M1793 1315h0M1733 1294h0M1260 1513h0M1056 1633h0M1362 836h0M1370 1509h0M862 1467h0M1451 1273h0M880 1536h0M1491 1833h0M1528 1331h0M1064 591h0M1148 1575h0M1679 1339h0M774 1148h0M1712 1503h0M1293 1712h0M1111 659h0M1195 1923h0M1410 1877h0M1151 770h0M1548 621h0M869 1059h0M1137 1715h0M1086 1583h0M882 1140h0M1082 586h0M1878 1230h0M1298 1407h0M1554 872h0M1765 1805h0M1336 743h0M1514 778h0M1152 537h0M1527 865h0M1449 973h0M1847 1366h0M1253 1277h0M1636 1873h0M1696 1108h0M1111 1892h0M1419 1097h0M1725 1310h0M992 835h0M1403 1124h0M1031 957h0M1400 1745h0M1713 1538h0M1149 983h0M1358 1676h0M1086 611h0M1381 1256h0M1182 1322h0M1386 1136h0M1270 1209h0M1172 1706h0M1539 1802h0M1503 1179h0M1220 681h0M1653 1828h0M1216 987h0M1510 1666h0M2012 1110h0M1501 662h0M1674 500h0M1658 1692h0M1426 812h0M1257 835h0M1375 969h0M980 710h0M873 1032h0M1592 1710h0M1691 1697h0M1990 956h0M1723 1460h0M1532 1630h0M1847 1192h0M1833 1291h0M1264 1743h0M1383 825h0M1527 1456h0M1661 1326h0M1630 961h0M1470 1672h0M1418 1213h0M1559 1831h0M1104 1412h0M1463 605h0M1294 1805h0M1007 1678h0M1168 1917h0M1871 766h0M1722 527h0M1827 1901h0M1208 1363h0M1949 941h0M1355 539h0M1293 539h0M1558 1149h0M1822 1097h0M1821 632h0M1672 619h0M1572 1635h0M1825 1089h0M1819 769h0M876 1177h0M1115 1530h0M1778 1822h0M1299 1753h0M1973 1220h0M1431 1881h0M1220 1701h0M1735 694h0M1587 995h0M1093 851h0M1129 787h0M1594 1112h0M2046 1330h0M1258 1078h0M1656 1906h0M1228 1519h0M1151 572h0M1220 808h0M1437 652h0M1502 780h0M1509 1362h0M1080 1307h0M1433 1846h0M1335 1300h0M1600 1917h0M1791 617h0M1263 941h0M1482 1702h0M1051 558h0M932 1534h0M1656 1914h0M1633 903h0M1700 1398h0M877 1204h0M1322 1796h0M994 1629h0M1250 637h0M1940 1583h0M1788 1288h0M1540 968h0M1014 1735h0M998 1585h0M1763 1113h0M1326 1182h0M1502 1471h0M1033 809h0M1836 1020h0M1111 890h0M1284 817h0M1027 1161h0M1855 666h0M1277 729h0M1915 962h0M1032 1215h0M1236 1793h0M1679 1609h0M1848 627h0M1718 1120h0M1837 849h0M1072 1014h0M2064 1048h0M1948 1443h0M1981 1087h0M1499 508h0M1416 1250h0M1337 1776h0M1204 1790h0M970 926h0M1515 1287h0M1005 645h0M995 752h0M1252 893h0M888 1142h0M1232 1602h0M868 936h0M1486 906h0M1933 919h0M1965 1452h0M1367 1618h0M1623 1002h0M2019 965h0M1671 515h0M1271 1045h0M1367 1849h0M1739 1102h0M1617 1179h0M903 1186h0M1712 1899h0M1146 532h0M1453 620h0M993 1211h0M1732 1122h0M829 1473h0M1548 1027h0M1488 532h0M1683 569h0M1865 1244h0M1825 1847h0M1301 1451h0M1260 497h0M1930 1436h0M1563 1553h0M1465 1214h0M1653 720h0M1693 705h0M1115 1848h0M954 1645h0M1979 1367h0M1548 1561h0M2095 1050h0M1727 1404h0M1553 1051h0M1000 937h0M1353 1372h0M1255 1546h0M1795 793h0M1908 1452h0M1008 1109h0M933 846h0M1224 1047h0M1660 1691h0M923 854h0M2011 1563h0M1840 1741h0M1663 1838h0M1929 1466h0M1330 1175h0M995 1387h0M1628 1592h0M1515 1651h0M1722 553h0M873 926h0M985 1703h0M1035 1077h0M1621 1336h0M1363 1371h0M2040 1127h0M1148 1283h0M1834 1218h0M1024 1579h0M1376 1073h0M1083 1016h0M1820 775h0M933 1518h0M1058 833h0M1143 1729h0M1511 769h0M1462 1024h0M1719 1176h0M1418 1458h0M1124 1341h0M1676 941h0M715 1227h0M1514 927h0M1059 987h0M1142 1745h0M970 1739h0M1452 1024h0M1757 1633h0M1706 1537h0M1635 548h0M1654 1675h0M776 1343h0M2134 1096h0M1833 1771h0M1820 1228h0M1733 1381h0M1621 1086h0M1300 658h0M1554 846h0M920 1469h0M1242 1635h0M1672 567h0M1320 1328h0M1247 1358h0M1035 649h0M1919 1614h0M1166 859h0M938 1339h0M1982 1398h0M1073 1652h0M1882 1689h0M1753 1536h0M2032 1359h0M1381 1393h0M801 1106h0M1170 1877h0M1661 657h0M1174 1494h0M1363 805h0M1292 1120h0M1760 652h0M1156 1844h0M1723 1689h0M1291 1496h0M1285 1231h0M1722 832h0M1199 772h0M1624 1806h0M1471 1058h0M1502 1553h0M1002 1727h0M1826 1030h0M1501 842h0M1041 1139h0M1596 892h0M1232 1188h0M1253 1320h0M1335 1550h0M1664 725h0M1503 816h0M1353 540h0M1165 1615h0M1337 1891h0M1729 1372h0M1355 1762h0M2124 1095h0M1391 1111h0M1483 1215h0M1092 1315h0M899 1578h0M982 1486h0M1191 628h0M1359 717h0M1397 1763h0M1665 1074h0M1195 674h0M1652 919h0M1168 1464h0M1144 828h0M2094 1306h0M1355 1613h0M1322 1555h0M1693 633h0M1074 830h0M1136 1674h0M1447 742h0M1523 592h0M894 1150h0M1584 1365h0M1692 1598h0M1154 847h0M1565 1459h0M1151 1712h0M1276 1568h0M1298 1566h0M1778 947h0M886 1003h0M875 1218h0M1278 1738h0M1513 810h0M1696 647h0M2040 1217h0M1017 1423h0M1543 629h0M2125 1081h0M1642 1318h0M1133 1256h0M1177 1899h0M1275 1064h0M1155 762h0M1656 1759h0M1466 913h0M1303 1215h0M1392 983h0M1044 1185h0M1974 1093h0M1638 1135h0M1689 1826h0M1529 667h0M1083 727h0M1950 1584h0M1512 1297h0M2024 921h0M1730 1344h0M1181 920h0M1204 1198h0M1837 1100h0M1839 1254h0M1458 1370h0M1356 770h0M900 957h0M1540 940h0M823 1340h0M1732 1691h0M1731 784h0M1619 776h0M1719 1553h0M2097 1129h0M1620 519h0M1117 806h0M1167 1654h0M1110 1588h0M1402 596h0M1564 1080h0M1823 860h0M1228 1674h0M1246 930h0M1015 752h0M1504 1436h0M789 1261h0M1607 682h0M1604 647h0M1645 552h0M1309 1495h0M1829 1722h0M954 1317h0M1960 894h0M1927 718h0M1466 589h0M1440 891h0M824 1203h0M1936 1254h0M1821 883h0M1573 859h0M1576 575h0M1495 691h0M1349 1380h0M1560 1713h0M1677 834h0M1754 1838h0M2085 1037h0M1822 1210h0M893 1427h0M936 781h0M1912 1434h0M1274 1424h0M1466 1409h0M1636 1380h0M914 806h0M910 1336h0M1215 1173h0M1845 1550h0M1750 728h0M1681 1062h0M1114 1755h0M2012 907h0M1475 1691h0M1634 1605h0M1303 1019h0M1294 572h0M1356 1207h0M1834 1711h0M1627 1461h0M1642 1724h0M1561 1631h0M1831 1791h0M1556 1139h0M1313 1399h0M802 1316h0M1350 1836h0M1114 1234h0M1241 1845h0M1439 577h0M1398 1556h0M897 984h0M1086 1293h0M2022 1120h0M1718 611h0M1684 1685h0M2027 1086h0M2057 1082h0M1698 713h0M2059 1027h0M1757 1829h0M1494 799h0M1527 1142h0M1704 1494h0M1538 1362h0M1963 1057h0M1552 741h0M1151 1088h0M1475 1241h0M862 1267h0M1230 1162h0M1720 596h0M1064 1794h0M1549 1345h0M1848 1283h0M834 1284h0M1140 640h0M1473 1238h0M1052 967h0M1251 1456h0M983 979h0M1751 1712h0M2134 1269h0M1785 1914h0M1646 1610h0M1472 717h0M1759 963h0M1392 1628h0M1620 971h0M1709 1327h0M1061 711h0M971 722h0M2020 1180h0M1528 1797h0M1923 1206h0M1651 1576h0M1908 1052h0M1049 1176h0M1394 1188h0M1278 1540h0M1760 1272h0M1824 1565h0M1290 510h0M1765 994h0M1366 1245h0M1111 717h0M1745 802h0M1650 526h0M1620 1097h0M1403 651h0M1056 921h0M1044 1598h0M1911 785h0M1169 1088h0M2068 1082h0M1169 1584h0M1098 1088h0M2073 1103h0M1812 1100h0M1321 1480h0M1575 735h0M1392 1778h0M1540 764h0M1731 1075h0M1118 1365h0M1182 1822h0M1979 1221h0M909 1134h0M1350 1554h0M1270 1524h0M1522 923h0M1550 1459h0M1014 1165h0M1975 961h0M1208 1090h0M1247 1066h0M1868 1740h0M1018 800h0M1400 747h0M1232 1240h0M1695 594h0M1108 1172h0M1554 983h0M1275 1635h0M2029 1026h0M1209 1159h0M1418 1035h0M1082 1699h0M1200 1348h0M2023 1189h0M1998 945h0M1583 1919h0M911 1518h0M1720 1124h0M1486 633h0M1590 761h0M1351 592h0M1751 1369h0M1010 1681h0M2120 1152h0M1790 1569h0M1795 1915h0M1784 1073h0M1860 1343h0M1642 1079h0M1471 1812h0M1304 1581h0M1455 1096h0M1020 1353h0M1211 1449h0M1469 1303h0M1373 947h0M1096 1500h0M1290 575h0M1903 867h0M1682 1884h0M985 793h0M1812 1400h0M1131 1731h0M1257 582h0M1215 1708h0M898 1498h0M1871 593h0M970 1185h0M1734 923h0M1197 1182h0M1760 1690h0M1936 1041h0M1232 1896h0M1340 1785h0M1522 672h0M1439 1055h0M1800 1523h0M1016 1592h0M1771 1524h0M2069 1320h0M1594 1542h0M1070 606h0M1536 692h0M2157 1193h0M1358 986h0M2129 1317h0M1351 740h0M1366 1750h0M1344 1587h0M1898 1773h0M960 1460h0M1488 794h0M1065 1475h0M1190 1497h0M1703 826h0M1512 717h0M981 1120h0M1189 1018h0M1767 587h0M1463 1120h0M1618 1315h0M961 1360h0M1293 1205h0M1993 845h0M1074 1405h0M1001 1109h0M800 1422h0M927 1371h0M894 1331h0M1250 552h0M1444 631h0M1378 1257h0M1676 1758h0M1812 1925h0M1497 1512h0M1397 1378h0M847 1027h0M1684 1556h0M1857 1647h0M1130 1284h0M1712 1011h0M1593 1609h0M2007 1043h0M2065 991h0M1239 1140h0M1338 1086h0M1219 1174h0M1914 1629h0M849 1071h0M1436 901h0M999 1529h0M1061 1324h0M1220 827h0M1903 1413h0M1664 1613h0M1070 872h0M1810 1761h0M1587 1838h0M1911 714h0M844 959h0M1514 1589h0M2073 1381h0M1773 660h0M1099 1670h0M1034 1172h0M1217 961h0M2022 1031h0M1763 692h0M1513 1690h0M2086 1291h0M2032 892h0M1446 1489h0M1193 727h0M1074 1049h0M1687 605h0M1188 1127h0M1181 1287h0M1089 574h0M751 1225h0M1433 1251h0M1692 1683h0M1018 1228h0M1634 1194h0M1540 826h0M1555 1909h0M1522 850h0M1737 1214h0M1741 780h0M887 1173h0M1595 1146h0M1565 528h0M1572 1499h0M1328 1126h0M1519 1320h0M1861 1249h0M2182 1189h0M1617 640h0M1310 830h0M1894 911h0M1233 1800h0M1751 1762h0M1558 1375h0M1569 1227h0M1163 1180h0M1756 1555h0M1285 1298h0M1518 1458h0M1900 1491h0M1324 1525h0M1822 1922h0M1368 1691h0M1565 1749h0M1259 1671h0M1465 1341h0M1708 1191h0M909 1489h0M1752 1133h0M882 1471h0M1154 1688h0M1537 1080h0M1394 1327h0M1863 1217h0M1597 929h0M1082 549h0M1375 1722h0M1555 498h0M1060 1137h0M781 1222h0M1964 1663h0M1124 1831h0M876 1367h0M1729 1571h0M1423 1178h0M1249 1333h0M1203 1306h0M880 974h0M1486 1644h0M1719 1205h0M1691 767h0M1049 820h0M1394 736h0M1679 1043h0M1290 1352h0M1839 1014h0M1387 1243h0M1985 1372h0M1074 1830h0M1125 1535h0M1667 884h0M1044 705h0M1178 817h0M1952 1534h0M1666 946h0M1294 1671h0M1668 1658h0M1183 1521h0M1347 1134h0M1763 1748h0M820 1022h0M1658 588h0M1615 1138h0M1071 1440h0M1586 1768h0M1787 1697h0M1461 1311h0M1707 913h0M2010 952h0M1117 506h0M1285 821h0M1776 713h0M1994 1178h0M1746 1680h0M1571 1651h0M1939 1211h0M1901 1333h0M1491 826h0M1256 685h0M1454 886h0M1298 1329h0M857 945h0M1917 1261h0M1674 1590h0M1174 1400h0M1974 1642h0M1938 1311h0M1613 1061h0M1337 542h0M1085 1779h0M1774 590h0M1169 626h0M1563 1793h0M1105 500h0M1833 763h0M1484 796h0M1063 583h0M1114 644h0M999 758h0M1196 586h0M1147 1274h0M1300 1350h0M1076 755h0M1417 616h0M1383 1461h0M1710 1211h0M1124 643h0M889 1008h0M1970 846h0M1612 1490h0M1137 621h0M1713 588h0M969 1184h0M845 1190h0M1408 1145h0M2067 1304h0M1398 1911h0M1422 1600h0M1616 1889h0M864 1338h0M2057 1003h0M2160 1160h0M1611 711h0M1500 1834h0M1640 597h0M933 1148h0M1142 1859h0M1432 1063h0M1525 1796h0M1875 1391h0M1512 1623h0M861 1276h0M1573 1127h0M1343 1675h0M1473 1322h0M1098 1178h0M1270 1339h0M1683 1037h0M1787 788h0M1641 687h0M1546 1120h0M1856 1318h0M1192 1916h0M1955 1192h0M1657 694h0M1489 871h0M1926 1236h0M1598 1693h0M1835 641h0M1443 1385h0M1112 1377h0M2088 1082h0M1757 1380h0M2048 974h0M1484 849h0M1136 1899h0M901 1100h0M1218 1530h0M1560 1806h0M1175 1119h0M1306 1054h0M1435 1234h0M1177 1645h0M1011 1747h0M1094 1686h0M1547 1565h0M1802 824h0M1279 1237h0M1151 1467h0M1655 1339h0M1149 1595h0M1180 1282h0M1869 1446h0M879 1526h0M1099 1643h0M1626 1822h0M1572 1343h0M1579 1801h0M1165 1768h0M1380 1423h0M868 1483h0M1084 831h0M1034 1229h0M2199 1209h0M1543 880h0M1592 1823h0M1004 1481h0M1732 1642h0M1424 1746h0M769 1106h0M1310 650h0M1933 1384h0M852 1151h0M1857 1796h0M1687 944h0M955 825h0M2056 1030h0M1246 1301h0M1049 1459h0M1634 1168h0M846 1247h0M1089 1836h0M1091 1062h0M1930 1413h0M1488 1348h0M1546 650h0M1691 1923h0M786 1103h0M1550 809h0M1616 1132h0M2008 1549h0M1843 1474h0M1985 1429h0M1182 1294h0M1375 1117h0M1569 1439h0M1377 652h0M1700 969h0M1204 1237h0M895 1167h0M1454 1230h0M1627 915h0M1203 594h0M916 924h0M1083 798h0M1580 889h0M1797 1825h0M1086 1444h0M1872 758h0M1365 1575h0M1267 822h0M1137 1816h0M1850 1509h0M722 1178h0M800 1157h0M1168 677h0M1314 564h0M839 1305h0M1715 1882h0M1611 604h0M1358 559h0M1781 757h0M2068 1125h0M1713 845h0M1830 1820h0M1865 847h0M1512 1482h0M1471 1397h0M909 879h0M905 1359h0M1816 1459h0M1046 1687h0M1943 836h0M1495 1533h0M1306 1550h0M1436 1865h0M1650 863h0M1849 1080h0M1251 1360h0M1011 896h0M1098 1036h0M849 1007h0M1462 834h0M1797 558h0M1003 1462h0M959 1475h0M1542 570h0M1132 1477h0M1749 799h0M2053 1491h0M1764 595h0M1358 1220h0M727 1171h0M1023 1430h0M965 1571h0M1585 931h0M1697 1114h0M2087 1365h0M1859 787h0M1030 1187h0M801 1258h0M886 1343h0M939 1579h0M724 1246h0M1343 1014h0M1657 702h0M1134 894h0M1357 1067h0M1161 604h0M899 1153h0M1195 1035h0M1555 1819h0M1664 1835h0M952 1453h0M1555 1442h0M1618 1770h0M1614 1123h0M1015 1308h0M896 833h0M1203 1479h0M1324 1883h0M993 1494h0M1641 1521h0M1782 817h0M1003 1025h0M1605 1001h0M1732 1676h0M1582 581h0M1823 1571h0M1903 1605h0M1619 1128h0M1178 1891h0M1350 1626h0M1486 555h0M1684 985h0M1187 991h0M1989 1444h0M1272 1528h0M979 1536h0M2148 1194h0M1854 1462h0M1576 1209h0M1497 711h0M1568 1915h0M1681 1466h0M1176 923h0M1978 1253h0M2182 1218h0M1342 1852h0M1040 1034h0M1910 1625h0M1609 960h0M1887 1647h0M2043 976h0M899 892h0M1391 1611h0M1044 1724h0M1764 1314h0M1621 1511h0M1868 1584h0M1659 1759h0M1087 1057h0M1650 786h0M831 1240h0M1920 1445h0M1075 1734h0M1167 1863h0M1052 1181h0M1769 1090h0M1156 1704h0M1964 1038h0M1759 1928h0M1659 1166h0M1027 1410h0M1169 1896h0M1872 1137h0M1159 505h0M937 1230h0M1287 1441h0M1599 1784h0M1978 1153h0M1146 616h0M2003 844h0M2080 1436h0M1454 552h0M1903 1412h0M1593 1413h0M1323 1187h0M1732 1535h0M1538 1357h0M1796 1301h0M1834 612h0M1661 1593h0M1734 1391h0M945 897h0M1424 822h0M1870 1738h0M1745 877h0M1359 1280h0M1598 1156h0M892 1045h0M1443 1696h0M1156 1025h0M1821 1704h0M1721 720h0M1771 1920h0M1372 761h0M1441 1054h0M2182 1210h0M1157 1668h0M1610 873h0M1486 637h0M2053 1408h0M1607 1009h0M1628 1075h0M913 1209h0M1502 566h0M1283 1790h0M1349 852h0M1983 805h0M1633 609h0M1432 1040h0M1695 1241h0M1372 1516h0M1202 1622h0M1157 667h0M1394 1824h0M1449 1049h0M1890 997h0M1843 1403h0M935 1520h0M1225 803h0M1377 654h0M1052 1858h0M1531 1777h0M1345 1439h0M1964 953h0M1959 1013h0M1361 891h0M1532 1182h0M1235 677h0M1815 690h0M1458 1226h0M1632 1237h0M1446 1309h0M1804 1149h0M1435 669h0M1862 1059h0M1058 1746h0M1895 1185h0M1710 1207h0M1365 1854h0M1750 565h0M1430 1025h0M1818 982h0M1165 722h0M1739 1759h0M1201 1811h0M1860 1253h0M2077 1431h0M1268 1328h0M1262 651h0M1209 1920h0M1605 932h0M1025 1432h0M1471 842h0M1647 568h0M1889 1140h0M1438 1291h0M835 1059h0M1635 1441h0M828 1037h0M1287 1671h0M1232 1147h0M1847 1524h0M906 935h0M1759 1646h0M1323 719h0M1446 1283h0M1607 680h0M1719 1152h0M918 1191h0M1520 1805h0M863 938h0M1813 1359h0M939 1083h0M1710 1551h0M1376 1046h0M1310 1847h0M1406 1494h0M1475 1284h0M1228 1192h0M1304 758h0M1688 1098h0M1499 694h0M881 934h0M1789 533h0M1809 1826h0M1525 641h0M1047 541h0M1680 1026h0M1677 573h0M1907 1061h0M1553 1098h0M1886 1536h0M1522 601h0M1339 1493h0M1780 718h0M1757 1319h0M1104 643h0M1693 1361h0M1728 646h0M1343 1376h0M1386 1612h0M1184 793h0M897 1251h0M1375 760h0M1646 1787h0M1768 1166h0M1564 1746h0M1182 652h0M1566 1433h0M1836 1689h0M1371 1044h0M1142 795h0M1179 1475h0M1522 1848h0M1129 848h0M1021 1470h0M1303 1631h0M1415 1409h0M1102 1799h0M1088 1430h0M1209 1699h0M1970 1609h0M1100 1021h0M1171 743h0M1740 817h0M1673 1389h0M1678 1823h0M1796 1076h0M1399 1035h0M1505 1562h0M1283 515h0M2037 1013h0M1143 1483h0M1337 507h0M2130 1282h0M1667 613h0M1098 715h0M1053 604h0M1671 829h0M1218 664h0M2002 1088h0M1334 1074h0M1251 1908h0M777 1376h0M1324 1429h0M1455 1100h0M934 1548h0M1059 1070h0M1114 921h0M934 1604h0M1239 1734h0M1259 828h0M1070 1546h0M1573 1663h0M1404 935h0M875 1176h0M1502 1088h0M852 947h0M1143 1918h0M809 1003h0M1056 1541h0M1082 1509h0M1628 1704h0M1372 1801h0M931 1585h0M1059 1531h0M1593 879h0M1680 1224h0M1418 1861h0M1120 1490h0M1781 883h0M2085 1412h0M1193 1597h0M1412 1883h0M1509 663h0M1250 757h0M1437 625h0M1446 978h0M1187 1011h0M835 1050h0M844 1314h0M1737 1657h0M1765 1758h0M1942 1187h0M857 1033h0M1700 540h0M1649 1490h0M1913 757h0M1370 698h0M1783 1240h0M1816 895h0M1150 1139h0M1120 1283h0M1557 827h0M1424 1865h0M1963 1176h0M1238 714h0M1191 1722h0M1323 977h0M1019 1386h0M1882 829h0M1664 1361h0M1352 1223h0M771 1273h0M2068 1425h0M1342 876h0M1825 1323h0M921 1649h0M1364 1635h0M1193 1321h0M1836 1017h0M1985 1466h0M1187 1310h0M1503 946h0M1576 709h0M987 1001h0M1616 1486h0M1282 1187h0M1839 1740h0M1570 1568h0M1740 1506h0M1106 1869h0M1069 658h0M1356 1492h0M1012 1362h0M1865 840h0M2075 1365h0M1561 503h0M1103 509h0M1503 890h0M933 1605h0M1030 930h0M1139 1077h0M818 1166h0M1219 895h0M1040 1296h0M1848 1188h0M1720 1357h0M1551 799h0M1574 618h0M1029 628h0M1114 1924h0M1311 1844h0M1329 901h0M1898 1443h0M1609 808h0M1667 554h0M1444 998h0M1529 1272h0M1400 674h0M1279 1644h0M1670 987h0M1036 947h0M1178 1169h0M1393 543h0M1778 1357h0M1783 1715h0M1554 1886h0M1509 1759h0M1469 1000h0M1070 1020h0M1165 1479h0M1556 1030h0M1736 622h0M1861 939h0M1942 1434h0M826 1136h0M1872 1797h0M1328 1550h0M946 1529h0M1630 1083h0M1270 1636h0M1154 1262h0M1044 1625h0M1465 1831h0M1284 1773h0M1914 1684h0M1017 1808h0M1441 1805h0M1632 1905h0M1563 1483h0M1335 1607h0M964 1633h0M1937 946h0M1041 783h0M1800 1577h0M1438 1129h0M1186 715h0M1794 1506h0M1547 1822h0M1696 1428h0M1083 1306h0M1368 1704h0M1654 1608h0M1087 1876h0M1003 1744h0M1308 1810h0M824 1251h0M1007 1082h0M1808 912h0M1598 1299h0M1139 1694h0M1678 1687h0M1502 1356h0M1693 998h0M1690 988h0M1302 1873h0M1461 813h0M1296 1060h0M1726 547h0M1289 1627h0M1357 1781h0M1339 1514h0M1263 578h0M1295 1037h0M1328 960h0M2121 1211h0M1048 1721h0M1463 656h0M1040 663h0M1716 1859h0M1920 1312h0M1087 1047h0M1157 1339h0M1041 561h0M1452 1387h0M868 1325h0M1811 685h0M1808 1106h0M1895 1421h0M880 1304h0M1495 1881h0M1326 688h0M1539 901h0M1227 1458h0M1520 1248h0M1367 1559h0M2053 1288h0M767 1066h0M1723 907h0M1431 922h0M1209 680h0M1949 882h0M1548 1262h0M1084 1349h0M999 1605h0M883 1411h0M1633 1853h0M1642 1060h0M1257 1276h0M1756 1555h0M1115 1183h0M1270 1158h0M949 864h0M1476 1784h0M864 1362h0M1051 576h0M1623 737h0M1167 1208h0M1482 864h0M1707 1635h0M948 1340h0M1634 1160h0M1355 1673h0M1951 1649h0M1502 1268h0M1206 1667h0M1905 1708h0M1641 1450h0M1368 1194h0M817 1215h0" stroke="#1e90ff" stroke-width="8" stroke-linecap="round" fill="none"/><path id="dm" d="M1377.8 1325l15 15l-15 15l-15 -15zM1404.9 1325l15 15l-15 15l-15 -15zM1431.9 1325l15 15l-15 15l-15 -15zM1459 1325l15 15l-15 15l-15 -15zM1486 1325l15 15l-15 15l-15 -15zM1513.1 1325l15 15l-15 15l-15 -15zM1540.2 1325l15 15l-15 15l-15 -15zM1567.2 1325l15 15l-15 15l-15 -15zM1594.3 1325l15 15l-15 15l-15 -15zM1621.3 1325l15 15l-15 15l-15 -15zM1648.4 1325l15 15l-15 15l-15 -15zM1675.4 1325l15 15l-15 15l-15 -15zM1702.5 1325l15 15l-15 15l-15 -15zM1729.6 1325l15 15l-15 15l-15 -15zM1756.6 1325l15 15l-15 15l-15 -15zM1783.7 1325l15 15l-15 15l-15 -15zM1810.7 1325l15 15l-15 15l-15 -15zM1837.8 1325l15 15l-15 15l-15 -15zM1864.8 1325l15 15l-15 15l-15 -15zM1891.9 1325l15 15l-15 15l-15 -15zM1919 1325l15 15l-15 15l-15 -15zM1946 1325l15 15l-15 15l-15 -15zM1973.1 1325l15 15l-15 15l-15 -15zM2000.1 1325l15 15l-15 15l-15 -15zM2027.2 1325l15 15l-15 15l-15 -15zM2054.2 1325l15 15l-15 15l-15 -15zM2081.3 1325l15 15l-15 15l-15 -15zM2108.4 1325l15 15l-15 15l-15 -15zM2135.4 1325l15 15l-15 15l-15 -15zM1391.3 1350.7l15 15l-15 15l-15 -15zM1418.4 1350.7l15 15l-15 15l-15 -15zM1445.5 1350.7l15 15l-15 15l-15 -15zM1472.5 1350.7l15 15l-15 15l-15 -15zM1499.6 1350.7l15 15l-15 15l-15 -15zM1526.6 1350.7l15 15l-15 15l-15 -15zM1553.7 1350.7l15 15l-15 15l-15 -15zM1580.7 1350.7l15 15l-15 15l-15 -15zM1607.8 1350.7l15 15l-15 15l-15 -15zM1634.9 1350.7l15 15l-15 15l-15 -15zM1661.9 1350.7l15 15l-15 15l-15 -15zM1689 1350.7l15 15l-15 15l-15 -15zM1716 1350.7l15 15l-15 15l-15 -15zM1743.1 1350.7l15 15l-15 15l-15 -15zM1770.1 1350.7l15 15l-15 15l-15 -15zM1797.2 1350.7l15 15l-15 15l-15 -15zM1824.3 1350.7l15 15l-15 15l-15 -15zM1851.3 1350.7l15 15l-15 15l-15 -15zM1878.4 1350.7l15 15l-15 15l-15 -15zM1905.4 1350.7l15 15l-15 15l-15 -15zM1932.5 1350.7l15 15l-15 15l-15 -15zM1959.5 1350.7l15 15l-15 15l-15 -15zM1986.6 1350.7l15 15l-15 15l-15 -15zM2013.7 1350.7l15 15l-15 15l-15 -15zM2040.7 1350.7l15 15l-15 15l-15 -15zM2067.8 1350.7l15 15l-15 15l-15 -15zM2094.8 1350.7l15 15l-15 15l-15 -15zM2121.9 1350.7l15 15l-15 15l-15 -15zM1269.6 1529.9l15 15l-15 15l-15 -15zM1296.6 1529.9l15 15l-15 15l-15 -15zM1323.7 1529.9l15 15l-15 15l-15 -15zM1350.7 1529.9l15 15l-15 15l-15 -15zM1377.8 1529.9l15 15l-15 15l-15 -15zM1404.9 1529.9l15 15l-15 15l-15 -15zM1431.9 1529.9l15 15l-15 15l-15 -15zM1459 1529.9l15 15l-15 15l-15 -15zM1486 1529.9l15 15l-15 15l-15 -15zM1513.1 1529.9l15 15l-15 15l-15 -15zM1540.2 1529.9l15 15l-15 15l-15 -15zM1567.2 1529.9l15 15l-15 15l-15 -15zM1594.3 1529.9l15 15l-15 15l-15 -15zM1621.3 1529.9l15 15l-15 15l-15 -15zM1648.4 1529.9l15 15l-15 15l-15 -15zM1675.4 1529.9l15 15l-15 15l-15 -15zM1702.5 1529.9l15 15l-15 15l-15 -15zM1729.6 1529.9l15 15l-15 15l-15 -15zM1756.6 1529.9l15 15l-15 15l-15 -15zM1783.7 1529.9l15 15l-15 15l-15 -15zM1810.7 1529.9l15 15l-15 15l-15 -15zM1837.8 1529.9l15 15l-15 15l-15 -15zM1864.8 1529.9l15 15l-15 15l-15 -15zM1891.9 1529.9l15 15l-15 15l-15 -15zM1919 1529.9l15 15l-15 15l-15 -15zM1946 1529.9l15 15l-15 15l-15 -15zM1973.1 1529.9l15 15l-15 15l-15 -15zM2000.1 1529.9l15 15l-15 15l-15 -15zM2027.2 1529.9l15 15l-15 15l-15 -15zM1283.1 1555.5l15 15l-15 15l-15 -15zM1310.2 1555.5l15 15l-15 15l-15 -15zM1337.2 1555.5l15 15l-15 15l-15 -15zM1364.3 1555.5l15 15l-15 15l-15 -15zM1391.3 1555.5l15 15l-15 15l-15 -15zM1418.4 1555.5l15 15l-15 15l-15 -15zM1445.5 1555.5l15 15l-15 15l-15 -15zM1472.5 1555.5l15 15l-15 15l-15 -15zM1499.6 1555.5l15 15l-15 15l-15 -15zM1526.6 1555.5l15 15l-15 15l-15 -15zM1553.7 1555.5l15 15l-15 15l-15 -15zM1580.7 1555.5l15 15l-15 15l-15 -15zM1607.8 1555.5l15 15l-15 15l-15 -15zM1634.9 1555.5l15 15l-15 15l-15 -15zM1661.9 1555.5l15 15l-15 15l-15 -15zM1689 1555.5l15 15l-15 15l-15 -15zM1716 1555.5l15 15l-15 15l-15 -15zM1743.1 1555.5l15 15l-15 15l-15 -15zM1770.1 1555.5l15 15l-15 15l-15 -15zM1797.2 1555.5l15 15l-15 15l-15 -15zM1824.3 1555.5l15 15l-15 15l-15 -15zM1851.3 1555.5l15 15l-15 15l-15 -15zM1878.4 1555.5l15 15l-15 15l-15 -15zM1905.4 1555.5l15 15l-15 15l-15 -15zM1932.5 1555.5l15 15l-15 15l-15 -15zM1959.5 1555.5l15 15l-15 15l-15 -15zM1986.6 1555.5l15 15l-15 15l-15 -15zM2013.7 1555.5l15 15l-15 15l-15 -15zM1161.3 1734.8l15 15l-15 15l-15 -15zM1188.4 1734.8l15 15l-15 15l-15 -15zM1215.5 1734.8l15 15l-15 15l-15 -15zM1242.5 1734.8l15 15l-15 15l-15 -15zM1269.6 1734.8l15 15l-15 15l-15 -15zM1296.6 1734.8l15 15l-15 15l-15 -15zM1323.7 1734.8l15 15l-15 15l-15 -15zM1350.7 1734.8l15 15l-15 15l-15 -15zM1377.8 1734.8l15 15l-15 15l-15 -15zM1404.9 1734.8l15 15l-15 15l-15 -15zM1431.9 1734.8l15 15l-15 15l-15 -15zM1459 1734.8l15 15l-15 15l-15 -15zM1486 1734.8l15 15l-15 15l-15 -15zM1513.1 1734.8l15 15l-15 15l-15 -15zM1540.2 1734.8l15 15l-15 15l-15 -15zM1567.2 1734.8l15 15l-15 15l-15 -15zM1594.3 1734.8l15 15l-15 15l-15 -15zM1621.3 1734.8l15 15l-15 15l-15 -15zM1648.4 1734.8l15 15l-15 15l-15 -15zM1675.4 1734.8l15 15l-15 15l-15 -15zM1702.5 1734.8l15 15l-15 15l-15 -15zM1729.6 1734.8l15 15l-15 15l-15 -15zM1756.6 1734.8l15 15l-15 15l-15 -15zM1783.7 1734.8l15 15l-15 15l-15 -15zM1810.7 1734.8l15 15l-15 15l-15 -15zM1837.8 1734.8l15 15l-15 15l-15 -15zM1864.8 1734.8l15 15l-15 15l-15 -15zM1891.9 1734.8l15 15l-15 15l-15 -15zM1919 1734.8l15 15l-15 15l-15 -15zM1174.9 1760.4l15 15l-15 15l-15 -15zM1201.9 1760.4l15 15l-15 15l-15 -15zM1229 1760.4l15 15l-15 15l-15 -15zM1256 1760.4l15 15l-15 15l-15 -15zM1283.1 1760.4l15 15l-15 15l-15 -15zM1310.2 1760.4l15 15l-15 15l-15 -15zM1337.2 1760.4l15 15l-15 15l-15 -15zM1364.3 1760.4l15 15l-15 15l-15 -15zM1391.3 1760.4l15 15l-15 15l-15 -15zM1418.4 1760.4l15 15l-15 15l-15 -15zM1445.5 1760.4l15 15l-15 15l-15 -15zM1472.5 1760.4l15 15l-15 15l-15 -15zM1499.6 1760.4l15 15l-15 15l-15 -15zM1526.6 1760.4l15 15l-15 15l-15 -15zM1553.7 1760.4l15 15l-15 15l-15 -15zM1580.7 1760.4l15 15l-15 15l-15 -15zM1607.8 1760.4l15 15l-15 15l-15 -15zM1634.9 1760.4l15 15l-15 15l-15 -15zM1661.9 1760.4l15 15l-15 15l-15 -15zM1689 1760.4l15 15l-15 15l-15 -15zM1716 1760.4l15 15l-15 15l-15 -15zM1743.1 1760.4l15 15l-15 15l-15 -15zM1770.1 1760.4l15 15l-15 15l-15 -15zM1797.2 1760.4l15 15l-15 15l-15 -15zM1824.3 1760.4l15 15l-15 15l-15 -15zM1851.3 1760.4l15 15l-15 15l-15 -15zM1878.4 1760.4l15 15l-15 15l-15 -15zM1905.4 1760.4l15 15l-15 15l-15 -15zM1513.1 1837.2l15 15l-15 15l-15 -15zM1540.2 1837.2l15 15l-15 15l-15 -15zM1567.2 1837.2l15 15l-15 15l-15 -15zM1594.3 1837.2l15 15l-15 15l-15 -15zM1621.3 1837.2l15 15l-15 15l-15 -15zM1648.4 1837.2l15 15l-15 15l-15 -15zM1675.4 1837.2l15 15l-15 15l-15 -15zM1702.5 1837.2l15 15l-15 15l-15 -15zM1729.6 1837.2l15 15l-15 15l-15 -15zM1756.6 1837.2l15 15l-15 15l-15 -15zM1783.7 1837.2l15 15l-15 15l-15 -15zM1810.7 1837.2l15 15l-15 15l-15 -15zM1837.8 1837.2l15 15l-15 15l-15 -15zM1864.8 1837.2l15 15l-15 15l-15 -15zM1499.6 1862.8l15 15l-15 15l-15 -15zM1526.6 1862.8l15 15l-15 15l-15 -15zM1553.7 1862.8l15 15l-15 15l-15 -15zM1580.7 1862.8l15 15l-15 15l-15 -15zM1607.8 1862.8l15 15l-15 15l-15 -15zM1634.9 1862.8l15 15l-15 15l-15 -15zM1661.9 1862.8l15 15l-15 15l-15 -15zM1689 1862.8l15 15l-15 15l-15 -15zM1716 1862.8l15 15l-15 15l-15 -15zM1743.1 1862.8l15 15l-15 15l-15 -15zM1770.1 1862.8l15 15l-15 15l-15 -15zM1797.2 1862.8l15 15l-15 15l-15 -15zM1824.3 1862.8l15 15l-15 15l-15 -15zM1851.3 1862.8l15 15l-15 15l-15 -15zM1580.7 1197l15 15l-15 15l-15 -15zM1567.2 1171.4l15 15l-15 15l-15 -15zM1553.7 1145.8l15 15l-15 15l-15 -15zM1540.2 1120.2l15 15l-15 15l-15 -15zM1526.6 1094.6l15 15l-15 15l-15 -15zM1513.1 1069l15 15l-15 15l-15 -15zM1499.6 1043.3l15 15l-15 15l-15 -15zM1486 1017.7l15 15l-15 15l-15 -15zM1472.5 992.1l15 15l-15 15l-15 -15zM1459 966.5l15 15l-15 15l-15 -15zM1445.5 940.9l15 15l-15 15l-15 -15zM1431.9 915.3l15 15l-15 15l-15 -15zM1418.4 889.7l15 15l-15 15l-15 -15zM1404.9 864.1l15 15l-15 15l-15 -15zM1391.3 838.5l15 15l-15 15l-15 -15zM1377.8 812.9l15 15l-15 15l-15 -15zM1364.3 787.2l15 15l-15 15l-15 -15zM1350.7 761.6l15 15l-15 15l-15 -15zM1337.2 736l15 15l-15 15l-15 -15zM1323.7 710.4l15 15l-15 15l-15 -15zM1310.2 684.8l15 15l-15 15l-15 -15zM1296.6 659.2l15 15l-15 15l-15 -15zM1283.1 633.6l15 15l-15 15l-15 -15zM1269.6 608l15 15l-15 15l-15 -15zM1256 582.4l15 15l-15 15l-15 -15zM1242.5 556.8l15 15l-15 15l-15 -15zM1229 531.2l15 15l-15 15l-15 -15zM1215.5 505.5l15 15l-15 15l-15 -15zM1201.9 479.9l15 15l-15 15l-15 -15zM1594.3 1171.4l15 15l-15 15l-15 -15zM1580.7 1145.8l15 15l-15 15l-15 -15zM1567.2 1120.2l15 15l-15 15l-15 -15zM1553.7 1094.6l15 15l-15 15l-15 -15zM1540.2 1069l15 15l-15 15l-15 -15zM1526.6 1043.3l15 15l-15 15l-15 -15zM1513.1 1017.7l15 15l-15 15l-15 -15zM1499.6 992.1l15 15l-15 15l-15 -15zM1486 966.5l15 15l-15 15l-15 -15zM1472.5 940.9l15 15l-15 15l-15 -15zM1459 915.3l15 15l-15 15l-15 -15zM1445.5 889.7l15 15l-15 15l-15 -15zM1431.9 864.1l15 15l-15 15l-15 -15zM1418.4 838.5l15 15l-15 15l-15 -15zM1404.9 812.9l15 15l-15 15l-15 -15zM1391.3 787.2l15 15l-15 15l-15 -15zM1377.8 761.6l15 15l-15 15l-15 -15zM1364.3 736l15 15l-15 15l-15 -15zM1350.7 710.4l15 15l-15 15l-15 -15zM1337.2 684.8l15 15l-15 15l-15 -15zM1323.7 659.2l15 15l-15 15l-15 -15zM1310.2 633.6l15 15l-15 15l-15 -15zM1296.6 608l15 15l-15 15l-15 -15zM1283.1 582.4l15 15l-15 15l-15 -15zM1269.6 556.8l15 15l-15 15l-15 -15zM1256 531.2l15 15l-15 15l-15 -15zM1242.5 505.5l15 15l-15 15l-15 -15zM1229 479.9l15 15l-15 15l-15 -15zM1797.2 1197l15 15l-15 15l-15 -15zM1783.7 1171.4l15 15l-15 15l-15 -15zM1770.1 1145.8l15 15l-15 15l-15 -15zM1756.6 1120.2l15 15l-15 15l-15 -15zM1743.1 1094.6l15 15l-15 15l-15 -15zM1729.6 1069l15 15l-15 15l-15 -15zM1716 1043.3l15 15l-15 15l-15 -15zM1702.5 1017.7l15 15l-15 15l-15 -15zM1689 992.1l15 15l-15 15l-15 -15zM1675.4 966.5l15 15l-15 15l-15 -15zM1661.9 940.9l15 15l-15 15l-15 -15zM1648.4 915.3l15 15l-15 15l-15 -15zM1634.9 889.7l15 15l-15 15l-15 -15zM1621.3 864.1l15 15l-15 15l-15 -15zM1607.8 838.5l15 15l-15 15l-15 -15zM1594.3 812.9l15 15l-15 15l-15 -15zM1580.7 787.2l15 15l-15 15l-15 -15zM1567.2 761.6l15 15l-15 15l-15 -15zM1553.7 736l15 15l-15 15l-15 -15zM1540.2 710.4l15 15l-15 15l-15 -15zM1526.6 684.8l15 15l-15 15l-15 -15zM1513.1 659.2l15 15l-15 15l-15 -15zM1499.6 633.6l15 15l-15 15l-15 -15zM1486 608l15 15l-15 15l-15 -15zM1472.5 582.4l15 15l-15 15l-15 -15zM1459 556.8l15 15l-15 15l-15 -15zM1445.5 531.2l15 15l-15 15l-15 -15zM1431.9 505.5l15 15l-15 15l-15 -15zM1418.4 479.9l15 15l-15 15l-15 -15zM1810.7 1171.4l15 15l-15 15l-15 -15zM1797.2 1145.8l15 15l-15 15l-15 -15zM1783.7 1120.2l15 15l-15 15l-15 -15zM1770.1 1094.6l15 15l-15 15l-15 -15zM1756.6 1069l15 15l-15 15l-15 -15zM1743.1 1043.3l15 15l-15 15l-15 -15zM1729.6 1017.7l15 15l-15 15l-15 -15zM1716 992.1l15 15l-15 15l-15 -15zM1702.5 966.5l15 15l-15 15l-15 -15zM1689 940.9l15 15l-15 15l-15 -15zM1675.4 915.3l15 15l-15 15l-15 -15zM1661.9 889.7l15 15l-15 15l-15 -15zM1648.4 864.1l15 15l-15 15l-15 -15zM1634.9 838.5l15 15l-15 15l-15 -15zM1621.3 812.9l15 15l-15 15l-15 -15zM1607.8 787.2l15 15l-15 15l-15 -15zM1594.3 761.6l15 15l-15 15l-15 -15zM1580.7 736l15 15l-15 15l-15 -15zM1567.2 710.4l15 15l-15 15l-15 -15zM1553.7 684.8l15 15l-15 15l-15 -15zM1540.2 659.2l15 15l-15 15l-15 -15zM1526.6 633.6l15 15l-15 15l-15 -15zM1513.1 608l15 15l-15 15l-15 -15zM1499.6 582.4l15 15l-15 15l-15 -15zM1486 556.8l15 15l-15 15l-15 -15zM1472.5 531.2l15 15l-15 15l-15 -15zM1459 505.5l15 15l-15 15l-15 -15zM1445.5 479.9l15 15l-15 15l-15 -15zM2013.7 1197l15 15l-15 15l-15 -15zM2000.1 1171.4l15 15l-15 15l-15 -15zM1986.6 1145.8l15 15l-15 15l-15 -15zM1973.1 1120.2l15 15l-15 15l-15 -15zM1959.5 1094.6l15 15l-15 15l-15 -15zM1946 1069l15 15l-15 15l-15 -15zM1932.5 1043.3l15 15l-15 15l-15 -15zM1919 1017.7l15 15l-15 15l-15 -15zM1905.4 992.1l15 15l-15 15l-15 -15zM1891.9 966.5l15 15l-15 15l-15 -15zM1878.4 940.9l15 15l-15 15l-15 -15zM1864.8 915.3l15 15l-15 15l-15 -15zM1851.3 889.7l15 15l-15 15l-15 -15zM1837.8 864.1l15 15l-15 15l-15 -15zM1824.3 838.5l15 15l-15 15l-15 -15zM1810.7 812.9l15 15l-15 15l-15 -15zM1797.2 787.2l15 15l-15 15l-15 -15zM1783.7 761.6l15 15l-15 15l-15 -15zM1770.1 736l15 15l-15 15l-15 -15zM1756.6 710.4l15 15l-15 15l-15 -15zM1743.1 684.8l15 15l-15 15l-15 -15zM1729.6 659.2l15 15l-15 15l-15 -15zM1716 633.6l15 15l-15 15l-15 -15zM1702.5 608l15 15l-15 15l-15 -15zM1689 582.4l15 15l-15 15l-15 -15zM1675.4 556.8l15 15l-15 15l-15 -15zM1661.9 531.2l15 15l-15 15l-15 -15zM1648.4 505.5l15 15l-15 15l-15 -15zM1634.9 479.9l15 15l-15 15l-15 -15zM2027.2 1171.4l15 15l-15 15l-15 -15zM2013.7 1145.8l15 15l-15 15l-15 -15zM2000.1 1120.2l15 15l-15 15l-15 -15zM1986.6 1094.6l15 15l-15 15l-15 -15zM1973.1 1069l15 15l-15 15l-15 -15zM1959.5 1043.3l15 15l-15 15l-15 -15zM1946 1017.7l15 15l-15 15l-15 -15zM1932.5 992.1l15 15l-15 15l-15 -15zM1919 966.5l15 15l-15 15l-15 -15zM1905.4 940.9l15 15l-15 15l-15 -15zM1891.9 915.3l15 15l-15 15l-15 -15zM1878.4 889.7l15 15l-15 15l-15 -15zM1864.8 864.1l15 15l-15 15l-15 -15zM1851.3 838.5l15 15l-15 15l-15 -15zM1837.8 812.9l15 15l-15 15l-15 -15zM1824.3 787.2l15 15l-15 15l-15 -15zM1810.7 761.6l15 15l-15 15l-15 -15zM1797.2 736l15 15l-15 15l-15 -15zM1783.7 710.4l15 15l-15 15l-15 -15zM1770.1 684.8l15 15l-15 15l-15 -15zM1756.6 659.2l15 15l-15 15l-15 -15zM1743.1 633.6l15 15l-15 15l-15 -15zM1729.6 608l15 15l-15 15l-15 -15zM1716 582.4l15 15l-15 15l-15 -15zM1702.5 556.8l15 15l-15 15l-15 -15zM1689 531.2l15 15l-15 15l-15 -15zM1675.4 505.5l15 15l-15 15l-15 -15zM1661.9 479.9l15 15l-15 15l-15 -15zM1919 812.9l15 15l-15 15l-15 -15zM1905.4 787.2l15 15l-15 15l-15 -15zM1891.9 761.6l15 15l-15 15l-15 -15zM1878.4 736l15 15l-15 15l-15 -15zM1864.8 710.4l15 15l-15 15l-15 -15zM1851.3 684.8l15 15l-15 15l-15 -15zM1837.8 659.2l15 15l-15 15l-15 -15zM1824.3 633.6l15 15l-15 15l-15 -15zM1810.7 608l15 15l-15 15l-15 -15zM1797.2 582.4l15 15l-15 15l-15 -15zM1783.7 556.8l15 15l-15 15l-15 -15zM1770.1 531.2l15 15l-15 15l-15 -15zM1756.6 505.5l15 15l-15 15l-15 -15zM1743.1 479.9l15 15l-15 15l-15 -15zM1946 812.9l15 15l-15 15l-15 -15zM1932.5 787.2l15 15l-15 15l-15 -15zM1919 761.6l15 15l-15 15l-15 -15zM1905.4 736l15 15l-15 15l-15 -15zM1891.9 710.4l15 15l-15 15l-15 -15zM1878.4 684.8l15 15l-15 15l-15 -15zM1864.8 659.2l15 15l-15 15l-15 -15zM1851.3 633.6l15 15l-15 15l-15 -15zM1837.8 608l15 15l-15 15l-15 -15zM1824.3 582.4l15 15l-15 15l-15 -15zM1810.7 556.8l15 15l-15 15l-15 -15zM1797.2 531.2l15 15l-15 15l-15 -15zM1783.7 505.5l15 15l-15 15l-15 -15zM1770.1 479.9l15 15l-15 15l-15 -15zM1377.8 1069l15 15l-15 15l-15 -15zM1364.3 1094.6l15 15l-15 15l-15 -15zM1350.7 1120.2l15 15l-15 15l-15 -15zM1337.2 1145.8l15 15l-15 15l-15 -15zM1323.7 1171.4l15 15l-15 15l-15 -15zM1310.2 1197l15 15l-15 15l-15 -15zM1296.6 1222.6l15 15l-15 15l-15 -15zM1283.1 1248.2l15 15l-15 15l-15 -15zM1269.6 1273.8l15 15l-15 15l-15 -15zM1256 1299.4l15 15l-15 15l-15 -15zM1242.5 1325l15 15l-15 15l-15 -15zM1229 1350.7l15 15l-15 15l-15 -15zM1215.5 1376.3l15 15l-15 15l-15 -15zM1201.9 1401.9l15 15l-15 15l-15 -15zM1188.4 1427.5l15 15l-15 15l-15 -15zM1174.9 1453.1l15 15l-15 15l-15 -15zM1161.3 1478.7l15 15l-15 15l-15 -15zM1147.8 1504.3l15 15l-15 15l-15 -15zM1134.3 1529.9l15 15l-15 15l-15 -15zM1120.8 1555.5l15 15l-15 15l-15 -15zM1107.2 1581.1l15 15l-15 15l-15 -15zM1093.7 1606.8l15 15l-15 15l-15 -15zM1080.2 1632.4l15 15l-15 15l-15 -15zM1066.6 1658l15 15l-15 15l-15 -15zM1053.1 1683.6l15 15l-15 15l-15 -15zM1039.6 1709.2l15 15l-15 15l-15 -15zM1026.1 1734.8l15 15l-15 15l-15 -15zM1012.5 1760.4l15 15l-15 15l-15 -15zM999 1786l15 15l-15 15l-15 -15zM1350.7 1069l15 15l-15 15l-15 -15zM1337.2 1094.6l15 15l-15 15l-15 -15zM1323.7 1120.2l15 15l-15 15l-15 -15zM1310.2 1145.8l15 15l-15 15l-15 -15zM1296.6 1171.4l15 15l-15 15l-15 -15zM1283.1 1197l15 15l-15 15l-15 -15zM1269.6 1222.6l15 15l-15 15l-15 -15zM1256 1248.2l15 15l-15 15l-15 -15zM1242.5 1273.8l15 15l-15 15l-15 -15zM1229 1299.4l15 15l-15 15l-15 -15zM1215.5 1325l15 15l-15 15l-15 -15zM1201.9 1350.7l15 15l-15 15l-15 -15zM1188.4 1376.3l15 15l-15 15l-15 -15zM1174.9 1401.9l15 15l-15 15l-15 -15zM1161.3 1427.5l15 15l-15 15l-15 -15zM1147.8 1453.1l15 15l-15 15l-15 -15zM1134.3 1478.7l15 15l-15 15l-15 -15zM1120.8 1504.3l15 15l-15 15l-15 -15zM1107.2 1529.9l15 15l-15 15l-15 -15zM1093.7 1555.5l15 15l-15 15l-15 -15zM1080.2 1581.1l15 15l-15 15l-15 -15zM1066.6 1606.8l15 15l-15 15l-15 -15zM1053.1 1632.4l15 15l-15 15l-15 -15zM1039.6 1658l15 15l-15 15l-15 -15zM1026.1 1683.6l15 15l-15 15l-15 -15zM1012.5 1709.2l15 15l-15 15l-15 -15zM999 1734.8l15 15l-15 15l-15 -15zM985.5 1760.4l15 15l-15 15l-15 -15zM1269.6 864.1l15 15l-15 15l-15 -15zM1256 889.7l15 15l-15 15l-15 -15zM1242.5 915.3l15 15l-15 15l-15 -15zM1229 940.9l15 15l-15 15l-15 -15zM1215.5 966.5l15 15l-15 15l-15 -15zM1201.9 992.1l15 15l-15 15l-15 -15zM1188.4 1017.7l15 15l-15 15l-15 -15zM1174.9 1043.3l15 15l-15 15l-15 -15zM1161.3 1069l15 15l-15 15l-15 -15zM1147.8 1094.6l15 15l-15 15l-15 -15zM1134.3 1120.2l15 15l-15 15l-15 -15zM1120.8 1145.8l15 15l-15 15l-15 -15zM1107.2 1171.4l15 15l-15 15l-15 -15zM1093.7 1197l15 15l-15 15l-15 -15zM1080.2 1222.6l15 15l-15 15l-15 -15zM1066.6 1248.2l15 15l-15 15l-15 -15zM1053.1 1273.8l15 15l-15 15l-15 -15zM1039.6 1299.4l15 15l-15 15l-15 -15zM1026.1 1325l15 15l-15 15l-15 -15zM1012.5 1350.7l15 15l-15 15l-15 -15zM999 1376.3l15 15l-15 15l-15 -15zM985.5 1401.9l15 15l-15 15l-15 -15zM971.9 1427.5l15 15l-15 15l-15 -15zM958.4 1453.1l15 15l-15 15l-15 -15zM944.9 1478.7l15 15l-15 15l-15 -15zM931.4 1504.3l15 15l-15 15l-15 -15zM917.8 1529.9l15 15l-15 15l-15 -15zM904.3 1555.5l15 15l-15 15l-15 -15zM890.8 1581.1l15 15l-15 15l-15 -15zM1242.5 864.1l15 15l-15 15l-15 -15zM1229 889.7l15 15l-15 15l-15 -15zM1215.5 915.3l15 15l-15 15l-15 -15zM1201.9 940.9l15 15l-15 15l-15 -15zM1188.4 966.5l15 15l-15 15l-15 -15zM1174.9 992.1l15 15l-15 15l-15 -15zM1161.3 1017.7l15 15l-15 15l-15 -15zM1147.8 1043.3l15 15l-15 15l-15 -15zM1134.3 1069l15 15l-15 15l-15 -15zM1120.8 1094.6l15 15l-15 15l-15 -15zM1107.2 1120.2l15 15l-15 15l-15 -15zM1093.7 1145.8l15 15l-15 15l-15 -15zM1080.2 1171.4l15 15l-15 15l-15 -15zM1066.6 1197l15 15l-15 15l-15 -15zM1053.1 1222.6l15 15l-15 15l-15 -15zM1039.6 1248.2l15 15l-15 15l-15 -15zM1026.1 1273.8l15 15l-15 15l-15 -15zM1012.5 1299.4l15 15l-15 15l-15 -15zM999 1325l15 15l-15 15l-15 -15zM985.5 1350.7l15 15l-15 15l-15 -15zM971.9 1376.3l15 15l-15 15l-15 -15zM958.4 1401.9l15 15l-15 15l-15 -15zM944.9 1427.5l15 15l-15 15l-15 -15zM931.4 1453.1l15 15l-15 15l-15 -15zM917.8 1478.7l15 15l-15 15l-15 -15zM904.3 1504.3l15 15l-15 15l-15 -15zM890.8 1529.9l15 15l-15 15l-15 -15zM877.2 1555.5l15 15l-15 15l-15 -15zM1161.3 659.2l15 15l-15 15l-15 -15zM1147.8 684.8l15 15l-15 15l-15 -15zM1134.3 710.4l15 15l-15 15l-15 -15zM1120.8 736l15 15l-15 15l-15 -15zM1107.2 761.6l15 15l-15 15l-15 -15zM1093.7 787.2l15 15l-15 15l-15 -15zM1080.2 812.9l15 15l-15 15l-15 -15zM1066.6 838.5l15 15l-15 15l-15 -15zM1053.1 864.1l15 15l-15 15l-15 -15zM1039.6 889.7l15 15l-15 15l-15 -15zM1026.1 915.3l15 15l-15 15l-15 -15zM1012.5 940.9l15 15l-15 15l-15 -15zM999 966.5l15 15l-15 15l-15 -15zM985.5 992.1l15 15l-15 15l-15 -15zM971.9 1017.7l15 15l-15 15l-15 -15zM958.4 1043.3l15 15l-15 15l-15 -15zM944.9 1069l15 15l-15 15l-15 -15zM931.4 1094.6l15 15l-15 15l-15 -15zM917.8 1120.2l15 15l-15 15l-15 -15zM904.3 1145.8l15 15l-15 15l-15 -15zM890.8 1171.4l15 15l-15 15l-15 -15zM877.2 1197l15 15l-15 15l-15 -15zM863.7 1222.6l15 15l-15 15l-15 -15zM850.2 1248.2l15 15l-15 15l-15 -15zM836.7 1273.8l15 15l-15 15l-15 -15zM823.1 1299.4l15 15l-15 15l-15 -15zM809.6 1325l15 15l-15 15l-15 -15zM796.1 1350.7l15 15l-15 15l-15 -15zM782.5 1376.3l15 15l-15 15l-15 -15zM1134.3 659.2l15 15l-15 15l-15 -15zM1120.8 684.8l15 15l-15 15l-15 -15zM1107.2 710.4l15 15l-15 15l-15 -15zM1093.7 736l15 15l-15 15l-15 -15zM1080.2 761.6l15 15l-15 15l-15 -15zM1066.6 787.2l15 15l-15 15l-15 -15zM1053.1 812.9l15 15l-15 15l-15 -15zM1039.6 838.5l15 15l-15 15l-15 -15zM1026.1 864.1l15 15l-15 15l-15 -15zM1012.5 889.7l15 15l-15 15l-15 -15zM999 915.3l15 15l-15 15l-15 -15zM985.5 940.9l15 15l-15 15l-15 -15zM971.9 966.5l15 15l-15 15l-15 -15zM958.4 992.1l15 15l-15 15l-15 -15zM944.9 1017.7l15 15l-15 15l-15 -15zM931.4 1043.3l15 15l-15 15l-15 -15zM917.8 1069l15 15l-15 15l-15 -15zM904.3 1094.6l15 15l-15 15l-15 -15zM890.8 1120.2l15 15l-15 15l-15 -15zM877.2 1145.8l15 15l-15 15l-15 -15zM863.7 1171.4l15 15l-15 15l-15 -15zM850.2 1197l15 15l-15 15l-15 -15zM836.7 1222.6l15 15l-15 15l-15 -15zM823.1 1248.2l15 15l-15 15l-15 -15zM809.6 1273.8l15 15l-15 15l-15 -15zM796.1 1299.4l15 15l-15 15l-15 -15zM782.5 1325l15 15l-15 15l-15 -15zM769 1350.7l15 15l-15 15l-15 -15zM904.3 940.9l15 15l-15 15l-15 -15zM890.8 966.5l15 15l-15 15l-15 -15zM877.2 992.1l15 15l-15 15l-15 -15zM863.7 1017.7l15 15l-15 15l-15 -15zM850.2 1043.3l15 15l-15 15l-15 -15zM836.7 1069l15 15l-15 15l-15 -15zM823.1 1094.6l15 15l-15 15l-15 -15zM809.6 1120.2l15 15l-15 15l-15 -15zM796.1 1145.8l15 15l-15 15l-15 -15zM782.5 1171.4l15 15l-15 15l-15 -15zM769 1197l15 15l-15 15l-15 -15zM755.5 1222.6l15 15l-15 15l-15 -15zM742 1248.2l15 15l-15 15l-15 -15zM728.4 1273.8l15 15l-15 15l-15 -15zM890.8 915.3l15 15l-15 15l-15 -15zM877.2 940.9l15 15l-15 15l-15 -15zM863.7 966.5l15 15l-15 15l-15 -15zM850.2 992.1l15 15l-15 15l-15 -15zM836.7 1017.7l15 15l-15 15l-15 -15zM823.1 1043.3l15 15l-15 15l-15 -15zM809.6 1069l15 15l-15 15l-15 -15zM796.1 1094.6l15 15l-15 15l-15 -15zM782.5 1120.2l15 15l-15 15l-15 -15zM769 1145.8l15 15l-15 15l-15 -15zM755.5 1171.4l15 15l-15 15l-15 -15zM742 1197l15 15l-15 15l-15 -15zM728.4 1222.6l15 15l-15 15l-15 -15zM714.9 1248.2l15 15l-15 15l-15 -15z" fill="none" stroke="tomato" stroke-width="3.5" stroke-linejoin="miter"/></defs><g><use href="#tg"/><use href="#as"/><use href="#dm"/><path d="M1447 1328h24v24h-24zM1474 1328h24v24h-24zM1636.4 1328h24v24h-24zM1717.6 1328h24v24h-24zM1798.7 1328h24v24h-24zM1825.8 1328h24v24h-24zM1852.8 1328h24v24h-24zM1907 1328h24v24h-24zM1934 1328h24v24h-24zM2015.2 1328h24v24h-24zM1406.4 1353.7h24v24h-24zM1433.5 1353.7h24v24h-24zM1460.5 1353.7h24v24h-24zM1487.6 1353.7h24v24h-24zM1568.7 1353.7h24v24h-24zM1704 1353.7h24v24h-24zM1758.1 1353.7h24v24h-24zM1866.4 1353.7h24v24h-24zM1893.4 1353.7h24v24h-24zM1947.5 1353.7h24v24h-24zM1974.6 1353.7h24v24h-24zM1284.6 1532.9h24v24h-24zM1338.7 1532.9h24v24h-24zM1392.9 1532.9h24v24h-24zM1419.9 1532.9h24v24h-24zM1474 1532.9h24v24h-24zM1555.2 1532.9h24v24h-24zM1582.3 1532.9h24v24h-24zM1609.3 1532.9h24v24h-24zM1663.4 1532.9h24v24h-24zM1771.7 1532.9h24v24h-24zM1798.7 1532.9h24v24h-24zM1825.8 1532.9h24v24h-24zM1879.9 1532.9h24v24h-24zM1907 1532.9h24v24h-24zM1961.1 1532.9h24v24h-24zM1988.1 1532.9h24v24h-24zM2015.2 1532.9h24v24h-24zM1298.2 1558.5h24v24h-24zM1325.2 1558.5h24v24h-24zM1352.3 1558.5h24v24h-24zM1379.3 1558.5h24v24h-24zM1487.6 1558.5h24v24h-24zM1595.8 1558.5h24v24h-24zM1622.9 1558.5h24v24h-24zM1649.9 1558.5h24v24h-24zM1731.1 1558.5h24v24h-24zM1812.3 1558.5h24v24h-24zM1866.4 1558.5h24v24h-24zM1947.5 1558.5h24v24h-24zM1176.4 1737.8h24v24h-24zM1230.5 1737.8h24v24h-24zM1257.6 1737.8h24v24h-24zM1284.6 1737.8h24v24h-24zM1365.8 1737.8h24v24h-24zM1392.9 1737.8h24v24h-24zM1447 1737.8h24v24h-24zM1474 1737.8h24v24h-24zM1501.1 1737.8h24v24h-24zM1555.2 1737.8h24v24h-24zM1582.3 1737.8h24v24h-24zM1636.4 1737.8h24v24h-24zM1663.4 1737.8h24v24h-24zM1690.5 1737.8h24v24h-24zM1717.6 1737.8h24v24h-24zM1825.8 1737.8h24v24h-24zM1879.9 1737.8h24v24h-24zM1162.9 1763.4h24v24h-24zM1271.1 1763.4h24v24h-24zM1352.3 1763.4h24v24h-24zM1379.3 1763.4h24v24h-24zM1406.4 1763.4h24v24h-24zM1460.5 1763.4h24v24h-24zM1487.6 1763.4h24v24h-24zM1514.6 1763.4h24v24h-24zM1622.9 1763.4h24v24h-24zM1677 1763.4h24v24h-24zM1704 1763.4h24v24h-24zM1731.1 1763.4h24v24h-24zM1758.1 1763.4h24v24h-24zM1785.2 1763.4h24v24h-24zM1812.3 1763.4h24v24h-24zM1839.3 1763.4h24v24h-24zM1528.2 1840.2h24v24h-24zM1636.4 1840.2h24v24h-24zM1663.4 1840.2h24v24h-24zM1798.7 1840.2h24v24h-24zM1514.6 1865.8h24v24h-24zM1595.8 1865.8h24v24h-24zM1677 1865.8h24v24h-24zM1704 1865.8h24v24h-24zM1758.1 1865.8h24v24h-24zM1568.7 1200h24v24h-24zM1555.2 1174.4h24v24h-24zM1528.2 1123.2h24v24h-24zM1501.1 1072h24v24h-24zM1474 1020.7h24v24h-24zM1460.5 995.1h24v24h-24zM1392.9 867.1h24v24h-24zM1379.3 841.5h24v24h-24zM1352.3 790.2h24v24h-24zM1311.7 713.4h24v24h-24zM1298.2 687.8h24v24h-24zM1257.6 611h24v24h-24zM1568.7 1148.8h24v24h-24zM1541.7 1097.6h24v24h-24zM1433.5 892.7h24v24h-24zM1419.9 867.1h24v24h-24zM1406.4 841.5h24v24h-24zM1392.9 815.9h24v24h-24zM1379.3 790.2h24v24h-24zM1338.7 713.4h24v24h-24zM1298.2 636.6h24v24h-24zM1284.6 611h24v24h-24zM1271.1 585.4h24v24h-24zM1785.2 1200h24v24h-24zM1771.7 1174.4h24v24h-24zM1731.1 1097.6h24v24h-24zM1704 1046.3h24v24h-24zM1677 995.1h24v24h-24zM1622.9 892.7h24v24h-24zM1609.3 867.1h24v24h-24zM1595.8 841.5h24v24h-24zM1541.7 739h24v24h-24zM1528.2 713.4h24v24h-24zM1487.6 636.6h24v24h-24zM1447 559.8h24v24h-24zM1419.9 508.5h24v24h-24zM1785.2 1148.8h24v24h-24zM1771.7 1123.2h24v24h-24zM1731.1 1046.3h24v24h-24zM1704 995.1h24v24h-24zM1649.9 892.7h24v24h-24zM1636.4 867.1h24v24h-24zM1622.9 841.5h24v24h-24zM1609.3 815.9h24v24h-24zM1528.2 662.2h24v24h-24zM1487.6 585.4h24v24h-24zM1447 508.5h24v24h-24zM2001.7 1200h24v24h-24zM1988.1 1174.4h24v24h-24zM1961.1 1123.2h24v24h-24zM1934 1072h24v24h-24zM1907 1020.7h24v24h-24zM1866.4 943.9h24v24h-24zM1852.8 918.3h24v24h-24zM1839.3 892.7h24v24h-24zM1825.8 867.1h24v24h-24zM1771.7 764.6h24v24h-24zM1758.1 739h24v24h-24zM1717.6 662.2h24v24h-24zM1704 636.6h24v24h-24zM1677 585.4h24v24h-24zM1649.9 534.2h24v24h-24zM1636.4 508.5h24v24h-24zM2015.2 1174.4h24v24h-24zM2001.7 1148.8h24v24h-24zM1974.6 1097.6h24v24h-24zM1947.5 1046.3h24v24h-24zM1866.4 892.7h24v24h-24zM1839.3 841.5h24v24h-24zM1812.3 790.2h24v24h-24zM1798.7 764.6h24v24h-24zM1771.7 713.4h24v24h-24zM1731.1 636.6h24v24h-24zM1717.6 611h24v24h-24zM1704 585.4h24v24h-24zM1690.5 559.8h24v24h-24zM1663.4 508.5h24v24h-24zM1649.9 482.9h24v24h-24zM1879.9 764.6h24v24h-24zM1866.4 739h24v24h-24zM1785.2 585.4h24v24h-24zM1771.7 559.8h24v24h-24zM1758.1 534.2h24v24h-24zM1744.6 508.5h24v24h-24zM1731.1 482.9h24v24h-24zM1920.5 790.2h24v24h-24zM1893.4 739h24v24h-24zM1852.8 662.2h24v24h-24zM1839.3 636.6h24v24h-24zM1825.8 611h24v24h-24zM1798.7 559.8h24v24h-24zM1771.7 508.5h24v24h-24zM1365.8 1072h24v24h-24zM1271.1 1251.2h24v24h-24zM1244 1302.4h24v24h-24zM1230.5 1328h24v24h-24zM1189.9 1404.9h24v24h-24zM1176.4 1430.5h24v24h-24zM1149.3 1481.7h24v24h-24zM1108.8 1558.5h24v24h-24zM1095.2 1584.1h24v24h-24zM1081.7 1609.8h24v24h-24zM1068.2 1635.4h24v24h-24zM1041.1 1686.6h24v24h-24zM1027.6 1712.2h24v24h-24zM1014.1 1737.8h24v24h-24zM1000.5 1763.4h24v24h-24zM987 1789h24v24h-24zM1325.2 1097.6h24v24h-24zM1311.7 1123.2h24v24h-24zM1257.6 1225.6h24v24h-24zM1217 1302.4h24v24h-24zM1203.5 1328h24v24h-24zM1176.4 1379.3h24v24h-24zM1162.9 1404.9h24v24h-24zM1149.3 1430.5h24v24h-24zM1081.7 1558.5h24v24h-24zM1068.2 1584.1h24v24h-24zM1054.6 1609.8h24v24h-24zM1000.5 1712.2h24v24h-24zM987 1737.8h24v24h-24zM973.5 1763.4h24v24h-24zM1244 892.7h24v24h-24zM1189.9 995.1h24v24h-24zM1176.4 1020.7h24v24h-24zM1162.9 1046.3h24v24h-24zM987 1379.3h24v24h-24zM973.5 1404.9h24v24h-24zM959.9 1430.5h24v24h-24zM919.4 1507.3h24v24h-24zM892.3 1558.5h24v24h-24zM1230.5 867.1h24v24h-24zM1217 892.7h24v24h-24zM1203.5 918.3h24v24h-24zM1189.9 943.9h24v24h-24zM1122.3 1072h24v24h-24zM1108.8 1097.6h24v24h-24zM1081.7 1148.8h24v24h-24zM1027.6 1251.2h24v24h-24zM1014.1 1276.8h24v24h-24zM1000.5 1302.4h24v24h-24zM987 1328h24v24h-24zM973.5 1353.7h24v24h-24zM932.9 1430.5h24v24h-24zM919.4 1456.1h24v24h-24zM905.8 1481.7h24v24h-24zM892.3 1507.3h24v24h-24zM878.8 1532.9h24v24h-24zM865.2 1558.5h24v24h-24zM1149.3 662.2h24v24h-24zM1122.3 713.4h24v24h-24zM1081.7 790.2h24v24h-24zM1041.1 867.1h24v24h-24zM987 969.5h24v24h-24zM973.5 995.1h24v24h-24zM932.9 1072h24v24h-24zM892.3 1148.8h24v24h-24zM878.8 1174.4h24v24h-24zM865.2 1200h24v24h-24zM838.2 1251.2h24v24h-24zM811.1 1302.4h24v24h-24zM797.6 1328h24v24h-24zM784.1 1353.7h24v24h-24zM770.5 1379.3h24v24h-24zM1095.2 713.4h24v24h-24zM1068.2 764.6h24v24h-24zM1054.6 790.2h24v24h-24zM1014.1 867.1h24v24h-24zM987 918.3h24v24h-24zM959.9 969.5h24v24h-24zM946.4 995.1h24v24h-24zM892.3 1097.6h24v24h-24zM865.2 1148.8h24v24h-24zM824.7 1225.6h24v24h-24zM757 1353.7h24v24h-24zM865.2 995.1h24v24h-24zM851.7 1020.7h24v24h-24zM838.2 1046.3h24v24h-24zM811.1 1097.6h24v24h-24zM797.6 1123.2h24v24h-24zM770.5 1174.4h24v24h-24zM743.5 1225.6h24v24h-24zM865.2 943.9h24v24h-24zM851.7 969.5h24v24h-24zM838.2 995.1h24v24h-24zM797.6 1072h24v24h-24zM770.5 1123.2h24v24h-24zM757 1148.8h24v24h-24z" fill="#f00"/><path d="M1313.8 1535.1h19.7v19.7h-19.7zM1503.2 1535.1h19.7v19.7h-19.7zM1855 1535.1h19.7v19.7h-19.7zM1273.3 1560.7h19.7v19.7h-19.7zM1151.5 1740h19.7v19.7h-19.7zM1909.1 1740h19.7v19.7h-19.7zM1814.4 1868h19.7v19.7h-19.7zM1449.1 971.7h19.7v19.7h-19.7zM1503.2 1022.9h19.7v19.7h-19.7zM1976.8 1150.9h19.7v19.7h-19.7zM1922.6 997.3h19.7v19.7h-19.7zM1124.4 1535.1h19.7v19.7h-19.7zM1205.6 971.7h19.7v19.7h-19.7zM1110.9 1150.9h19.7v19.7h-19.7zM1043.3 1279h19.7v19.7h-19.7zM935 1483.9h19.7v19.7h-19.7zM1178.6 971.7h19.7v19.7h-19.7zM975.6 946.1h19.7v19.7h-19.7zM880.9 971.7h19.7v19.7h-19.7zM718.6 1279h19.7v19.7h-19.7zM880.9 920.4h19.7v19.7h-19.7zM826.8 1022.9h19.7v19.7h-19.7z" fill="#4b1c14"/><path d="M1323.7 1544.9h0M1513.1 1544.9h0M1864.8 1544.9h0M1283.1 1570.5h0M1161.3 1749.8h0M1919 1749.8h0M1824.3 1877.8h0M1459 981.5h0M1513.1 1032.7h0M1986.6 1160.8h0M1932.5 1007.1h0M1134.3 1544.9h0M1215.5 981.5h0M1120.8 1160.8h0M1053.1 1288.8h0M944.9 1493.7h0M1188.4 981.5h0M985.5 955.9h0M890.8 981.5h0M728.4 1288.8h0M890.8 930.3h0M836.7 1032.7h0" stroke="#6a6c6c" stroke-width="17" stroke-linecap="round" fill="none"/><path d="M1080.2 488.1h19.7v19.7h-19.7zM1098.2 516.1h19.7v19.7h-19.7zM996.1 689.1h19.7v19.7h-19.7zM1080.2 893.1h19.7v19.7h-19.7zM852.1 921.1h19.7v19.7h-19.7zM1156.2 943.1h19.7v19.7h-19.7zM1186.2 687.1h19.7v19.7h-19.7zM1366.2 560.1h19.7v19.7h-19.7zM1449.2 611.1h19.7v19.7h-19.7zM1597.2 586.1h19.7v19.7h-19.7zM1624.2 637.1h19.7v19.7h-19.7zM1217.2 688.1h19.7v19.7h-19.7zM1476.2 712.1h19.7v19.7h-19.7zM1489.2 736.1h19.7v19.7h-19.7zM1476.2 763.1h19.7v19.7h-19.7zM1459.2 890.1h19.7v19.7h-19.7zM1486.2 890.1h19.7v19.7h-19.7zM1473.2 916.1h19.7v19.7h-19.7zM1611.2 917.1h19.7v19.7h-19.7zM1242.2 942.1h19.7v19.7h-19.7zM1759.2 637.1h19.7v19.7h-19.7zM1866.2 639.1h19.7v19.7h-19.7zM1880.2 665.1h19.7v19.7h-19.7zM1842.2 790.1h19.7v19.7h-19.7zM2003.2 945.1h19.7v19.7h-19.7zM792.1 1024.2h19.7v19.7h-19.7zM885.1 1049.2h19.7v19.7h-19.7zM799.1 1178.2h19.7v19.7h-19.7zM972.1 1202.2h19.7v19.7h-19.7zM870.1 1384.2h19.7v19.7h-19.7zM1142.2 970.1h19.7v19.7h-19.7zM1625.2 1048.2h19.7v19.7h-19.7zM1462.2 1100.2h19.7v19.7h-19.7zM1417.2 1178.2h19.7v19.7h-19.7zM1501.2 1177.2h19.7v19.7h-19.7zM1421.2 1227.2h19.7v19.7h-19.7zM1680.2 1205.2h19.7v19.7h-19.7zM1353.2 1411.2h19.7v19.7h-19.7zM1395.2 1435.2h19.7v19.7h-19.7zM1624.2 1413.2h19.7v19.7h-19.7zM1696.2 1070.2h19.7v19.7h-19.7zM2071.2 1025.2h19.7v19.7h-19.7zM2083.2 1098.2h19.7v19.7h-19.7zM1750.2 1175.2h19.7v19.7h-19.7zM1735.2 1205.2h19.7v19.7h-19.7zM1898.2 1205.2h19.7v19.7h-19.7zM1965.2 1226.2h19.7v19.7h-19.7zM2045.2 1231.2h19.7v19.7h-19.7zM2084.2 1257.2h19.7v19.7h-19.7zM2070.2 1278.2h19.7v19.7h-19.7zM1858.2 1433.2h19.7v19.7h-19.7zM989.1 1638.2h19.7v19.7h-19.7zM1123.2 1741.2h19.7v19.7h-19.7zM1052.2 1868.2h19.7v19.7h-19.7zM1141.2 1914.2h19.7v19.7h-19.7zM1264.2 1466.2h19.7v19.7h-19.7zM1518.2 1461.2h19.7v19.7h-19.7zM1655.2 1512.2h19.7v19.7h-19.7zM1233.2 1787.2h19.7v19.7h-19.7zM1396.2 1787.2h19.7v19.7h-19.7zM1226.2 1897.2h19.7v19.7h-19.7zM1491.2 1917.2h19.7v19.7h-19.7zM1814.2 1619.2h19.7v19.7h-19.7zM1690.2 1646.2h19.7v19.7h-19.7zM1854.2 1787.2h19.7v19.7h-19.7zM1760.2 1814.2h19.7v19.7h-19.7zM1812.2 1910.2h19.7v19.7h-19.7z" fill="#000" fill-opacity="0.6"/><polygon points="687.8,1212 1066.6,494.9 1824.3,494.9 2203.1,1212 1824.3,1929.1 1066.6,1929.1" fill="none" stroke="#000" stroke-opacity="0.5" stroke-width="12" stroke-linejoin="round"/></g><rect x="600.5" y="288.5" width="1690.9" height="1848" fill="none" stroke="#000" stroke-width="3.33"/><path d="M786.7 2136v-20.8M786.7 288v20.8M1006.3 2136v-20.8M1006.3 288v20.8M1225.9 2136v-20.8M1225.9 288v20.8M1445.5 2136v-20.8M1445.5 288v20.8M1665 2136v-20.8M1665 288v20.8M1884.6 2136v-20.8M1884.6 288v20.8M2104.2 2136v-20.8M2104.2 288v20.8M600 1932h20.8M2290.9 1932h-20.8M600 1692h20.8M2290.9 1692h-20.8M600 1452h20.8M2290.9 1452h-20.8M600 1212h20.8M2290.9 1212h-20.8M600 972h20.8M2290.9 972h-20.8M600 732h20.8M2290.9 732h-20.8M600 492h20.8M2290.9 492h-20.8" stroke="#000" stroke-width="3.33" fill="none"/><text x="786.7" y="2189" font-size="53" text-anchor="middle" textLength="141.5" lengthAdjust="spacingAndGlyphs">149.4</text><text x="1006.3" y="2189" font-size="53" text-anchor="middle" textLength="141.5" lengthAdjust="spacingAndGlyphs">149.6</text><text x="1225.9" y="2189" font-size="53" text-anchor="middle" textLength="141.5" lengthAdjust="spacingAndGlyphs">149.8</text><text x="1445.5" y="2189" font-size="53" text-anchor="middle" textLength="141.5" lengthAdjust="spacingAndGlyphs">150.0</text><text x="1665" y="2189" font-size="53" text-anchor="middle" textLength="141.5" lengthAdjust="spacingAndGlyphs">150.2</text><text x="1884.6" y="2189" font-size="53" text-anchor="middle" textLength="141.5" lengthAdjust="spacingAndGlyphs">150.4</text><text x="2104.2" y="2189" font-size="53" text-anchor="middle" textLength="141.5" lengthAdjust="spacingAndGlyphs">150.6</text><text x="585.6" y="1950.5" font-size="53" text-anchor="end" textLength="77.8" lengthAdjust="spacingAndGlyphs">1.4</text><text x="585.6" y="1710.5" font-size="53" text-anchor="end" textLength="77.8" lengthAdjust="spacingAndGlyphs">1.6</text><text x="585.6" y="1470.5" font-size="53" text-anchor="end" textLength="77.8" lengthAdjust="spacingAndGlyphs">1.8</text><text x="585.6" y="1230.5" font-size="53" text-anchor="end" textLength="77.8" lengthAdjust="spacingAndGlyphs">2.0</text><text x="585.6" y="990.5" font-size="53" text-anchor="end" textLength="77.8" lengthAdjust="spacingAndGlyphs">2.2</text><text x="585.6" y="750.5" font-size="53" text-anchor="end" textLength="77.8" lengthAdjust="spacingAndGlyphs">2.4</text><text x="585.6" y="510.5" font-size="53" text-anchor="end" textLength="77.8" lengthAdjust="spacingAndGlyphs">2.6</text><text x="1445.5" y="264" font-size="63" text-anchor="middle" textLength="766" lengthAdjust="spacingAndGlyphs">without flagging n2 cobra</text><g transform="translate(2029.1 0)"><use href="#tg"/><use href="#as"/><use href="#dm"/><path d="M1080.2 488.1h19.7v19.7h-19.7zM1098.2 516.1h19.7v19.7h-19.7zM996.1 689.1h19.7v19.7h-19.7zM1080.2 893.1h19.7v19.7h-19.7zM852.1 922.1h19.7v19.7h-19.7zM1156.2 943.1h19.7v19.7h-19.7zM1187.2 687.1h19.7v19.7h-19.7zM1380.2 537.1h19.7v19.7h-19.7zM1449.2 611.1h19.7v19.7h-19.7zM1597.2 586.1h19.7v19.7h-19.7zM1624.2 637.1h19.7v19.7h-19.7zM1217.2 688.1h19.7v19.7h-19.7zM1476.2 712.1h19.7v19.7h-19.7zM1489.2 736.1h19.7v19.7h-19.7zM1476.2 763.1h19.7v19.7h-19.7zM1459.2 890.1h19.7v19.7h-19.7zM1486.2 890.1h19.7v19.7h-19.7zM1473.2 916.1h19.7v19.7h-19.7zM1611.2 917.1h19.7v19.7h-19.7zM1242.2 942.1h19.7v19.7h-19.7zM1717.2 562.1h19.7v19.7h-19.7zM1759.2 637.1h19.7v19.7h-19.7zM1866.2 639.1h19.7v19.7h-19.7zM1880.2 665.1h19.7v19.7h-19.7zM1842.2 790.1h19.7v19.7h-19.7zM1868.2 790.1h19.7v19.7h-19.7zM2003.2 945.1h19.7v19.7h-19.7zM792.1 1024.2h19.7v19.7h-19.7zM885.1 1049.2h19.7v19.7h-19.7zM1142.2 970.1h19.7v19.7h-19.7zM799.1 1178.2h19.7v19.7h-19.7zM972.1 1202.2h19.7v19.7h-19.7zM871.1 1384.2h19.7v19.7h-19.7zM1625.2 1048.2h19.7v19.7h-19.7zM1462.2 1100.2h19.7v19.7h-19.7zM1417.2 1178.2h19.7v19.7h-19.7zM1517.2 1202.2h19.7v19.7h-19.7zM1421.2 1227.2h19.7v19.7h-19.7zM1680.2 1205.2h19.7v19.7h-19.7zM1353.2 1411.2h19.7v19.7h-19.7zM1395.2 1435.2h19.7v19.7h-19.7zM1624.2 1413.2h19.7v19.7h-19.7zM2071.2 1025.2h19.7v19.7h-19.7zM1696.2 1070.2h19.7v19.7h-19.7zM2083.2 1098.2h19.7v19.7h-19.7zM1750.2 1175.2h19.7v19.7h-19.7zM1735.2 1205.2h19.7v19.7h-19.7zM1898.2 1205.2h19.7v19.7h-19.7zM1965.2 1226.2h19.7v19.7h-19.7zM2045.2 1231.2h19.7v19.7h-19.7zM2084.2 1257.2h19.7v19.7h-19.7zM2070.2 1278.2h19.7v19.7h-19.7zM1858.2 1433.2h19.7v19.7h-19.7zM989.1 1637.2h19.7v19.7h-19.7zM1125.2 1741.2h19.7v19.7h-19.7zM1052.2 1868.2h19.7v19.7h-19.7zM1141.2 1915.2h19.7v19.7h-19.7zM1264.2 1466.2h19.7v19.7h-19.7zM1518.2 1461.2h19.7v19.7h-19.7zM1655.2 1512.2h19.7v19.7h-19.7zM1686.2 1646.2h19.7v19.7h-19.7zM1233.2 1792.2h19.7v19.7h-19.7zM1396.2 1792.2h19.7v19.7h-19.7zM1226.2 1897.2h19.7v19.7h-19.7zM1491.2 1917.2h19.7v19.7h-19.7zM1814.2 1619.2h19.7v19.7h-19.7zM1854.2 1787.2h19.7v19.7h-19.7zM1760.2 1814.2h19.7v19.7h-19.7zM1812.2 1910.2h19.7v19.7h-19.7z" fill="#000" fill-opacity="0.6"/><path d="M1124.4 715.6h19.7v19.7h-19.7zM1070.3 766.8h19.7v19.7h-19.7zM1043.3 869.2h19.7v19.7h-19.7zM880.9 920.4h19.7v19.7h-19.7zM867.4 946.1h19.7v19.7h-19.7zM975.6 946.1h19.7v19.7h-19.7zM1259.7 613.1h19.7v19.7h-19.7zM1381.5 792.4h19.7v19.7h-19.7zM1395 818h19.7v19.7h-19.7zM1408.5 843.6h19.7v19.7h-19.7zM1422.1 869.2h19.7v19.7h-19.7zM1530.3 664.3h19.7v19.7h-19.7zM1543.8 741.2h19.7v19.7h-19.7zM1625 843.6h19.7v19.7h-19.7zM1259.7 869.2h19.7v19.7h-19.7zM1246.2 894.8h19.7v19.7h-19.7zM1192.1 946.1h19.7v19.7h-19.7zM1773.8 510.7h19.7v19.7h-19.7zM1760.3 536.3h19.7v19.7h-19.7zM1719.7 613.1h19.7v19.7h-19.7zM1706.2 638.7h19.7v19.7h-19.7zM1733.2 638.7h19.7v19.7h-19.7zM1855 664.3h19.7v19.7h-19.7zM1827.9 869.2h19.7v19.7h-19.7zM880.9 971.7h19.7v19.7h-19.7zM975.6 997.3h19.7v19.7h-19.7zM826.8 1022.9h19.7v19.7h-19.7zM799.7 1074.1h19.7v19.7h-19.7zM1178.6 971.7h19.7v19.7h-19.7zM1165 1048.5h19.7v19.7h-19.7zM867.4 1150.9h19.7v19.7h-19.7zM772.7 1176.5h19.7v19.7h-19.7zM853.9 1176.5h19.7v19.7h-19.7zM1110.9 1150.9h19.7v19.7h-19.7zM826.8 1227.8h19.7v19.7h-19.7zM718.6 1279h19.7v19.7h-19.7zM1043.3 1279h19.7v19.7h-19.7zM813.3 1304.6h19.7v19.7h-19.7zM1002.7 1304.6h19.7v19.7h-19.7zM786.2 1355.8h19.7v19.7h-19.7zM975.6 1355.8h19.7v19.7h-19.7zM1002.7 1355.8h19.7v19.7h-19.7zM989.2 1381.4h19.7v19.7h-19.7zM975.6 1407h19.7v19.7h-19.7zM1178.6 1432.6h19.7v19.7h-19.7zM1205.6 971.7h19.7v19.7h-19.7zM1449.1 971.7h19.7v19.7h-19.7zM1462.7 997.3h19.7v19.7h-19.7zM1503.2 1022.9h19.7v19.7h-19.7zM1368 1074.1h19.7v19.7h-19.7zM1570.9 1150.9h19.7v19.7h-19.7zM1246.2 1304.6h19.7v19.7h-19.7zM1232.7 1330.2h19.7v19.7h-19.7zM1476.2 1330.2h19.7v19.7h-19.7zM1922.6 997.3h19.7v19.7h-19.7zM1706.2 1048.5h19.7v19.7h-19.7zM1733.2 1048.5h19.7v19.7h-19.7zM1976.8 1150.9h19.7v19.7h-19.7zM2003.8 1150.9h19.7v19.7h-19.7zM2017.3 1176.5h19.7v19.7h-19.7zM1773.8 1330.2h19.7v19.7h-19.7zM1949.7 1355.8h19.7v19.7h-19.7zM1976.8 1355.8h19.7v19.7h-19.7zM908 1483.9h19.7v19.7h-19.7zM935 1483.9h19.7v19.7h-19.7zM894.4 1509.5h19.7v19.7h-19.7zM894.4 1560.7h19.7v19.7h-19.7zM1151.5 1483.9h19.7v19.7h-19.7zM1124.4 1535.1h19.7v19.7h-19.7zM1097.4 1586.3h19.7v19.7h-19.7zM1083.9 1611.9h19.7v19.7h-19.7zM989.2 1740h19.7v19.7h-19.7zM1151.5 1740h19.7v19.7h-19.7zM1313.8 1535.1h19.7v19.7h-19.7zM1422.1 1535.1h19.7v19.7h-19.7zM1503.2 1535.1h19.7v19.7h-19.7zM1584.4 1535.1h19.7v19.7h-19.7zM1611.5 1535.1h19.7v19.7h-19.7zM1273.3 1560.7h19.7v19.7h-19.7zM1354.4 1560.7h19.7v19.7h-19.7zM1381.5 1560.7h19.7v19.7h-19.7zM1489.7 1560.7h19.7v19.7h-19.7zM1570.9 1560.7h19.7v19.7h-19.7zM1286.8 1740h19.7v19.7h-19.7zM1638.5 1740h19.7v19.7h-19.7zM1679.1 1868h19.7v19.7h-19.7zM1855 1535.1h19.7v19.7h-19.7zM1882 1535.1h19.7v19.7h-19.7zM1868.5 1560.7h19.7v19.7h-19.7zM1719.7 1740h19.7v19.7h-19.7zM1909.1 1740h19.7v19.7h-19.7zM1706.2 1765.6h19.7v19.7h-19.7zM1760.3 1765.6h19.7v19.7h-19.7zM1814.4 1765.6h19.7v19.7h-19.7zM1706.2 1868h19.7v19.7h-19.7zM1814.4 1868h19.7v19.7h-19.7z" fill="#4b1c14"/><path d="M1134.3 725.4h0M1080.2 776.6h0M1053.1 879.1h0M890.8 930.3h0M877.2 955.9h0M985.5 955.9h0M1269.6 623h0M1391.3 802.2h0M1404.9 827.9h0M1418.4 853.5h0M1431.9 879.1h0M1540.2 674.2h0M1553.7 751h0M1634.9 853.5h0M1269.6 879.1h0M1256 904.7h0M1201.9 955.9h0M1783.7 520.5h0M1770.1 546.2h0M1729.6 623h0M1716 648.6h0M1743.1 648.6h0M1864.8 674.2h0M1837.8 879.1h0M890.8 981.5h0M985.5 1007.1h0M836.7 1032.7h0M809.6 1084h0M1188.4 981.5h0M1174.9 1058.3h0M877.2 1160.8h0M782.5 1186.4h0M863.7 1186.4h0M1120.8 1160.8h0M836.7 1237.6h0M728.4 1288.8h0M1053.1 1288.8h0M823.1 1314.4h0M1012.5 1314.4h0M796.1 1365.7h0M985.5 1365.7h0M1012.5 1365.7h0M999 1391.3h0M985.5 1416.9h0M1188.4 1442.5h0M1215.5 981.5h0M1459 981.5h0M1472.5 1007.1h0M1513.1 1032.7h0M1377.8 1084h0M1580.7 1160.8h0M1256 1314.4h0M1242.5 1340h0M1486 1340h0M1932.5 1007.1h0M1716 1058.3h0M1743.1 1058.3h0M1986.6 1160.8h0M2013.7 1160.8h0M2027.2 1186.4h0M1783.7 1340h0M1959.5 1365.7h0M1986.6 1365.7h0M917.8 1493.7h0M944.9 1493.7h0M904.3 1519.3h0M904.3 1570.5h0M1161.3 1493.7h0M1134.3 1544.9h0M1107.2 1596.1h0M1093.7 1621.8h0M999 1749.8h0M1161.3 1749.8h0M1323.7 1544.9h0M1431.9 1544.9h0M1513.1 1544.9h0M1594.3 1544.9h0M1621.3 1544.9h0M1283.1 1570.5h0M1364.3 1570.5h0M1391.3 1570.5h0M1499.6 1570.5h0M1580.7 1570.5h0M1296.6 1749.8h0M1648.4 1749.8h0M1689 1877.8h0M1864.8 1544.9h0M1891.9 1544.9h0M1878.4 1570.5h0M1729.6 1749.8h0M1919 1749.8h0M1716 1775.4h0M1770.1 1775.4h0M1824.3 1775.4h0M1716 1877.8h0M1824.3 1877.8h0" stroke="#6a6c6c" stroke-width="17" stroke-linecap="round" fill="none"/><polygon points="687.8,1212 1066.6,494.9 1824.3,494.9 2203.1,1212 1824.3,1929.1 1066.6,1929.1" fill="none" stroke="#000" stroke-opacity="0.5" stroke-width="12" stroke-linejoin="round"/></g><rect x="2629.6" y="288.5" width="1690.9" height="1848" fill="none" stroke="#000" stroke-width="3.33"/><path d="M2815.8 2136v-20.8M2815.8 288v20.8M3035.4 2136v-20.8M3035.4 288v20.8M3255 2136v-20.8M3255 288v20.8M3474.6 2136v-20.8M3474.6 288v20.8M3694.1 2136v-20.8M3694.1 288v20.8M3913.7 2136v-20.8M3913.7 288v20.8M4133.3 2136v-20.8M4133.3 288v20.8M2629.1 1932h20.8M4320 1932h-20.8M2629.1 1692h20.8M4320 1692h-20.8M2629.1 1452h20.8M4320 1452h-20.8M2629.1 1212h20.8M4320 1212h-20.8M2629.1 972h20.8M4320 972h-20.8M2629.1 732h20.8M4320 732h-20.8M2629.1 492h20.8M4320 492h-20.8" stroke="#000" stroke-width="3.33" fill="none"/><text x="2815.8" y="2189" font-size="53" text-anchor="middle" textLength="141.5" lengthAdjust="spacingAndGlyphs">149.4</text><text x="3035.4" y="2189" font-size="53" text-anchor="middle" textLength="141.5" lengthAdjust="spacingAndGlyphs">149.6</text><text x="3255" y="2189" font-size="53" text-anchor="middle" textLength="141.5" lengthAdjust="spacingAndGlyphs">149.8</text><text x="3474.6" y="2189" font-size="53" text-anchor="middle" textLength="141.5" lengthAdjust="spacingAndGlyphs">150.0</text><text x="3694.1" y="2189" font-size="53" text-anchor="middle" textLength="141.5" lengthAdjust="spacingAndGlyphs">150.2</text><text x="3913.7" y="2189" font-size="53" text-anchor="middle" textLength="141.5" lengthAdjust="spacingAndGlyphs">150.4</text><text x="4133.3" y="2189" font-size="53" text-anchor="middle" textLength="141.5" lengthAdjust="spacingAndGlyphs">150.6</text><text x="2614.7" y="1950.5" font-size="53" text-anchor="end" textLength="77.8" lengthAdjust="spacingAndGlyphs">1.4</text><text x="2614.7" y="1710.5" font-size="53" text-anchor="end" textLength="77.8" lengthAdjust="spacingAndGlyphs">1.6</text><text x="2614.7" y="1470.5" font-size="53" text-anchor="end" textLength="77.8" lengthAdjust="spacingAndGlyphs">1.8</text><text x="2614.7" y="1230.5" font-size="53" text-anchor="end" textLength="77.8" lengthAdjust="spacingAndGlyphs">2.0</text><text x="2614.7" y="990.5" font-size="53" text-anchor="end" textLength="77.8" lengthAdjust="spacingAndGlyphs">2.2</text><text x="2614.7" y="750.5" font-size="53" text-anchor="end" textLength="77.8" lengthAdjust="spacingAndGlyphs">2.4</text><text x="2614.7" y="510.5" font-size="53" text-anchor="end" textLength="77.8" lengthAdjust="spacingAndGlyphs">2.6</text><text x="3474.6" y="264" font-size="63" text-anchor="middle" textLength="667.4" lengthAdjust="spacingAndGlyphs">with flagging n2 cobra</text><rect x="625" y="1804" width="1122.9" height="307.1" rx="10" fill="#fff" fill-opacity="0.8" stroke="#ccc" stroke-opacity="0.8" stroke-width="3.5"/><circle cx="695.3" cy="1845.6" r="4.1" fill="#1e90ff"/><path d="M695.3 1902.9l15 15l-15 15l-15 -15z" fill="none" stroke="tomato" stroke-width="3.5"/><rect x="685.4" y="1981.1" width="19.7" height="19.7" fill="#000" fill-opacity="0.6"/><rect x="683.3" y="2052" width="24" height="24" fill="#f00"/><text x="785.5" y="1862.2" font-size="52.5" textLength="418.0" lengthAdjust="spacingAndGlyphs">assigned targets</text><text x="785.5" y="1936" font-size="52.5" textLength="218.3" lengthAdjust="spacingAndGlyphs">n2 cobra</text><text x="785.5" y="2008.2" font-size="52.5" textLength="377.8" lengthAdjust="spacingAndGlyphs">unassign cobra</text><text x="785.5" y="2081.2" font-size="52.5" textLength="946.1" lengthAdjust="spacingAndGlyphs">N2 cobra assigned to target need NIR</text></svg></body></html>
